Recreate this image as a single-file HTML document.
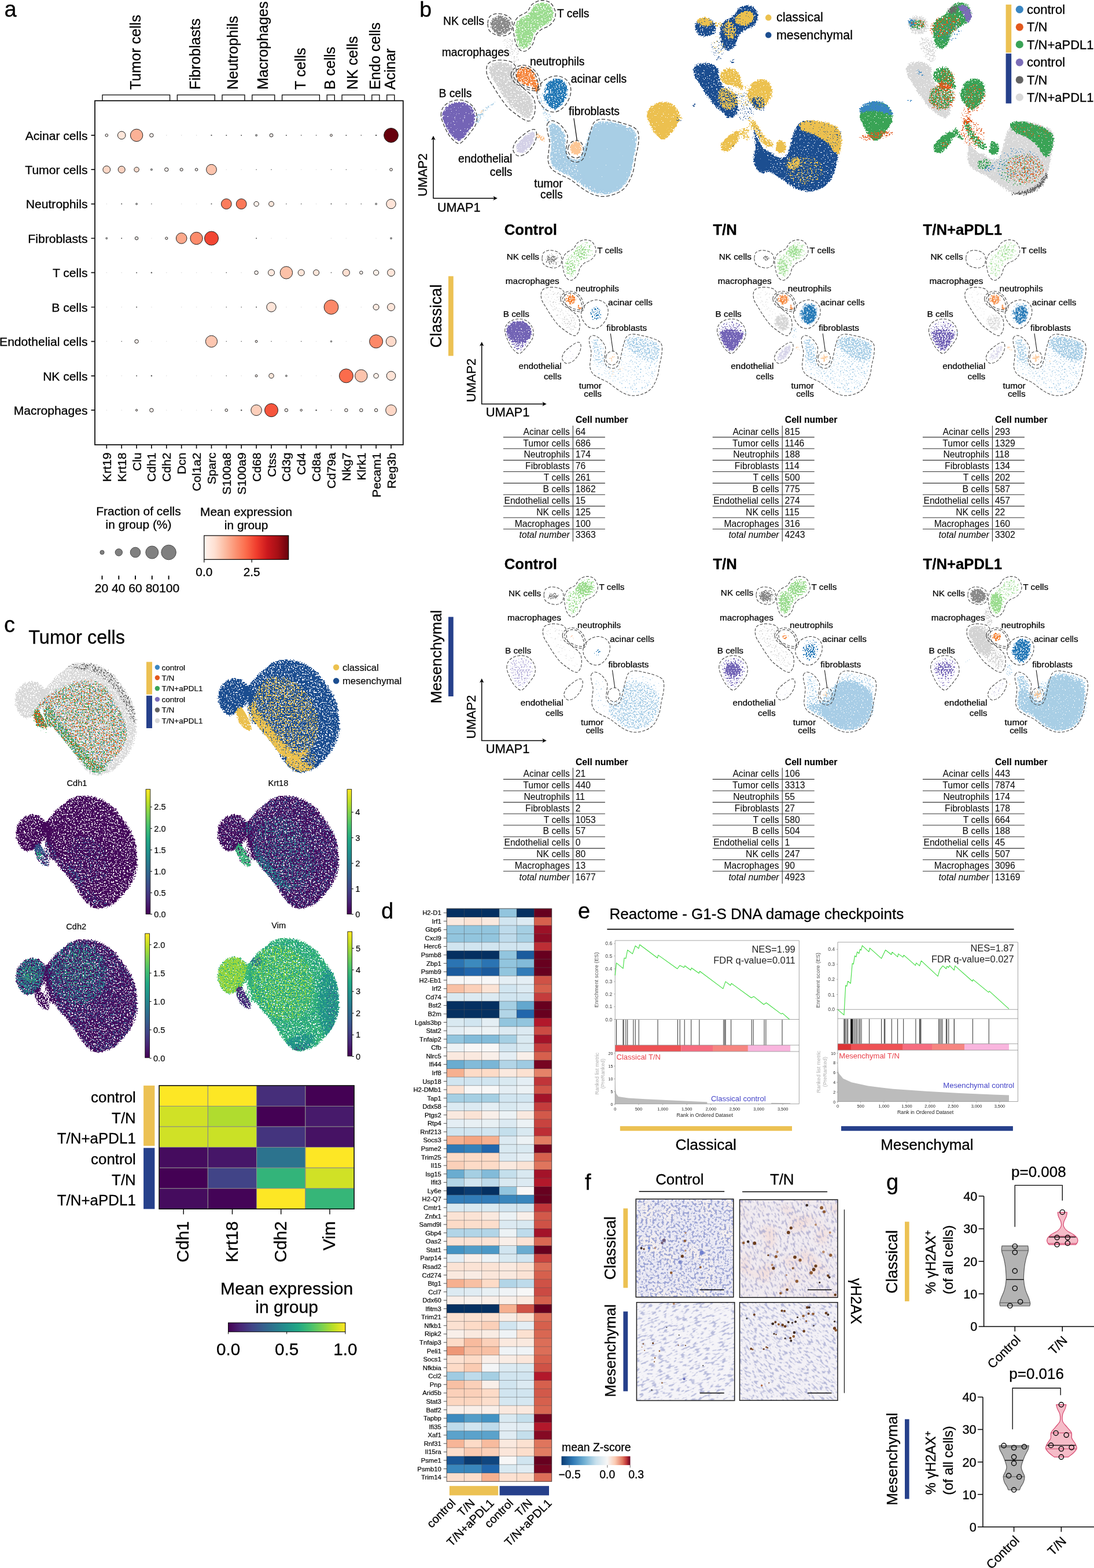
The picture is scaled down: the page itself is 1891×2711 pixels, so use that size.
<!DOCTYPE html>
<html lang="en"><head><meta charset="utf-8"><title>Figure</title>
<style>
html,body{margin:0;padding:0;background:#fff}
svg{display:block}
text{font-family:"Liberation Sans",sans-serif;stroke:#000;stroke-width:.3px}
text[fill],.ns text{stroke:none}
.n1{stroke-width:.15px}
.n2 text{stroke-width:.3px}
.n3 text{stroke-width:.2px}
</style></head><body>
<svg width="1891" height="2711" viewBox="0 0 1891 2711">
<rect width="1891" height="2711" fill="#fff"/>
<text x="7.5" y="28.8" font-size="38">a</text>
<text transform="translate(242.9 155) rotate(-90)" font-size="25.2">Tumor cells</text>
<text transform="translate(346.4 155) rotate(-90)" font-size="25.2">Fibroblasts</text>
<text transform="translate(411.1 155) rotate(-90)" font-size="25.2">Neutrophils</text>
<text transform="translate(462.9 155) rotate(-90)" font-size="25.2">Macrophages</text>
<text transform="translate(527.6 155) rotate(-90)" font-size="25.2">T cells</text>
<text transform="translate(579.4 155) rotate(-90)" font-size="25.2">B cells</text>
<text transform="translate(618.2 155) rotate(-90)" font-size="25.2">NK cells</text>
<text transform="translate(657 155) rotate(-90)" font-size="25.2">Endo cells</text>
<text transform="translate(682.9 155) rotate(-90)" font-size="25.2">Acinar</text>
<path d="M177 174.2V164.2H293.6V174.2M306.4 174.2V164.2H371.3V174.2M384 174.2V164.2H423V174.2M435.8 174.2V164.2H474.8V174.2M487.6 174.2V164.2H552.4V174.2M565.2 174.2V164.2H578.3V174.2M591.1 174.2V164.2H630.1V174.2M642.8 174.2V164.2H655.9V174.2M668.7 174.2V164.2H681.8V174.2" fill="none" stroke="#000" stroke-width="1.3"/>
<rect x="164" y="174.2" width="532.8" height="594.8" fill="none" stroke="#111" stroke-width="1.8"/>
<path d="M157.5 233.9H164M157.5 293.2H164M157.5 352.6H164M157.5 412H164M157.5 471.4H164M157.5 531H164M157.5 590.3H164M157.5 649.8H164M157.5 709.2H164M184.3 769V775.6M210.2 769V775.6M236.1 769V775.6M261.9 769V775.6M287.8 769V775.6M313.7 769V775.6M339.6 769V775.6M365.5 769V775.6M391.3 769V775.6M417.2 769V775.6M443.1 769V775.6M469 769V775.6M494.9 769V775.6M520.7 769V775.6M546.6 769V775.6M572.5 769V775.6M598.4 769V775.6M624.3 769V775.6M650.1 769V775.6M676 769V775.6" fill="none" stroke="#111" stroke-width="1.7"/>
<text x="151.5" y="241.7" font-size="21.1" text-anchor="end">Acinar cells</text>
<text x="151.5" y="301" font-size="21.1" text-anchor="end">Tumor cells</text>
<text x="151.5" y="360.4" font-size="21.1" text-anchor="end">Neutrophils</text>
<text x="151.5" y="419.8" font-size="21.1" text-anchor="end">Fibroblasts</text>
<text x="151.5" y="479.2" font-size="21.1" text-anchor="end">T cells</text>
<text x="151.5" y="538.8" font-size="21.1" text-anchor="end">B cells</text>
<text x="151.5" y="598.1" font-size="21.1" text-anchor="end">Endothelial cells</text>
<text x="151.5" y="657.6" font-size="21.1" text-anchor="end">NK cells</text>
<text x="151.5" y="717" font-size="21.1" text-anchor="end">Macrophages</text>
<text transform="translate(191.8 782.5) rotate(-90)" font-size="21.1" text-anchor="end">Krt19</text>
<text transform="translate(217.7 782.5) rotate(-90)" font-size="21.1" text-anchor="end">Krt18</text>
<text transform="translate(243.6 782.5) rotate(-90)" font-size="21.1" text-anchor="end">Clu</text>
<text transform="translate(269.4 782.5) rotate(-90)" font-size="21.1" text-anchor="end">Cdh1</text>
<text transform="translate(295.3 782.5) rotate(-90)" font-size="21.1" text-anchor="end">Cdh2</text>
<text transform="translate(321.2 782.5) rotate(-90)" font-size="21.1" text-anchor="end">Dcn</text>
<text transform="translate(347.1 782.5) rotate(-90)" font-size="21.1" text-anchor="end">Col1a2</text>
<text transform="translate(373 782.5) rotate(-90)" font-size="21.1" text-anchor="end">Sparc</text>
<text transform="translate(398.8 782.5) rotate(-90)" font-size="21.1" text-anchor="end">S100a8</text>
<text transform="translate(424.7 782.5) rotate(-90)" font-size="21.1" text-anchor="end">S100a9</text>
<text transform="translate(450.6 782.5) rotate(-90)" font-size="21.1" text-anchor="end">Cd68</text>
<text transform="translate(476.5 782.5) rotate(-90)" font-size="21.1" text-anchor="end">Ctss</text>
<text transform="translate(502.4 782.5) rotate(-90)" font-size="21.1" text-anchor="end">Cd3g</text>
<text transform="translate(528.2 782.5) rotate(-90)" font-size="21.1" text-anchor="end">Cd4</text>
<text transform="translate(554.1 782.5) rotate(-90)" font-size="21.1" text-anchor="end">Cd8a</text>
<text transform="translate(580 782.5) rotate(-90)" font-size="21.1" text-anchor="end">Cd79a</text>
<text transform="translate(605.9 782.5) rotate(-90)" font-size="21.1" text-anchor="end">Nkg7</text>
<text transform="translate(631.8 782.5) rotate(-90)" font-size="21.1" text-anchor="end">Klrk1</text>
<text transform="translate(657.6 782.5) rotate(-90)" font-size="21.1" text-anchor="end">Pecam1</text>
<text transform="translate(683.5 782.5) rotate(-90)" font-size="21.1" text-anchor="end">Reg3b</text>
<circle cx="184.3" cy="233.9" r="2.3" fill="#fff5f0" stroke="#222" stroke-width="1"/>
<circle cx="210.2" cy="233.9" r="6.8" fill="#fee6da" stroke="#222" stroke-width="1"/>
<circle cx="236.1" cy="233.9" r="10.7" fill="#fcb196" stroke="#222" stroke-width="1"/>
<circle cx="261.9" cy="233.9" r="3.2" fill="#fff5f0" stroke="#222" stroke-width="1"/>
<circle cx="287.8" cy="233.9" r="0.8" fill="#ddd"/>
<circle cx="313.7" cy="233.9" r="0.8" fill="#ddd"/>
<circle cx="339.6" cy="233.9" r="0.8" fill="#ddd"/>
<circle cx="365.5" cy="233.9" r="1.1" fill="#555"/>
<circle cx="391.3" cy="233.9" r="1" fill="#555"/>
<circle cx="417.2" cy="233.9" r="1" fill="#555"/>
<circle cx="443.1" cy="233.9" r="1.7" fill="#999" stroke="#444" stroke-width="0.6"/>
<circle cx="469" cy="233.9" r="2.9" fill="#fff5f0" stroke="#222" stroke-width="1"/>
<circle cx="494.9" cy="233.9" r="1" fill="#555"/>
<circle cx="520.7" cy="233.9" r="0.8" fill="#555"/>
<circle cx="546.6" cy="233.9" r="0.8" fill="#555"/>
<circle cx="572.5" cy="233.9" r="1.9" fill="#fff5f0" stroke="#222" stroke-width="1"/>
<circle cx="598.4" cy="233.9" r="1" fill="#555"/>
<circle cx="624.3" cy="233.9" r="0.8" fill="#555"/>
<circle cx="650.1" cy="233.9" r="1.2" fill="#555"/>
<circle cx="676" cy="233.9" r="12.4" fill="#67000d" stroke="#222" stroke-width="1"/>
<circle cx="184.3" cy="293.2" r="6.4" fill="#fed7c6" stroke="#222" stroke-width="1"/>
<circle cx="210.2" cy="293.2" r="6" fill="#fdd1bf" stroke="#222" stroke-width="1"/>
<circle cx="236.1" cy="293.2" r="4.2" fill="#fedccd" stroke="#222" stroke-width="1"/>
<circle cx="261.9" cy="293.2" r="1.7" fill="#999" stroke="#444" stroke-width="0.6"/>
<circle cx="287.8" cy="293.2" r="3.2" fill="#fff5f0" stroke="#222" stroke-width="1"/>
<circle cx="313.7" cy="293.2" r="2.5" fill="#fff5f0" stroke="#222" stroke-width="1"/>
<circle cx="339.6" cy="293.2" r="2.3" fill="#fff5f0" stroke="#222" stroke-width="1"/>
<circle cx="365.5" cy="293.2" r="8.9" fill="#fcc3ac" stroke="#222" stroke-width="1"/>
<circle cx="391.3" cy="293.2" r="0.8" fill="#ddd"/>
<circle cx="417.2" cy="293.2" r="0.8" fill="#ddd"/>
<circle cx="443.1" cy="293.2" r="0.8" fill="#555"/>
<circle cx="469" cy="293.2" r="0.8" fill="#555"/>
<circle cx="494.9" cy="293.2" r="0.8" fill="#ddd"/>
<circle cx="520.7" cy="293.2" r="0.8" fill="#ddd"/>
<circle cx="546.6" cy="293.2" r="0.8" fill="#ddd"/>
<circle cx="572.5" cy="293.2" r="0.7" fill="#555"/>
<circle cx="598.4" cy="293.2" r="0.7" fill="#555"/>
<circle cx="624.3" cy="293.2" r="0.8" fill="#ddd"/>
<circle cx="650.1" cy="293.2" r="0.8" fill="#ddd"/>
<circle cx="676" cy="293.2" r="2.3" fill="#fff5f0" stroke="#222" stroke-width="1"/>
<circle cx="184.3" cy="352.6" r="0.8" fill="#ddd"/>
<circle cx="210.2" cy="352.6" r="1" fill="#555"/>
<circle cx="236.1" cy="352.6" r="1.6" fill="#999" stroke="#444" stroke-width="0.6"/>
<circle cx="261.9" cy="352.6" r="0.8" fill="#555"/>
<circle cx="313.7" cy="352.6" r="0.8" fill="#ddd"/>
<circle cx="339.6" cy="352.6" r="0.8" fill="#ddd"/>
<circle cx="365.5" cy="352.6" r="1" fill="#555"/>
<circle cx="391.3" cy="352.6" r="8.9" fill="#fb7c5c" stroke="#222" stroke-width="1"/>
<circle cx="417.2" cy="352.6" r="8.9" fill="#fb7858" stroke="#222" stroke-width="1"/>
<circle cx="443.1" cy="352.6" r="4.2" fill="#fff0e9" stroke="#222" stroke-width="1"/>
<circle cx="469" cy="352.6" r="4.4" fill="#fee6da" stroke="#222" stroke-width="1"/>
<circle cx="494.9" cy="352.6" r="0.8" fill="#555"/>
<circle cx="520.7" cy="352.6" r="0.8" fill="#555"/>
<circle cx="546.6" cy="352.6" r="0.8" fill="#ddd"/>
<circle cx="572.5" cy="352.6" r="1" fill="#555"/>
<circle cx="598.4" cy="352.6" r="0.8" fill="#555"/>
<circle cx="624.3" cy="352.6" r="0.8" fill="#555"/>
<circle cx="650.1" cy="352.6" r="1.6" fill="#999" stroke="#444" stroke-width="0.6"/>
<circle cx="676" cy="352.6" r="8.2" fill="#fee4d8" stroke="#222" stroke-width="1"/>
<circle cx="184.3" cy="412" r="1.6" fill="#999" stroke="#444" stroke-width="0.6"/>
<circle cx="210.2" cy="412" r="1" fill="#555"/>
<circle cx="236.1" cy="412" r="2.7" fill="#fff5f0" stroke="#222" stroke-width="1"/>
<circle cx="261.9" cy="412" r="0.8" fill="#ddd"/>
<circle cx="287.8" cy="412" r="2.1" fill="#fff5f0" stroke="#222" stroke-width="1"/>
<circle cx="313.7" cy="412" r="9.3" fill="#fca88b" stroke="#222" stroke-width="1"/>
<circle cx="339.6" cy="412" r="10.7" fill="#fc8b6b" stroke="#222" stroke-width="1"/>
<circle cx="365.5" cy="412" r="12" fill="#f24633" stroke="#222" stroke-width="1"/>
<circle cx="443.1" cy="412" r="1" fill="#555"/>
<circle cx="469" cy="412" r="0.8" fill="#ddd"/>
<circle cx="494.9" cy="412" r="0.8" fill="#ddd"/>
<circle cx="572.5" cy="412" r="0.8" fill="#ddd"/>
<circle cx="598.4" cy="412" r="0.8" fill="#ddd"/>
<circle cx="650.1" cy="412" r="0.8" fill="#ddd"/>
<circle cx="676" cy="412" r="1.5" fill="#999" stroke="#444" stroke-width="0.6"/>
<circle cx="184.3" cy="471.4" r="0.8" fill="#ddd"/>
<circle cx="210.2" cy="471.4" r="0.8" fill="#ddd"/>
<circle cx="236.1" cy="471.4" r="1" fill="#555"/>
<circle cx="261.9" cy="471.4" r="1.2" fill="#555"/>
<circle cx="287.8" cy="471.4" r="0.8" fill="#ddd"/>
<circle cx="313.7" cy="471.4" r="0.8" fill="#ddd"/>
<circle cx="339.6" cy="471.4" r="0.8" fill="#ddd"/>
<circle cx="365.5" cy="471.4" r="0.8" fill="#ddd"/>
<circle cx="391.3" cy="471.4" r="0.8" fill="#555"/>
<circle cx="417.2" cy="471.4" r="0.8" fill="#ddd"/>
<circle cx="443.1" cy="471.4" r="3.2" fill="#fff5f0" stroke="#222" stroke-width="1"/>
<circle cx="469" cy="471.4" r="5.5" fill="#fee9df" stroke="#222" stroke-width="1"/>
<circle cx="494.9" cy="471.4" r="10.7" fill="#fcc1a8" stroke="#222" stroke-width="1"/>
<circle cx="520.7" cy="471.4" r="5.5" fill="#fee6da" stroke="#222" stroke-width="1"/>
<circle cx="546.6" cy="471.4" r="5" fill="#fee6da" stroke="#222" stroke-width="1"/>
<circle cx="572.5" cy="471.4" r="0.8" fill="#555"/>
<circle cx="598.4" cy="471.4" r="6" fill="#fedfd1" stroke="#222" stroke-width="1"/>
<circle cx="624.3" cy="471.4" r="2.7" fill="#fff5f0" stroke="#222" stroke-width="1"/>
<circle cx="650.1" cy="471.4" r="4.6" fill="#fff0e9" stroke="#222" stroke-width="1"/>
<circle cx="676" cy="471.4" r="6.4" fill="#fee6da" stroke="#222" stroke-width="1"/>
<circle cx="184.3" cy="531" r="0.8" fill="#ddd"/>
<circle cx="210.2" cy="531" r="0.8" fill="#ddd"/>
<circle cx="236.1" cy="531" r="1" fill="#555"/>
<circle cx="261.9" cy="531" r="0.8" fill="#ddd"/>
<circle cx="313.7" cy="531" r="0.8" fill="#ddd"/>
<circle cx="339.6" cy="531" r="0.8" fill="#ddd"/>
<circle cx="365.5" cy="531" r="0.8" fill="#ddd"/>
<circle cx="391.3" cy="531" r="0.8" fill="#555"/>
<circle cx="417.2" cy="531" r="0.8" fill="#555"/>
<circle cx="443.1" cy="531" r="1" fill="#555"/>
<circle cx="469" cy="531" r="8.2" fill="#fee4d8" stroke="#222" stroke-width="1"/>
<circle cx="494.9" cy="531" r="0.8" fill="#ddd"/>
<circle cx="520.7" cy="531" r="0.8" fill="#ddd"/>
<circle cx="546.6" cy="531" r="0.8" fill="#ddd"/>
<circle cx="572.5" cy="531" r="12.4" fill="#fc8868" stroke="#222" stroke-width="1"/>
<circle cx="598.4" cy="531" r="0.8" fill="#ddd"/>
<circle cx="624.3" cy="531" r="0.8" fill="#ddd"/>
<circle cx="650.1" cy="531" r="5" fill="#feeae1" stroke="#222" stroke-width="1"/>
<circle cx="676" cy="531" r="6.4" fill="#fee6da" stroke="#222" stroke-width="1"/>
<circle cx="184.3" cy="590.3" r="0.8" fill="#ddd"/>
<circle cx="210.2" cy="590.3" r="0.8" fill="#555"/>
<circle cx="236.1" cy="590.3" r="3.2" fill="#fff5f0" stroke="#222" stroke-width="1"/>
<circle cx="261.9" cy="590.3" r="0.8" fill="#ddd"/>
<circle cx="287.8" cy="590.3" r="0.8" fill="#ddd"/>
<circle cx="339.6" cy="590.3" r="0.8" fill="#ddd"/>
<circle cx="365.5" cy="590.3" r="10.1" fill="#fdc6b0" stroke="#222" stroke-width="1"/>
<circle cx="391.3" cy="590.3" r="0.8" fill="#555"/>
<circle cx="417.2" cy="590.3" r="0.8" fill="#555"/>
<circle cx="443.1" cy="590.3" r="1.9" fill="#fff5f0" stroke="#222" stroke-width="1"/>
<circle cx="469" cy="590.3" r="0.8" fill="#555"/>
<circle cx="494.9" cy="590.3" r="0.8" fill="#ddd"/>
<circle cx="520.7" cy="590.3" r="0.8" fill="#555"/>
<circle cx="546.6" cy="590.3" r="0.8" fill="#ddd"/>
<circle cx="572.5" cy="590.3" r="1.4" fill="#999" stroke="#444" stroke-width="0.6"/>
<circle cx="598.4" cy="590.3" r="0.8" fill="#ddd"/>
<circle cx="624.3" cy="590.3" r="0.8" fill="#ddd"/>
<circle cx="650.1" cy="590.3" r="11.5" fill="#fc8868" stroke="#222" stroke-width="1"/>
<circle cx="676" cy="590.3" r="8.7" fill="#fedaca" stroke="#222" stroke-width="1"/>
<circle cx="184.3" cy="649.8" r="0.8" fill="#ddd"/>
<circle cx="210.2" cy="649.8" r="0.8" fill="#ddd"/>
<circle cx="236.1" cy="649.8" r="1" fill="#555"/>
<circle cx="261.9" cy="649.8" r="1.2" fill="#555"/>
<circle cx="287.8" cy="649.8" r="0.8" fill="#ddd"/>
<circle cx="339.6" cy="649.8" r="0.8" fill="#ddd"/>
<circle cx="365.5" cy="649.8" r="0.8" fill="#ddd"/>
<circle cx="391.3" cy="649.8" r="0.8" fill="#555"/>
<circle cx="417.2" cy="649.8" r="0.8" fill="#ddd"/>
<circle cx="443.1" cy="649.8" r="1.9" fill="#fff5f0" stroke="#222" stroke-width="1"/>
<circle cx="469" cy="649.8" r="4.2" fill="#fee6da" stroke="#222" stroke-width="1"/>
<circle cx="494.9" cy="649.8" r="1.6" fill="#999" stroke="#444" stroke-width="0.6"/>
<circle cx="520.7" cy="649.8" r="0.8" fill="#ddd"/>
<circle cx="546.6" cy="649.8" r="0.8" fill="#ddd"/>
<circle cx="572.5" cy="649.8" r="0.8" fill="#ddd"/>
<circle cx="598.4" cy="649.8" r="12" fill="#fb6c4c" stroke="#222" stroke-width="1"/>
<circle cx="624.3" cy="649.8" r="10.7" fill="#fcc3ac" stroke="#222" stroke-width="1"/>
<circle cx="650.1" cy="649.8" r="4.2" fill="#fff0e9" stroke="#222" stroke-width="1"/>
<circle cx="676" cy="649.8" r="7.8" fill="#fee3d6" stroke="#222" stroke-width="1"/>
<circle cx="184.3" cy="709.2" r="0.8" fill="#ddd"/>
<circle cx="210.2" cy="709.2" r="0.8" fill="#ddd"/>
<circle cx="236.1" cy="709.2" r="1.6" fill="#fff5f0" stroke="#222" stroke-width="1"/>
<circle cx="261.9" cy="709.2" r="3.2" fill="#fff5f0" stroke="#222" stroke-width="1"/>
<circle cx="287.8" cy="709.2" r="0.8" fill="#ddd"/>
<circle cx="313.7" cy="709.2" r="0.8" fill="#ddd"/>
<circle cx="339.6" cy="709.2" r="0.8" fill="#ddd"/>
<circle cx="365.5" cy="709.2" r="0.8" fill="#555"/>
<circle cx="391.3" cy="709.2" r="2.3" fill="#fff5f0" stroke="#222" stroke-width="1"/>
<circle cx="417.2" cy="709.2" r="1.2" fill="#555"/>
<circle cx="443.1" cy="709.2" r="9.3" fill="#fdcfbb" stroke="#222" stroke-width="1"/>
<circle cx="469" cy="709.2" r="11.5" fill="#f6553d" stroke="#222" stroke-width="1"/>
<circle cx="494.9" cy="709.2" r="2.7" fill="#fff5f0" stroke="#222" stroke-width="1"/>
<circle cx="520.7" cy="709.2" r="1.7" fill="#fff5f0" stroke="#222" stroke-width="1"/>
<circle cx="546.6" cy="709.2" r="1.2" fill="#555"/>
<circle cx="572.5" cy="709.2" r="0.8" fill="#555"/>
<circle cx="598.4" cy="709.2" r="2.7" fill="#fff5f0" stroke="#222" stroke-width="1"/>
<circle cx="624.3" cy="709.2" r="2.7" fill="#fff5f0" stroke="#222" stroke-width="1"/>
<circle cx="650.1" cy="709.2" r="2.7" fill="#fff5f0" stroke="#222" stroke-width="1"/>
<circle cx="676" cy="709.2" r="9.3" fill="#fed7c6" stroke="#222" stroke-width="1"/>
<text x="239.5" y="890.7" font-size="20.9" text-anchor="middle">Fraction of cells</text>
<text x="239.5" y="913.8" font-size="20.9" text-anchor="middle">in group (%)</text>
<circle cx="176.5" cy="955" r="3.6" fill="#808080" stroke="#333" stroke-width="0.8"/>
<path d="M176.5 995.3L176.5 1001.8" stroke="#000" stroke-width="1.9"/>
<circle cx="205.3" cy="955" r="6.2" fill="#808080" stroke="#333" stroke-width="0.8"/>
<path d="M205.3 995.3L205.3 1001.8" stroke="#000" stroke-width="1.9"/>
<circle cx="234" cy="955" r="8.8" fill="#808080" stroke="#333" stroke-width="0.8"/>
<path d="M234 995.3L234 1001.8" stroke="#000" stroke-width="1.9"/>
<circle cx="262.8" cy="955" r="11" fill="#808080" stroke="#333" stroke-width="0.8"/>
<path d="M262.8 995.3L262.8 1001.8" stroke="#000" stroke-width="1.9"/>
<circle cx="291.6" cy="955" r="12.8" fill="#808080" stroke="#333" stroke-width="0.8"/>
<path d="M291.6 995.3L291.6 1001.8" stroke="#000" stroke-width="1.9"/>
<text x="237" y="1023.8" font-size="21.1" text-anchor="middle">20 40 60 80100</text>
<text x="425.6" y="891.5" font-size="20.9" text-anchor="middle">Mean expression</text>
<text x="425.6" y="914.5" font-size="20.9" text-anchor="middle">in group</text>
<defs><linearGradient id="gR" x1="0" y1="0" x2="1" y2="0"><stop offset="0%" stop-color="#fff5f0"/><stop offset="12.5%" stop-color="#fee0d2"/><stop offset="25%" stop-color="#fcbba1"/><stop offset="37.5%" stop-color="#fc9272"/><stop offset="50%" stop-color="#fb6a4a"/><stop offset="62.5%" stop-color="#ef3b2c"/><stop offset="75%" stop-color="#cb181d"/><stop offset="87.5%" stop-color="#a50f15"/><stop offset="100%" stop-color="#67000d"/></linearGradient></defs>
<rect x="352.8" y="926" width="145.9" height="41.3" fill="url(#gR)" stroke="#000" stroke-width="1.2"/>
<path d="M352.8 967.3L352.8 972.5" stroke="#000" stroke-width="1.2"/>
<path d="M435.2 967.3L435.2 972.5" stroke="#000" stroke-width="1.2"/>
<text x="352.8" y="995.5" font-size="20.9" text-anchor="middle">0.0</text>
<text x="435.2" y="995.5" font-size="20.9" text-anchor="middle">2.5</text>
<defs><path id="f_nk" d="M847.9 42.7C847.5 38.7 849.1 34.6 851.5 32C853.9 29.5 858.4 27.7 862.2 27.3C865.9 26.9 870.7 27.9 874 29.6C877.3 31.4 880.3 34.8 881.8 38C883.3 41.1 883.9 45.5 883 48.6C882.1 51.8 879.5 55.1 876.4 56.9C873.3 58.7 868.3 59.5 864.5 59.3C860.8 59.1 856.6 58.5 853.9 55.7C851.1 53 848.3 46.6 847.9 42.7Z"/><path id="f_t" d="M891.8 42.7C893 38 895.4 35.6 898.9 32.5C902.5 29.4 909.2 27.8 913.1 24.2C917.1 20.6 918.9 14.4 922.6 11.1C926.4 7.9 931.3 5.3 935.7 4.7C940 4.2 945.3 5.2 948.7 7.6C952.2 10 955.3 14.9 956.3 19C957.3 23 956.3 28.3 954.7 32C953 35.8 949.9 38.9 946.4 41.5C942.8 44.2 937.3 44.9 933.3 47.9C929.4 50.9 925.2 55 922.6 59.3C920.1 63.6 920.1 69.6 917.9 73.5C915.7 77.5 912.2 81.2 909.6 83C907 84.8 904.8 85.4 902.5 84.2C900.1 83 897.1 79.9 895.4 75.9C893.6 71.9 892.4 66 891.8 60.5C891.2 54.9 890.6 47.4 891.8 42.7Z"/><path id="f_mac" d="M845.6 118.6C845.7 115.2 846.9 113.3 849.1 111.5C851.3 109.7 854.6 108.5 858.6 107.9C862.5 107.3 868.9 107.3 872.8 107.9C876.8 108.5 879.7 109.7 882.3 111.5C884.9 113.3 887.2 115.4 888.2 118.6C889.3 121.8 887.9 126.5 888.5 130.5C889.1 134.4 889.7 138.4 891.8 142.3C893.9 146.3 897.7 150.6 901.3 154.2C904.8 157.7 910 160.5 913.1 163.7C916.3 166.8 918.8 169.6 920.3 173.1C921.7 176.7 921.8 181.1 921.7 185C921.5 189 920.7 193.6 919.3 196.9C917.9 200.1 915.4 203.6 913.1 204.5C910.9 205.3 909.2 204.1 906 202.1C902.9 200.1 898.3 196 894.2 192.6C890 189.2 885.5 186.3 881.1 181.5C876.8 176.6 872.2 169.8 868.1 163.7C863.9 157.5 859.6 150 856.2 144.7C852.9 139.4 849.7 136 847.9 131.6C846.1 127.3 845.4 122 845.6 118.6Z"/><path id="f_neu" d="M891.8 129.3C892 126.3 893.4 123.1 895.4 121C897.3 118.8 900.5 116.8 903.7 116.2C906.8 115.6 911.2 116 914.3 117.4C917.5 118.8 920.7 121.8 922.6 124.5C924.6 127.3 925.1 130.7 926.2 134C927.3 137.4 928.4 141.6 929.3 144.7C930.1 147.8 931.5 150.9 931.2 152.5C930.9 154.2 929.2 155.2 927.4 154.6C925.6 154.1 923 150.7 920.3 149.4C917.5 148.2 913.9 147.8 910.8 147.1C907.6 146.3 904.1 146.1 901.3 144.7C898.5 143.3 895.8 141.3 894.2 138.8C892.6 136.2 891.6 132.2 891.8 129.3Z"/><path id="f_aci" d="M941.6 154.2C942.9 151.3 943.9 146.9 945.9 144.2C947.9 141.6 950.6 139.7 953.5 138.3C956.3 136.9 959.6 135.4 963 135.7C966.3 136 970.9 137.7 973.6 139.9C976.4 142.2 978.5 145.5 979.6 149.4C980.6 153.4 980.8 159.3 980 163.7C979.2 168 977.1 172 974.8 175.5C972.6 179.1 969.1 182.6 966.5 185C963.9 187.4 962 189.7 959.4 189.8C956.8 189.8 953.6 187.5 951.1 185.5C948.6 183.5 946.4 180.7 944.5 177.9C942.6 175.1 940.8 171.6 939.7 168.9C938.6 166.1 937.7 163.7 938.1 161.3C938.4 158.8 940.3 157 941.6 154.2Z"/><path id="f_b" d="M764.9 199.2C764.9 194.7 767.1 190.7 769.6 187.4C772.2 184 776.2 180.9 780.3 179.1C784.5 177.3 790 176.5 794.6 176.7C799.1 176.9 803.8 178.1 807.6 180.3C811.4 182.4 814.9 186.2 817.1 189.8C819.3 193.3 820.4 197.5 820.6 201.6C820.8 205.8 820.1 210.5 818.3 214.7C816.5 218.8 812.7 222.8 810 226.5C807.2 230.3 804.4 234.4 801.7 237.2C798.9 240 795.9 242.7 793.4 243.1C790.8 243.5 789 241.9 786.3 239.6C783.5 237.2 779.5 233 776.8 228.9C774 224.7 771.6 219.6 769.6 214.7C767.7 209.7 764.9 203.8 764.9 199.2Z"/><path id="f_endo" d="M893 255C893.5 252.6 894.4 249.6 896.5 246.7C898.7 243.7 902.7 240.2 906 237.2C909.4 234.2 913.9 230.4 916.7 228.9C919.5 227.4 921.4 227.2 922.6 228.2C923.9 229.2 924.2 232.1 924.1 234.8C923.9 237.5 923.1 241.1 921.7 244.3C920.3 247.5 918.1 250.8 915.5 253.8C912.9 256.8 909 260.3 906 262.1C903.1 263.9 899.8 264.9 897.7 264.7C895.7 264.5 894.5 262.5 893.7 260.9C892.9 259.3 892.5 257.4 893 255Z"/><path id="f_fib" d="M985.7 255.7C985.7 253.1 986.9 250.4 988.6 248.6C990.2 246.8 993.4 244.9 995.7 244.8C998 244.7 1000.8 246.2 1002.3 248.1C1003.9 250 1005.1 253.5 1005.2 256.2C1005.3 258.9 1004.3 262.3 1002.8 264.2C1001.3 266.1 998.5 267.6 996.2 267.6C993.9 267.6 990.8 266.2 989.1 264.2C987.3 262.3 985.8 258.3 985.7 255.7Z"/><path id="f_tum" d="M949.9 217C950.9 214.5 953.5 212.7 955.8 212.8C958.2 212.8 961.4 215.2 964.1 217.5C966.9 219.8 970.3 223.2 972.4 226.5C974.6 229.8 976.4 233 977.2 237.2C978 241.3 976.7 246.6 977.2 251.4C977.7 256.2 978.7 262.5 980.3 266.1C981.9 269.8 984 271.4 986.7 273.2C989.3 275.1 993 277 996.2 277C999.3 277 1003.2 275.9 1005.7 273.2C1008.1 270.6 1009.2 265.3 1010.6 260.9C1012.1 256.5 1012.6 252.2 1014.2 246.7C1015.8 241.1 1017.9 233 1020.1 227.7C1022.3 222.4 1024.1 217.8 1027.2 214.9C1030.4 212 1033.8 210.7 1038.9 210.2C1044 209.6 1051.5 210.5 1057.8 211.6C1064.2 212.6 1070.9 214.3 1076.8 216.3C1082.7 218.3 1089.7 220.7 1093.4 223.4C1097.2 226.2 1098.4 228.7 1099.3 232.9C1100.3 237.2 1100.1 242.4 1099.3 249.1C1098.6 255.7 1096.2 264.9 1094.6 272.8C1093 280.7 1092.4 288.8 1089.9 296.5C1087.3 304.2 1083.5 313.3 1079.2 319C1074.8 324.8 1069.7 328.1 1063.8 330.9C1057.8 333.6 1049.9 335.4 1043.6 335.6C1037.3 335.8 1031.7 334.4 1025.8 332.1C1019.9 329.7 1014.2 325.5 1008 321.4C1001.9 317.2 995.4 311.1 989.1 307.2C982.7 303.2 975.4 300.6 970.1 297.7C964.7 294.7 960.2 292.9 957 289.4C953.9 285.8 952 281.1 951.1 276.3C950.2 271.6 951.5 266.2 951.8 260.9C952.1 255.6 953.1 249.8 952.8 244.3C952.4 238.9 950.4 232.7 949.9 228.2C949.4 223.6 948.9 219.6 949.9 217Z"/><g id="ol" fill="none" stroke="#3c3c3c" stroke-width="1.3" stroke-dasharray="6.3 3.2"><path d="M843.2 40.3C843.3 36.3 844.2 31.2 846.7 28.5C849.3 25.7 854.2 24.2 858.6 23.7C862.9 23.2 868.8 24.1 872.8 25.6C876.9 27.1 880.9 29.5 883 32.7C885.2 36 885.8 41.1 885.6 45.1C885.5 49 884.8 53.6 882.3 56.5C879.9 59.3 875.3 61.4 870.9 61.9C866.6 62.5 860.4 61.3 856.2 59.8C852 58.2 848 55.9 845.8 52.7C843.6 49.4 843 44.4 843.2 40.3Z"/><path d="M887.8 43.9C888.9 38.5 891.4 33.6 895.4 29.6C899.3 25.7 907.2 23.8 911.3 20.2C915.3 16.5 915.9 10.8 919.8 7.6C923.7 4.4 929.4 1.5 934.5 0.9C939.6 0.4 946.4 1.3 950.6 4.3C954.8 7.3 958.3 14.2 959.6 19C960.9 23.8 960.2 29 958.5 33.2C956.7 37.4 953.1 41.3 949.2 44.4C945.3 47.4 938.9 48.5 935 51.5C931 54.4 927.9 58 925.5 62.1C923.1 66.3 923.1 72.3 920.7 76.4C918.4 80.5 914.4 84.8 911.3 86.8C908.1 88.8 904.8 89.6 901.8 88.2C898.8 86.9 895.4 83.1 893.2 78.7C891.1 74.4 889.6 68 888.7 62.1C887.8 56.3 886.7 49.3 887.8 43.9Z"/><path d="M840.8 119.8C841 115.8 841.8 112.2 844.4 109.6C846.9 107 851.5 105.2 856.2 104.4C861 103.5 868 103.8 872.8 104.4C877.7 105 882 105.9 885.2 107.9C888.3 110 890.7 113.3 891.8 116.7C892.9 120.1 891.6 124.6 892 128.6C892.5 132.5 892.6 136.5 894.6 140.4C896.7 144.4 900.6 148.7 904.1 152.3C907.7 155.8 912.9 158.6 916 161.8C919.1 164.9 921.3 167.3 922.9 171.3C924.4 175.2 925.2 180.7 925.2 185.5C925.2 190.2 924.5 195.8 922.9 199.7C921.3 203.6 918.6 207.8 915.8 209C913 210.2 910 208.8 906 206.8C902 204.9 896.5 200.9 891.8 197.3C887.1 193.8 882.3 190.6 877.6 185.5C872.8 180.3 867.7 172.8 863.3 166.5C859 160.2 854.8 153.1 851.5 147.5C848.1 142 845 137.9 843.2 133.3C841.4 128.7 840.6 123.7 840.8 119.8Z"/><path d="M883.3 129.3C883.1 125.3 885.2 121.8 888.2 119.1C891.2 116.3 896.7 113.5 901.3 112.9C905.8 112.3 911.2 113.1 915.5 115.3C919.9 117.4 924.6 122 927.4 125.7C930.2 129.4 931.1 133.5 932.4 137.6C933.6 141.6 935.5 146.7 934.7 149.9C934 153.1 931.1 155.8 927.9 156.8C924.7 157.7 919.9 156.7 915.5 155.6C911.1 154.5 905.6 152 901.3 149.9C896.9 147.8 892.4 146.2 889.4 142.8C886.4 139.4 883.5 133.2 883.3 129.3Z"/><path d="M887.5 130C887.4 126.9 889.4 124.1 891.8 121.9C894.3 119.7 898.5 117.3 902.2 116.7C906 116.1 910.5 116.8 914.1 118.6C917.7 120.4 921.6 124.2 924.1 127.6C926.5 131 927.7 135.5 928.8 139C929.9 142.5 930.9 146.1 930.5 148.5C930.1 150.8 928.8 152.4 926.4 153C924 153.5 919.9 152.9 916 151.8C912.1 150.7 907.1 148.5 903.2 146.6C899.3 144.7 895.4 143.2 892.8 140.4C890.1 137.7 887.7 133.1 887.5 130Z"/><path d="M929.3 154.6C930.7 150.6 933.6 145.7 936.9 142.3C940.1 138.9 944.4 136.1 948.7 134.3C953.1 132.4 958.2 131 963 131.4C967.7 131.8 973.4 133.6 977.2 136.4C981 139.2 984.3 143.7 985.7 148.2C987.2 152.8 987 158.7 986 163.7C985 168.6 982.4 173.7 979.8 177.9C977.2 182.1 973.7 186.2 970.1 188.8C966.5 191.5 962.6 193.5 958.2 193.8C953.9 194 948.1 192.8 944 190.2C939.8 187.7 935.9 182.3 933.3 178.4C930.7 174.4 929.2 170.5 928.6 166.5C927.9 162.6 927.9 158.7 929.3 154.6Z"/><path d="M762.3 199.7C762.1 194.6 763.5 189.4 766.1 185.5C768.7 181.5 773.2 178.1 778 176C782.7 173.9 789.4 172.8 794.6 172.9C799.7 173 804.6 174.3 808.8 176.7C813 179.1 817.1 183.2 819.7 187.4C822.3 191.5 824 196.9 824.4 201.6C824.8 206.4 823.8 211.4 822.1 215.8C820.3 220.3 816.8 224.1 813.8 228.2C810.8 232.2 807.2 236.7 804 240C800.8 243.4 797.5 247.3 794.6 248.1C791.6 248.9 789.4 247.3 786.3 244.8C783.1 242.3 778.7 237.7 775.6 232.9C772.4 228.2 769.5 221.9 767.3 216.3C765.1 210.8 762.5 204.9 762.3 199.7Z"/><path d="M886.8 256.6C887.2 253.3 889 248.6 891.8 244.8C894.6 241 899.7 237.1 903.7 233.9C907.6 230.7 912.1 227.2 915.5 225.6C918.9 223.9 922 223 924.1 223.9C926.1 224.9 927.4 227.9 927.6 231.3C927.8 234.7 926.8 240.1 925.2 244.3C923.7 248.5 920.9 253 918.1 256.6C915.4 260.2 912.2 263.7 908.6 265.9C905 268.1 899.7 269.8 896.5 269.7C893.3 269.5 891.1 267.1 889.4 264.9C887.8 262.8 886.4 260 886.8 256.6Z"/><path d="M981.9 255.7C982.6 252.8 984.3 248.8 986.7 246.7C989.1 244.5 993.2 242.9 996.2 242.9C999.2 242.9 1002.7 244.4 1004.7 246.7C1006.7 249 1008.1 253.2 1008.3 256.6C1008.5 260 1007.7 264.4 1005.9 267.1C1004.1 269.8 1000.6 272.4 997.6 273C994.6 273.6 990.6 272.2 988.1 270.6C985.6 269.1 983.7 266.2 982.6 263.8C981.6 261.3 981.3 258.5 981.9 255.7Z"/><path d="M945.9 214.7C947.1 211.5 950.2 209 953.5 208.7C956.7 208.5 961.8 210.6 965.3 213C968.9 215.4 972.2 219.3 974.8 223C977.4 226.6 980.2 230.5 981 234.8C981.8 239.2 980.2 244.2 979.8 249.1C979.4 253.9 977.9 259.3 978.6 263.8C979.4 268.2 981.4 272.8 984.3 275.6C987.2 278.4 992.4 280.4 996.2 280.4C1000 280.4 1004.3 278.9 1007.1 275.6C1009.9 272.4 1011.4 266.1 1013 260.9C1014.6 255.7 1015.2 250.2 1016.6 244.3C1017.9 238.4 1019.5 230.9 1021.3 225.3C1023.1 219.8 1024.3 214.3 1027.2 211.1C1030.2 207.9 1033.8 206.6 1038.9 206.1C1044 205.7 1051.5 207.3 1057.8 208.5C1064.2 209.7 1070.5 211.3 1076.8 213.2C1083.1 215.2 1091.4 217.5 1095.8 220.4C1100.2 223.2 1102.1 225.3 1103.4 230.1C1104.6 234.9 1104.2 241.9 1103.4 249.1C1102.6 256.2 1100.3 264.5 1098.6 272.8C1097 281.1 1096.5 290.5 1093.7 298.9C1090.8 307.2 1086.6 316.8 1081.8 322.8C1077 328.8 1071.3 331.9 1065 334.7C1058.6 337.5 1050.3 339.4 1043.6 339.7C1036.9 339.9 1031 338.5 1024.6 336.1C1018.3 333.7 1012 329.4 1005.7 325.2C999.3 321 993 314.9 986.7 311C980.4 307 973.2 304.6 967.7 301.5C962.2 298.3 956.9 296 953.5 292C950.1 288 948.1 282.7 947.3 277.5C946.5 272.3 948.1 266.4 948.5 260.9C948.9 255.4 950.3 249.8 949.9 244.3C949.6 238.8 947 232.6 946.4 227.7C945.7 222.8 944.7 217.8 945.9 214.7Z"/><path d="M991.9 204.5L997.4 243.1" stroke-dasharray="none" stroke="#111"/><g class="n2" font-size="19.3" stroke-dasharray="none" fill="#000"><text x="766.1" y="43.4">NK cells</text><text x="963" y="29.8">T cells</text><text x="763.7" y="97.4">macrophages</text><text x="916" y="112.9">neutrophils</text><text x="986.7" y="143">acinar cells</text><text x="758.5" y="168">B cells</text><text x="983.1" y="199">fibroblasts</text><text x="885.4" y="281.3" text-anchor="end">endothelial</text><text x="885.4" y="303.8" text-anchor="end">cells</text><text x="972.6" y="324" text-anchor="end">tumor</text><text x="972.6" y="342.5" text-anchor="end">cells</text></g></g><filter id="t1" x="-15%" y="-15%" width="130%" height="130%" color-interpolation-filters="sRGB"><feTurbulence type="fractalNoise" baseFrequency="0.33" numOctaves="2" seed="5" result="n"/><feGaussianBlur in="SourceAlpha" stdDeviation="2.4" result="a"/><feComposite in="a" in2="n" operator="arithmetic" k1="0" k2="1" k3="1" k4="-1.0" result="m0"/><feColorMatrix in="m0" type="matrix" values="0 0 0 0 0 0 0 0 0 0 0 0 0 0 0 0 0 0 30 0" result="m"/><feComponentTransfer in="SourceGraphic" result="c"><feFuncA type="linear" slope="1000"/></feComponentTransfer><feComposite in="c" in2="m" operator="in"/></filter><filter id="t2" x="-15%" y="-15%" width="130%" height="130%" color-interpolation-filters="sRGB"><feTurbulence type="fractalNoise" baseFrequency="0.33" numOctaves="2" seed="13" result="n"/><feGaussianBlur in="SourceAlpha" stdDeviation="2.4" result="a"/><feComposite in="a" in2="n" operator="arithmetic" k1="0" k2="1" k3="1" k4="-1.0" result="m0"/><feColorMatrix in="m0" type="matrix" values="0 0 0 0 0 0 0 0 0 0 0 0 0 0 0 0 0 0 30 0" result="m"/><feComponentTransfer in="SourceGraphic" result="c"><feFuncA type="linear" slope="1000"/></feComponentTransfer><feComposite in="c" in2="m" operator="in"/></filter><filter id="t3" x="-15%" y="-15%" width="130%" height="130%" color-interpolation-filters="sRGB"><feTurbulence type="fractalNoise" baseFrequency="0.33" numOctaves="2" seed="29" result="n"/><feGaussianBlur in="SourceAlpha" stdDeviation="2.4" result="a"/><feComposite in="a" in2="n" operator="arithmetic" k1="0" k2="1" k3="1" k4="-1.0" result="m0"/><feColorMatrix in="m0" type="matrix" values="0 0 0 0 0 0 0 0 0 0 0 0 0 0 0 0 0 0 30 0" result="m"/><feComponentTransfer in="SourceGraphic" result="c"><feFuncA type="linear" slope="1000"/></feComponentTransfer><feComposite in="c" in2="m" operator="in"/></filter><filter id="t4" x="-15%" y="-15%" width="130%" height="130%" color-interpolation-filters="sRGB"><feTurbulence type="fractalNoise" baseFrequency="0.33" numOctaves="2" seed="41" result="n"/><feGaussianBlur in="SourceAlpha" stdDeviation="2.4" result="a"/><feComposite in="a" in2="n" operator="arithmetic" k1="0" k2="1" k3="1" k4="-1.0" result="m0"/><feColorMatrix in="m0" type="matrix" values="0 0 0 0 0 0 0 0 0 0 0 0 0 0 0 0 0 0 30 0" result="m"/><feComponentTransfer in="SourceGraphic" result="c"><feFuncA type="linear" slope="1000"/></feComponentTransfer><feComposite in="c" in2="m" operator="in"/></filter><filter id="s1" x="-15%" y="-15%" width="130%" height="130%" color-interpolation-filters="sRGB"><feTurbulence type="fractalNoise" baseFrequency="0.41" numOctaves="2" seed="3" result="n"/><feGaussianBlur in="SourceAlpha" stdDeviation="2.2" result="a"/><feComposite in="a" in2="n" operator="arithmetic" k1="0" k2="1" k3="1" k4="-1.0" result="m0"/><feColorMatrix in="m0" type="matrix" values="0 0 0 0 0 0 0 0 0 0 0 0 0 0 0 0 0 0 30 0" result="m"/><feComponentTransfer in="SourceGraphic" result="c"><feFuncA type="linear" slope="1000"/></feComponentTransfer><feComposite in="c" in2="m" operator="in"/></filter><filter id="s2" x="-15%" y="-15%" width="130%" height="130%" color-interpolation-filters="sRGB"><feTurbulence type="fractalNoise" baseFrequency="0.41" numOctaves="2" seed="11" result="n"/><feGaussianBlur in="SourceAlpha" stdDeviation="2.2" result="a"/><feComposite in="a" in2="n" operator="arithmetic" k1="0" k2="1" k3="1" k4="-1.0" result="m0"/><feColorMatrix in="m0" type="matrix" values="0 0 0 0 0 0 0 0 0 0 0 0 0 0 0 0 0 0 30 0" result="m"/><feComponentTransfer in="SourceGraphic" result="c"><feFuncA type="linear" slope="1000"/></feComponentTransfer><feComposite in="c" in2="m" operator="in"/></filter><filter id="s3" x="-15%" y="-15%" width="130%" height="130%" color-interpolation-filters="sRGB"><feTurbulence type="fractalNoise" baseFrequency="0.41" numOctaves="2" seed="23" result="n"/><feGaussianBlur in="SourceAlpha" stdDeviation="2" result="a"/><feComposite in="a" in2="n" operator="arithmetic" k1="0" k2="1" k3="1" k4="-1.0" result="m0"/><feColorMatrix in="m0" type="matrix" values="0 0 0 0 0 0 0 0 0 0 0 0 0 0 0 0 0 0 30 0" result="m"/><feComponentTransfer in="SourceGraphic" result="c"><feFuncA type="linear" slope="1000"/></feComponentTransfer><feComposite in="c" in2="m" operator="in"/></filter><filter id="s4" x="-15%" y="-15%" width="130%" height="130%" color-interpolation-filters="sRGB"><feTurbulence type="fractalNoise" baseFrequency="0.41" numOctaves="2" seed="37" result="n"/><feGaussianBlur in="SourceAlpha" stdDeviation="2" result="a"/><feComposite in="a" in2="n" operator="arithmetic" k1="0" k2="1" k3="1" k4="-1.0" result="m0"/><feColorMatrix in="m0" type="matrix" values="0 0 0 0 0 0 0 0 0 0 0 0 0 0 0 0 0 0 30 0" result="m"/><feComponentTransfer in="SourceGraphic" result="c"><feFuncA type="linear" slope="1000"/></feComponentTransfer><feComposite in="c" in2="m" operator="in"/></filter></defs>
<text x="725.3" y="29" font-size="37.5">b</text>
<g fill="#a8cee6" stroke="#a8cee6" stroke-width="3" stroke-linejoin="round" filter="url(#s1)"><use href="#f_tum" opacity=".70"/><path d="M1019.9 237.2C1027.8 226.1 1037.7 219.8 1048.3 218.2C1059 216.6 1076 220.6 1083.9 227.7C1091.8 234.8 1095.8 247.5 1095.8 260.9C1095.8 274.4 1091.8 296.9 1083.9 308.3C1076 319.8 1060.2 329.7 1048.3 329.7C1036.5 329.7 1020.7 315.9 1012.8 308.3C1004.9 300.8 999.7 296.5 1000.9 284.6C1002.1 272.8 1012 248.3 1019.9 237.2Z" opacity=".50"/></g>
<g fill="#d4d4d4" stroke="#d4d4d4" stroke-width="3" stroke-linejoin="round" filter="url(#s2)"><use href="#f_mac" opacity=".66"/></g>
<g fill="#9cdc8f" stroke="#9cdc8f" stroke-width="3" stroke-linejoin="round" filter="url(#s1)"><use href="#f_t" opacity=".66"/></g>
<g fill="#8a8a8a" stroke="#8a8a8a" stroke-width="3" stroke-linejoin="round" filter="url(#s2)"><use href="#f_nk" opacity=".66"/></g>
<g fill="#f5853a" stroke="#f5853a" stroke-width="3" stroke-linejoin="round" filter="url(#s1)"><use href="#f_neu" opacity=".62"/></g>
<g fill="#2478b6" stroke="#2478b6" stroke-width="3" stroke-linejoin="round" filter="url(#s2)"><use href="#f_aci" opacity=".66"/></g>
<g fill="#fff" stroke="#fff" stroke-width="3" stroke-linejoin="round" filter="url(#s1)"><path d="M936.9 151.8C938.6 150.8 943.4 155 946.4 155.4C949.3 155.8 954.3 153.2 954.7 154.2C955.1 155.2 951.1 159.3 948.7 161.3C946.4 163.3 942.6 166 940.4 166C938.3 166 936.3 163.7 935.7 161.3C935.1 158.9 935.1 152.8 936.9 151.8Z" opacity=".55"/></g>
<g fill="#7465b6" stroke="#7465b6" stroke-width="3" stroke-linejoin="round" filter="url(#s1)"><use href="#f_b" opacity=".75"/></g>
<g fill="#d4d2e8" stroke="#d4d2e8" stroke-width="3" stroke-linejoin="round" filter="url(#s2)"><use href="#f_endo" opacity=".72"/></g>
<g fill="#fcc694" stroke="#fcc694" stroke-width="3" stroke-linejoin="round" filter="url(#s1)"><use href="#f_fib" opacity=".75"/></g>
<g fill="#a8cee6" stroke="#a8cee6" stroke-width="3" stroke-linejoin="round" filter="url(#s2)"><path d="M821.8 201.6C823 198.3 826.4 196.5 830.1 193.3C833.9 190.1 840 185.8 844.4 182.6C848.7 179.5 854.6 174.7 856.2 174.3C857.8 173.9 856.6 177.3 853.9 180.3C851.1 183.2 843.6 187.4 839.6 192.1C835.7 196.9 832.9 205.2 830.1 208.7C827.4 212.3 824.4 214.7 823 213.5C821.6 212.3 820.6 205 821.8 201.6Z" opacity=".50"/><path d="M929.8 166C930.5 160.9 938.5 160.1 941.6 163.7C944.8 167.2 946.8 179.9 948.7 187.4C950.7 194.9 954.3 204.4 953.5 208.7C952.7 213.1 946.8 215.8 944 213.5C941.2 211.1 939.2 202.4 936.9 194.5C934.5 186.6 929 171.2 929.8 166Z" opacity=".42"/></g>
<g fill="#d4d4d4" stroke="#d4d4d4" stroke-width="3" stroke-linejoin="round" filter="url(#s3)"><path d="M872.8 64C876 62.5 887.7 66 891.8 71.2C896 76.3 897.3 88.2 897.7 94.9C898.1 101.6 896.3 109.5 894.2 111.5C892 113.5 888.2 111.9 884.7 106.7C881.1 101.6 874.8 87.8 872.8 80.6C870.9 73.5 869.7 65.6 872.8 64Z" opacity=".42"/><path d="M891.8 166C891.8 157.7 901.3 157.3 906 163.7C910.8 170 920.3 195.7 920.3 204C920.3 212.3 910.8 219.8 906 213.5C901.3 207.1 891.8 174.3 891.8 166Z" opacity=".30"/></g>
<g fill="#fcc694" stroke="#fcc694" stroke-width="3" stroke-linejoin="round" filter="url(#s1)"><path d="M925 230.1C925.8 229.1 931.3 231.7 934.5 233.6C937.7 235.6 943.2 240.2 944 241.9C944.8 243.7 941.6 244.7 939.2 244.3C936.9 243.9 932.1 241.9 929.8 239.6C927.4 237.2 924.2 231.1 925 230.1Z" opacity=".60"/><path d="M828.9 194.5C829.7 193.2 834.7 190.1 836.1 189.8C837.4 189.4 838 191.3 837.2 192.6C836.5 193.9 832.7 197 831.3 197.3C829.9 197.7 828.2 195.8 828.9 194.5Z" opacity=".60"/></g>
<g fill="#f5853a" stroke="#f5853a" stroke-width="3" stroke-linejoin="round" filter="url(#s2)"><path d="M920.3 147.1C921.6 146.3 927.6 148 929.8 149.4C931.9 150.8 933.7 153.8 933.3 155.4C932.9 156.9 929.4 159.1 927.4 158.9C925.4 158.7 922.6 156.2 921.5 154.2C920.3 152.2 918.9 147.8 920.3 147.1Z" opacity=".60"/></g>
<use href="#ol"/>
<path d="M749 238.8V342.7H855.8" fill="none" stroke="#000" stroke-width="1.5"/>
<path d="M749 234.8l-3.7 7.4l3.7 -2l3.7 2zM859.8 342.7l-7.4 -3.7l2 3.7l-2 3.7z" fill="#000"/>
<text transform="translate(737.7 339.7) rotate(-90)" font-size="21.6">UMAP2</text>
<text x="756" y="366.2" font-size="21.6">UMAP1</text>
<g fill="#1c4e90" stroke="#1c4e90" stroke-width="3" stroke-linejoin="round" filter="url(#s1)" transform="translate(353.5 5.3) scale(1 0.97)"><use href="#f_tum" opacity=".72"/><use href="#f_t" opacity=".72"/><use href="#f_nk" opacity=".70"/><use href="#f_mac" opacity=".70"/></g>
<g fill="#ecc14f" stroke="#ecc14f" stroke-width="3" stroke-linejoin="round" filter="url(#s2)" transform="translate(353.5 5.3) scale(1 0.97)"><use href="#f_b" opacity=".75"/><use href="#f_endo" opacity=".72"/><use href="#f_fib" opacity=".75"/><use href="#f_neu" opacity=".70"/><use href="#f_aci" opacity=".72"/></g>
<g fill="#fff" stroke="#fff" stroke-width="1" stroke-linejoin="round" filter="url(#s3)"><path d="M1301.6 208.7C1302.4 203.6 1307.5 203.6 1313.5 206.4C1319.4 209.1 1332.4 217.8 1337.2 225.3C1341.9 232.8 1342.3 245.1 1341.9 251.4C1341.5 257.7 1338.4 262.5 1334.8 263.3C1331.3 264.1 1324.9 260.5 1320.6 256.2C1316.2 251.8 1311.9 245.1 1308.7 237.2C1305.6 229.3 1300.8 213.9 1301.6 208.7Z"/></g>
<g fill="#ecc14f" stroke="#ecc14f" stroke-width="2" stroke-linejoin="round" filter="url(#s3)"><path d="M1383.4 212.3C1387.4 209.5 1399.5 208.3 1408.3 208.7C1417.2 209.1 1429.5 211.5 1436.8 214.7C1444.1 217.8 1449.2 222 1452.2 227.7C1455.3 233.4 1455.6 242.3 1455.1 249.1C1454.6 255.8 1451.4 265.9 1449.1 268C1446.9 270.2 1444.8 265.7 1441.6 262.1C1438.3 258.5 1434.8 251.2 1429.7 246.7C1424.6 242.1 1416.7 237.9 1410.7 234.8C1404.8 231.7 1398.5 229.8 1394.1 228.2C1389.8 226.6 1386.4 228 1384.6 225.3C1382.9 222.7 1379.5 215.1 1383.4 212.3Z" opacity=".75"/><path d="M1423.8 294.1C1423.8 299 1421.3 304.8 1417.7 308.8C1414 312.7 1407.6 316.3 1401.6 317.8C1395.7 319.3 1387.8 319.3 1381.9 317.8C1375.9 316.3 1369.5 312.7 1365.8 308.8C1362.2 304.8 1359.7 299 1359.7 294.1C1359.7 289.2 1362.2 283.4 1365.8 279.5C1369.5 275.5 1375.9 271.9 1381.9 270.4C1387.8 268.9 1395.7 268.9 1401.6 270.4C1407.6 271.9 1414 275.5 1417.7 279.5C1421.3 283.4 1423.8 289.2 1423.8 294.1Z" opacity=".40"/><path d="M1382.3 279.9C1382.3 282.2 1381.2 285 1379.5 286.9C1377.9 288.7 1375.1 290.4 1372.4 291.2C1369.8 291.9 1366.3 291.9 1363.6 291.2C1361 290.4 1358.2 288.7 1356.5 286.9C1354.9 285 1353.8 282.2 1353.8 279.9C1353.8 277.6 1354.9 274.8 1356.5 272.9C1358.2 271 1361 269.3 1363.6 268.6C1366.3 267.9 1369.8 267.9 1372.4 268.6C1375.1 269.3 1377.9 271 1379.5 272.9C1381.2 274.8 1382.3 277.6 1382.3 279.9Z" opacity=".36"/><path d="M1300.4 209.9C1301.5 208.5 1306.4 209.7 1308.7 212.3C1311.1 214.9 1312.1 221.2 1314.7 225.3C1317.2 229.5 1320.8 234 1324.1 237.2C1327.5 240.4 1332.6 241.9 1334.8 244.3C1337 246.8 1338.4 250 1337.2 251.9C1336 253.8 1330.9 256.1 1327.7 255.7C1324.5 255.3 1321.4 253 1318.2 249.5C1315.1 246 1311.4 239.6 1308.7 234.8C1306 230 1303.5 224.7 1302.1 220.6C1300.7 216.4 1299.3 211.3 1300.4 209.9Z" opacity=".62"/><path d="M1355.7 252.6C1355.7 254 1355.2 255.7 1354.4 256.8C1353.7 257.9 1352.3 258.9 1351.1 259.4C1349.9 259.8 1348.2 259.8 1347 259.4C1345.8 258.9 1344.4 257.9 1343.7 256.8C1342.9 255.7 1342.4 254 1342.4 252.6C1342.4 251.2 1342.9 249.6 1343.7 248.4C1344.4 247.3 1345.8 246.3 1347 245.8C1348.2 245.4 1349.9 245.4 1351.1 245.8C1352.3 246.3 1353.7 247.3 1354.4 248.4C1355.2 249.6 1355.7 251.2 1355.7 252.6Z" opacity=".70"/><path d="M1303 26.3C1303.8 28.6 1303.6 31.7 1302.5 34.2C1301.4 36.7 1298.9 39.5 1296.2 41.3C1293.6 43 1289.7 44.4 1286.6 44.8C1283.4 45.2 1279.7 44.6 1277.2 43.4C1274.8 42.2 1272.6 40 1271.8 37.7C1271 35.4 1271.2 32.3 1272.3 29.8C1273.4 27.3 1275.9 24.5 1278.5 22.8C1281.2 21 1285 19.6 1288.2 19.2C1291.4 18.9 1295.1 19.4 1297.5 20.6C1300 21.8 1302.2 24.1 1303 26.3Z" opacity=".74"/><path d="M1271.8 50.3C1272.4 53.5 1272.2 57.5 1271.5 60.3C1270.7 63.1 1269.1 65.8 1267.3 67.2C1265.5 68.5 1262.9 69 1260.8 68.3C1258.7 67.7 1256.1 65.7 1254.5 63.3C1252.8 60.9 1251.3 57.2 1250.8 54C1250.2 50.8 1250.3 46.9 1251.1 44.1C1251.8 41.3 1253.5 38.5 1255.3 37.2C1257.1 35.9 1259.7 35.4 1261.8 36.1C1263.9 36.7 1266.4 38.7 1268.1 41.1C1269.8 43.5 1271.2 47.1 1271.8 50.3Z" opacity=".58"/><path d="M1230.7 40.2C1230.5 41.8 1229.2 43.5 1227.5 44.5C1225.8 45.4 1223 46.1 1220.5 46.2C1218 46.3 1214.9 45.7 1212.6 44.8C1210.3 43.9 1207.9 42.3 1206.7 40.8C1205.4 39.3 1204.8 37.2 1205 35.7C1205.3 34.1 1206.6 32.4 1208.3 31.4C1210 30.5 1212.8 29.8 1215.2 29.7C1217.7 29.6 1220.9 30.2 1223.2 31.1C1225.5 32 1227.8 33.6 1229.1 35.1C1230.4 36.6 1231 38.7 1230.7 40.2Z" opacity=".68"/><path d="M1249.4 42.7C1249.4 43.6 1248.7 44.7 1247.6 45.5C1246.5 46.2 1244.6 46.9 1242.9 47.2C1241.1 47.5 1238.8 47.5 1237 47.2C1235.2 46.9 1233.4 46.2 1232.3 45.5C1231.2 44.7 1230.5 43.6 1230.5 42.7C1230.5 41.8 1231.2 40.7 1232.3 39.9C1233.4 39.2 1235.2 38.5 1237 38.2C1238.8 37.9 1241.1 37.9 1242.9 38.2C1244.6 38.5 1246.5 39.2 1247.6 39.9C1248.7 40.7 1249.4 41.8 1249.4 42.7Z" opacity=".50"/><path d="M1253.8 75.2C1254.6 78.3 1254.7 82.3 1254.1 85.2C1253.5 88.1 1251.8 91 1249.9 92.6C1248.1 94.1 1245.3 94.9 1242.9 94.5C1240.5 94.1 1237.6 92.4 1235.6 90.2C1233.6 88 1231.7 84.5 1230.9 81.3C1230 78.2 1229.9 74.2 1230.5 71.3C1231.2 68.4 1232.8 65.5 1234.7 64C1236.6 62.4 1239.4 61.7 1241.8 62.1C1244.2 62.5 1247.1 64.2 1249.1 66.4C1251.1 68.6 1252.9 72.1 1253.8 75.2Z" opacity=".36"/><path d="M1242.3 154.2C1244.3 150.2 1250.2 151.4 1254.2 151.8C1258.1 152.2 1262.9 153.4 1266 156.5C1269.2 159.7 1272.4 166 1273.1 170.8C1273.9 175.5 1272.8 181.8 1270.8 185C1268.8 188.2 1264.8 189.4 1261.3 189.8C1257.7 190.1 1252.6 189.8 1249.4 187.4C1246.3 185 1243.5 181.1 1242.3 175.5C1241.1 170 1240.3 158.1 1242.3 154.2Z" opacity=".60"/><path d="M1304 166C1304 170.2 1302.7 175.2 1300.8 178.6C1298.9 182 1295.6 185 1292.5 186.3C1289.4 187.6 1285.3 187.6 1282.3 186.3C1279.2 185 1275.9 182 1273.9 178.6C1272 175.2 1270.8 170.2 1270.8 166C1270.8 161.9 1272 156.9 1273.9 153.5C1275.9 150.1 1279.2 147 1282.3 145.7C1285.3 144.4 1289.4 144.4 1292.5 145.7C1295.6 147 1298.9 150.1 1300.8 153.5C1302.7 156.9 1304 161.9 1304 166Z" opacity=".36"/><path d="M1304 213.5C1304 216.3 1303.4 219.6 1302.6 221.8C1301.8 224.1 1300.4 226.1 1299.1 227C1297.7 227.9 1296 227.9 1294.7 227C1293.3 226.1 1291.9 224.1 1291.1 221.8C1290.3 219.6 1289.8 216.3 1289.8 213.5C1289.8 210.7 1290.3 207.4 1291.1 205.1C1291.9 202.9 1293.3 200.8 1294.7 199.9C1296 199.1 1297.7 199.1 1299.1 199.9C1300.4 200.8 1301.8 202.9 1302.6 205.1C1303.4 207.4 1304 210.7 1304 213.5Z" opacity=".40"/><path d="M1180.6 204C1180.6 205.1 1180.1 206.5 1179.3 207.5C1178.5 208.4 1177.1 209.3 1175.7 209.6C1174.4 210 1172.7 210 1171.3 209.6C1170 209.3 1168.6 208.4 1167.8 207.5C1167 206.5 1166.4 205.1 1166.4 204C1166.4 202.8 1167 201.4 1167.8 200.5C1168.6 199.6 1170 198.7 1171.3 198.3C1172.7 198 1174.4 198 1175.7 198.3C1177.1 198.7 1178.5 199.6 1179.3 200.5C1180.1 201.4 1180.6 202.8 1180.6 204Z" opacity=".50"/><path d="M1275.5 227.7C1276.7 225.3 1283.8 218.6 1287.4 220.6C1290.9 222.6 1296.5 236 1296.9 239.6C1297.3 243.1 1292.5 242.7 1289.8 241.9C1287 241.1 1282.6 237.2 1280.3 234.8C1277.9 232.4 1274.3 230.1 1275.5 227.7Z" opacity=".55"/></g>
<g fill="#1c4e90" stroke="#1c4e90" stroke-width="2" stroke-linejoin="round" filter="url(#s4)"><path d="M1301.6 170.8C1303.2 168 1309.9 165.2 1313.5 166C1317 166.8 1321.8 171.6 1323 175.5C1324.1 179.5 1322.6 187.3 1320.6 189.8C1318.6 192.2 1313.9 191.4 1311.1 190.2C1308.3 189 1305.6 185.9 1304 182.6C1302.4 179.4 1300 173.5 1301.6 170.8Z" opacity=".50"/><path d="M1273.1 166C1273.1 169.3 1271.9 173.2 1270 175.8C1268.1 178.4 1264.8 180.8 1261.7 181.8C1258.6 182.8 1254.5 182.8 1251.4 181.8C1248.3 180.8 1245 178.4 1243.1 175.8C1241.2 173.2 1239.9 169.3 1239.9 166C1239.9 162.8 1241.2 158.9 1243.1 156.3C1245 153.6 1248.3 151.2 1251.4 150.2C1254.5 149.2 1258.6 149.2 1261.7 150.2C1264.8 151.2 1268.1 153.6 1270 156.3C1271.9 158.9 1273.1 162.8 1273.1 166Z" opacity=".42"/><path d="M1268.8 103.5C1269.1 103.8 1269.4 104.4 1269.3 105C1269.3 105.6 1269 106.5 1268.6 107.2C1268.2 107.9 1267.5 108.7 1266.9 109.2C1266.3 109.7 1265.5 110.1 1264.9 110.3C1264.3 110.4 1263.6 110.3 1263.3 110C1262.9 109.7 1262.7 109.1 1262.7 108.5C1262.8 107.9 1263.1 107 1263.5 106.3C1263.9 105.6 1264.5 104.8 1265.2 104.3C1265.8 103.8 1266.6 103.3 1267.2 103.2C1267.8 103.1 1268.4 103.2 1268.8 103.5Z" opacity=".70"/><path d="M1266.7 202.1C1266.4 203 1265.4 203.8 1264.3 204.2C1263.1 204.5 1261.3 204.6 1259.8 204.4C1258.2 204.1 1256.3 203.4 1255 202.6C1253.6 201.8 1252.3 200.6 1251.7 199.6C1251 198.5 1250.8 197.3 1251.1 196.4C1251.4 195.5 1252.4 194.7 1253.6 194.3C1254.7 193.9 1256.5 193.9 1258.1 194.1C1259.6 194.4 1261.5 195.1 1262.9 195.9C1264.2 196.7 1265.5 197.9 1266.2 198.9C1266.8 200 1267 201.2 1266.7 202.1Z" opacity=".60"/><path d="M1251.4 84.7C1252.4 88.3 1252.6 92.8 1252.1 96.1C1251.6 99.3 1250 102.6 1248.2 104.2C1246.3 105.9 1243.5 106.7 1241.1 106.1C1238.6 105.6 1235.7 103.6 1233.6 101C1231.5 98.5 1229.4 94.4 1228.5 90.8C1227.5 87.2 1227.2 82.7 1227.8 79.5C1228.3 76.2 1229.9 73 1231.7 71.3C1233.6 69.6 1236.4 68.8 1238.8 69.4C1241.2 69.9 1244.2 72 1246.3 74.5C1248.4 77.1 1250.4 81.1 1251.4 84.7Z" opacity=".37"/><path d="M1306.4 185C1306.4 190.1 1304.9 196.2 1302.7 200.3C1300.5 204.5 1296.8 208.2 1293.2 209.8C1289.7 211.4 1285.1 211.4 1281.5 209.8C1278 208.2 1274.2 204.5 1272 200.3C1269.8 196.2 1268.4 190.1 1268.4 185C1268.4 179.9 1269.8 173.8 1272 169.7C1274.2 165.5 1278 161.8 1281.5 160.2C1285.1 158.6 1289.7 158.6 1293.2 160.2C1296.8 161.8 1300.5 165.5 1302.7 169.7C1304.9 173.8 1306.4 179.9 1306.4 185Z" opacity=".36"/><path d="M1205.1 178.1C1205.4 178.5 1205.4 179.3 1205.1 180.2C1204.8 181.1 1203.9 182.3 1203 183.3C1202.1 184.3 1200.8 185.4 1199.7 186.1C1198.5 186.8 1197.2 187.4 1196.3 187.6C1195.4 187.8 1194.5 187.6 1194.2 187.2C1193.8 186.8 1193.8 185.9 1194.1 185.1C1194.5 184.2 1195.3 183 1196.2 182C1197.1 181 1198.4 179.9 1199.6 179.2C1200.7 178.4 1202 177.8 1203 177.7C1203.9 177.5 1204.7 177.6 1205.1 178.1Z" opacity=".50"/><path d="M1178.7 206.4C1178.7 207.2 1178.4 208.2 1177.8 208.9C1177.2 209.5 1176.1 210.2 1175.1 210.4C1174.2 210.7 1172.9 210.7 1171.9 210.4C1170.9 210.2 1169.9 209.5 1169.3 208.9C1168.7 208.2 1168.3 207.2 1168.3 206.4C1168.3 205.5 1168.7 204.5 1169.3 203.8C1169.9 203.2 1170.9 202.6 1171.9 202.3C1172.9 202 1174.2 202 1175.1 202.3C1176.1 202.6 1177.2 203.2 1177.8 203.8C1178.4 204.5 1178.7 205.5 1178.7 206.4Z" opacity=".45"/><path d="M1273.1 253.8C1273.1 254.7 1272.6 255.8 1271.8 256.6C1271 257.3 1269.6 258 1268.2 258.3C1266.9 258.6 1265.2 258.6 1263.8 258.3C1262.5 258 1261.1 257.3 1260.3 256.6C1259.5 255.8 1258.9 254.7 1258.9 253.8C1258.9 252.9 1259.5 251.8 1260.3 251C1261.1 250.3 1262.5 249.6 1263.8 249.3C1265.2 249 1266.9 249 1268.2 249.3C1269.6 249.6 1271 250.3 1271.8 251C1272.6 251.8 1273.1 252.9 1273.1 253.8Z" opacity=".40"/><path d="M1318.2 237.2C1318.2 240.4 1317.5 244.3 1316.4 247C1315.3 249.6 1313.4 252 1311.7 253C1309.9 254 1307.6 254 1305.8 253C1304 252 1302.1 249.6 1301.1 247C1300 244.3 1299.2 240.4 1299.2 237.2C1299.2 233.9 1300 230.1 1301.1 227.4C1302.1 224.8 1304 222.4 1305.8 221.4C1307.6 220.4 1309.9 220.4 1311.7 221.4C1313.4 222.4 1315.3 224.8 1316.4 227.4C1317.5 230.1 1318.2 233.9 1318.2 237.2Z" opacity=".36"/><path d="M1328.4 276.5C1329.5 280.3 1329.7 285.1 1329.1 288.6C1328.5 292.1 1326.7 295.6 1324.7 297.4C1322.7 299.2 1319.6 300 1316.9 299.5C1314.2 298.9 1311 296.8 1308.7 294.1C1306.4 291.4 1304.3 287.1 1303.2 283.3C1302.2 279.4 1302 274.6 1302.6 271.2C1303.2 267.7 1305 264.2 1307 262.4C1309 260.6 1312.1 259.8 1314.8 260.3C1317.4 260.9 1320.7 263 1323 265.7C1325.3 268.4 1327.4 272.7 1328.4 276.5Z" opacity=".72"/><path d="M1453.4 237.2C1453.4 240.9 1452.2 245.3 1450.2 248.3C1448.3 251.4 1445 254.1 1441.9 255.2C1438.8 256.4 1434.8 256.4 1431.7 255.2C1428.6 254.1 1425.3 251.4 1423.4 248.3C1421.5 245.3 1420.2 240.9 1420.2 237.2C1420.2 233.5 1421.5 229 1423.4 226C1425.3 223 1428.6 220.3 1431.7 219.1C1434.8 218 1438.8 218 1441.9 219.1C1445 220.3 1448.3 223 1450.2 226C1452.2 229 1453.4 233.5 1453.4 237.2Z" opacity=".33"/></g>
<circle cx="1328.2" cy="30.4" r="5.3" fill="#ecc14f"/>
<text x="1342" y="37.4" font-size="21.4">classical</text>
<circle cx="1328.2" cy="60.5" r="5.3" fill="#1c4e90"/>
<text x="1342" y="67.5" font-size="21.4">mesenchymal</text>
<g fill="#d9d9d9" stroke="#d9d9d9" stroke-width="3" stroke-linejoin="round" filter="url(#s1)" transform="translate(721.5 0)"><use href="#f_tum" opacity=".72"/><use href="#f_mac" opacity=".72"/><use href="#f_nk" opacity=".60"/><path d="M872.8 64C876.8 62.9 887.8 66 891.8 71.2C895.8 76.3 896.5 88.9 896.5 94.9C896.5 100.8 894.2 105.2 891.8 106.7C889.4 108.3 886.3 109.1 882.3 104.4C878.4 99.6 869.7 85 868.1 78.3C866.5 71.6 868.9 65.2 872.8 64Z" opacity=".50"/></g>
<g fill="#3aa356" stroke="#3aa356" stroke-width="3" stroke-linejoin="round" filter="url(#s2)" transform="translate(721.5 0)"><use href="#f_b" opacity=".75"/><use href="#f_endo" opacity=".74"/><use href="#f_aci" opacity=".72"/><use href="#f_neu" opacity=".66"/><use href="#f_t" opacity=".70"/><use href="#f_fib" opacity=".72"/></g>
<g fill="#fff" stroke="#fff" stroke-width="1" stroke-linejoin="round" filter="url(#s3)"><path d="M1664.5 207.6C1665.8 202.4 1673.2 201.1 1680.2 205C1687.3 208.9 1701.3 223.4 1706.5 231.3C1711.8 239.2 1712.2 246.6 1711.8 252.3C1711.3 258 1708.3 264.1 1703.9 265.4C1699.5 266.8 1690.8 265 1685.5 260.2C1680.2 255.4 1675.9 245.3 1672.4 236.5C1668.9 227.8 1663.2 212.9 1664.5 207.6Z"/></g>
<g fill="#3aa356" stroke="#3aa356" stroke-width="2" stroke-linejoin="round" filter="url(#s3)"><path d="M1746 215.5C1746 212.4 1748.1 210.7 1753.8 210.2C1759.5 209.8 1770.9 210.7 1780.1 212.9C1789.3 215.1 1802.2 219.4 1809 223.4C1815.8 227.3 1819.1 231.7 1820.9 236.5C1822.6 241.3 1821.1 246.6 1819.5 252.3C1818 258 1814.3 268.1 1811.7 270.7C1809 273.3 1807.3 271.6 1803.8 268.1C1800.3 264.6 1795.9 254.9 1790.6 249.7C1785.4 244.4 1778.4 240 1772.2 236.5C1766.1 233 1758.2 232.2 1753.8 228.6C1749.5 225.1 1746 218.6 1746 215.5Z" opacity=".75"/><path d="M1650 168.2C1650 172.3 1648.3 177.2 1645.8 180.6C1643.2 183.9 1638.8 186.9 1634.6 188.2C1630.4 189.5 1624.9 189.5 1620.8 188.2C1616.6 186.9 1612.2 183.9 1609.6 180.6C1607 177.2 1605.3 172.3 1605.3 168.2C1605.3 164.1 1607 159.2 1609.6 155.8C1612.2 152.5 1616.6 149.5 1620.8 148.2C1624.9 146.9 1630.4 146.9 1634.6 148.2C1638.8 149.5 1643.2 152.5 1645.8 155.8C1648.3 159.2 1650 164.1 1650 168.2Z" opacity=".56"/><path d="M1600.1 42C1600.1 43.9 1599 46 1597.3 47.5C1595.7 48.9 1592.8 50.2 1590.1 50.8C1587.4 51.4 1583.9 51.4 1581.2 50.8C1578.5 50.2 1575.6 48.9 1573.9 47.5C1572.3 46 1571.2 43.9 1571.2 42C1571.2 40.2 1572.3 38.1 1573.9 36.6C1575.6 35.2 1578.5 33.9 1581.2 33.3C1583.9 32.7 1587.4 32.7 1590.1 33.3C1592.8 33.9 1595.7 35.2 1597.3 36.6C1599 38.1 1600.1 40.2 1600.1 42Z" opacity=".55"/><path d="M1665.8 210.2C1665.8 206.3 1671.7 209.4 1675 212.9C1678.3 216.4 1681.6 226 1685.5 231.3C1689.4 236.5 1695.1 240.9 1698.6 244.4C1702.2 247.9 1706.1 249.7 1706.5 252.3C1707 254.9 1704.3 260.2 1701.3 260.2C1698.2 260.2 1692.5 256.2 1688.1 252.3C1683.8 248.4 1678.7 243.5 1675 236.5C1671.3 229.5 1665.8 214.2 1665.8 210.2Z" opacity=".60"/><path d="M1638.2 236.5C1638.6 233.7 1646.1 226 1648.7 223.4C1651.3 220.8 1652.2 219.4 1654 220.8C1655.7 222.1 1657.3 228 1659.2 231.3C1661.2 234.6 1665.6 238.5 1665.8 240.5C1666 242.4 1662.5 244.2 1660.5 243.1C1658.6 242 1656.4 234.3 1654 233.9C1651.6 233.5 1648.7 240 1646.1 240.5C1643.5 240.9 1637.8 239.4 1638.2 236.5Z" opacity=".66"/><path d="M1803.8 294.3C1803.8 300 1800.8 306.8 1796.2 311.3C1791.7 315.9 1783.9 320.1 1776.5 321.8C1769.2 323.6 1759.5 323.6 1752.2 321.8C1744.8 320.1 1737 315.9 1732.5 311.3C1727.9 306.8 1724.9 300 1724.9 294.3C1724.9 288.7 1727.9 281.9 1732.5 277.4C1737 272.8 1744.8 268.6 1752.2 266.9C1759.5 265.1 1769.2 265.1 1776.5 266.9C1783.9 268.6 1791.7 272.8 1796.2 277.4C1800.8 281.9 1803.8 288.7 1803.8 294.3Z" opacity=".36"/><path d="M1714.4 283.8C1714.4 285.9 1713.4 288.3 1711.9 290C1710.4 291.7 1707.8 293.2 1705.3 293.8C1702.9 294.5 1699.7 294.5 1697.2 293.8C1694.8 293.2 1692.2 291.7 1690.6 290C1689.1 288.3 1688.1 285.9 1688.1 283.8C1688.1 281.8 1689.1 279.3 1690.6 277.7C1692.2 276 1694.8 274.5 1697.2 273.8C1699.7 273.2 1702.9 273.2 1705.3 273.8C1707.8 274.5 1710.4 276 1711.9 277.7C1713.4 279.3 1714.4 281.8 1714.4 283.8Z" opacity=".50"/></g>
<g fill="#3a86c2" stroke="#3a86c2" stroke-width="2" stroke-linejoin="round" filter="url(#s4)"><path d="M1485.8 187.9C1487.1 185.1 1491.5 180.9 1496.3 178.7C1501.1 176.5 1509 174.6 1514.7 174.8C1520.4 175 1526.3 177.4 1530.4 180C1534.6 182.7 1537.5 187.3 1539.6 190.5C1541.8 193.8 1546.4 199.3 1543.6 199.7C1540.7 200.2 1529.6 194.5 1522.6 193.2C1515.6 191.9 1507.2 191.4 1501.5 191.9C1495.8 192.3 1491 196.5 1488.4 195.8C1485.8 195.1 1484.5 190.8 1485.8 187.9Z" opacity=".72"/><path d="M1581.7 39.4C1581.7 41 1581.2 42.8 1580.4 44.1C1579.7 45.3 1578.4 46.4 1577.2 46.9C1575.9 47.4 1574.3 47.4 1573.1 46.9C1571.9 46.4 1570.6 45.3 1569.8 44.1C1569.1 42.8 1568.6 41 1568.6 39.4C1568.6 37.9 1569.1 36 1569.8 34.8C1570.6 33.5 1571.9 32.4 1573.1 31.9C1574.3 31.4 1575.9 31.4 1577.2 31.9C1578.4 32.4 1579.7 33.5 1580.4 34.8C1581.2 36 1581.7 37.9 1581.7 39.4Z" opacity=".60"/><path d="M1803.8 283.8C1803.8 289.5 1800.4 296.2 1795.2 300.8C1790.1 305.4 1781.2 309.6 1772.9 311.3C1764.6 313.1 1753.6 313.1 1745.3 311.3C1737 309.6 1728.1 305.4 1722.9 300.8C1717.8 296.2 1714.4 289.5 1714.4 283.8C1714.4 278.2 1717.8 271.4 1722.9 266.8C1728.1 262.3 1737 258.1 1745.3 256.3C1753.6 254.6 1764.6 254.6 1772.9 256.3C1781.2 258.1 1790.1 262.3 1795.2 266.8C1800.4 271.4 1803.8 278.2 1803.8 283.8Z" opacity=".34"/><path d="M1600 131.4C1599.5 132.3 1598.2 133 1596.7 133.1C1595.2 133.2 1593.1 132.8 1591.2 132.1C1589.4 131.4 1587.1 130.1 1585.6 128.9C1584 127.6 1582.6 125.9 1582 124.6C1581.4 123.2 1581.3 121.8 1581.8 120.9C1582.3 120 1583.6 119.3 1585.1 119.2C1586.5 119.1 1588.7 119.5 1590.6 120.2C1592.4 120.9 1594.7 122.2 1596.2 123.4C1597.7 124.7 1599.2 126.4 1599.8 127.7C1600.4 129.1 1600.5 130.5 1600 131.4Z" opacity=".42"/><path d="M1661.9 52.6C1661.9 56.7 1660.1 61.6 1657.3 64.9C1654.6 68.3 1649.9 71.3 1645.5 72.6C1641.1 73.8 1635.3 73.8 1630.9 72.6C1626.5 71.3 1621.8 68.3 1619.1 64.9C1616.3 61.6 1614.5 56.7 1614.5 52.6C1614.5 48.4 1616.3 43.5 1619.1 40.2C1621.8 36.9 1626.5 33.8 1630.9 32.6C1635.3 31.3 1641.1 31.3 1645.5 32.6C1649.9 33.8 1654.6 36.9 1657.3 40.2C1660.1 43.5 1661.9 48.4 1661.9 52.6Z" opacity=".36"/><path d="M1717 291.7C1717 293.3 1716.2 295.1 1715 296.4C1713.8 297.6 1711.7 298.7 1709.8 299.2C1707.8 299.7 1705.2 299.7 1703.3 299.2C1701.3 298.7 1699.2 297.6 1698 296.4C1696.8 295.1 1696 293.3 1696 291.7C1696 290.2 1696.8 288.3 1698 287.1C1699.2 285.8 1701.3 284.7 1703.3 284.2C1705.2 283.7 1707.8 283.7 1709.8 284.2C1711.7 284.7 1713.8 285.8 1715 287.1C1716.2 288.3 1717 290.2 1717 291.7Z" opacity=".40"/><path d="M1578.5 168.4C1579 169 1579.2 170.1 1578.9 171.1C1578.6 172.2 1577.7 173.6 1576.8 174.8C1575.8 175.9 1574.3 177.1 1573 177.9C1571.8 178.7 1570.2 179.2 1569.1 179.3C1568 179.4 1567 179.1 1566.5 178.5C1566 177.9 1565.8 176.8 1566.1 175.8C1566.4 174.7 1567.2 173.3 1568.2 172.1C1569.2 171 1570.7 169.8 1572 169C1573.2 168.3 1574.8 167.7 1575.9 167.6C1577 167.5 1578 167.8 1578.5 168.4Z" opacity=".40"/></g>
<g fill="#e2581d" stroke="#e2581d" stroke-width="2" stroke-linejoin="round" filter="url(#s1)"><path d="M1543.1 228.9C1543.4 230.4 1541.6 232.6 1538.5 234.4C1535.5 236.2 1530 238.3 1524.8 239.7C1519.6 241.1 1512.6 242.4 1507.2 242.8C1501.8 243.3 1495.9 243.2 1492.4 242.5C1489 241.9 1486.5 240.4 1486.2 238.9C1485.9 237.4 1487.8 235.2 1490.8 233.4C1493.9 231.6 1499.4 229.5 1504.6 228.1C1509.8 226.7 1516.8 225.4 1522.2 225C1527.6 224.5 1533.4 224.6 1536.9 225.3C1540.4 225.9 1542.9 227.4 1543.1 228.9Z" opacity=".50"/><path d="M1652.7 168.2C1652.7 172.8 1650.8 178.4 1647.9 182.1C1645 185.9 1640.1 189.3 1635.4 190.7C1630.8 192.1 1624.6 192.1 1620 190.7C1615.3 189.3 1610.4 185.9 1607.5 182.1C1604.6 178.4 1602.7 172.8 1602.7 168.2C1602.7 163.6 1604.6 158 1607.5 154.3C1610.4 150.5 1615.3 147.1 1620 145.7C1624.6 144.3 1630.8 144.3 1635.4 145.7C1640.1 147.1 1645 150.5 1647.9 154.3C1650.8 158 1652.7 163.6 1652.7 168.2Z" opacity=".42"/><path d="M1705.2 168.2C1705.2 173.1 1703.7 178.9 1701.5 182.9C1699.2 186.8 1695.3 190.4 1691.6 191.9C1687.9 193.5 1683.1 193.5 1679.4 191.9C1675.7 190.4 1671.8 186.8 1669.6 182.9C1667.3 178.9 1665.8 173.1 1665.8 168.2C1665.8 163.3 1667.3 157.5 1669.6 153.5C1671.8 149.6 1675.7 146 1679.4 144.5C1683.1 142.9 1687.9 142.9 1691.6 144.5C1695.3 146 1699.2 149.6 1701.5 153.5C1703.7 157.5 1705.2 163.3 1705.2 168.2Z" opacity=".38"/><path d="M1660.1 34.8C1661.3 38.2 1660.8 43 1658.6 46.8C1656.5 50.7 1652 55.2 1647.3 58.1C1642.6 61 1636 63.4 1630.5 64.2C1625.1 65 1618.8 64.4 1614.7 62.8C1610.5 61.2 1607 58 1605.8 54.6C1604.5 51.2 1605.1 46.4 1607.3 42.5C1609.4 38.6 1613.9 34.2 1618.6 31.3C1623.2 28.4 1629.9 26 1635.4 25.2C1640.8 24.4 1647.1 24.9 1651.2 26.5C1655.3 28.1 1658.9 31.4 1660.1 34.8Z" opacity=".42"/><path d="M1602.7 42C1602.7 43.9 1601.6 46 1600 47.5C1598.3 48.9 1595.4 50.2 1592.7 50.8C1590 51.4 1586.5 51.4 1583.8 50.8C1581.1 50.2 1578.2 48.9 1576.6 47.5C1574.9 46 1573.8 43.9 1573.8 42C1573.8 40.2 1574.9 38.1 1576.6 36.6C1578.2 35.2 1581.1 33.9 1583.8 33.3C1586.5 32.7 1590 32.7 1592.7 33.3C1595.4 33.9 1598.3 35.2 1600 36.6C1601.6 38.1 1602.7 40.2 1602.7 42Z" opacity=".42"/><path d="M1806.4 291.7C1806.4 296.9 1803.8 303 1799.9 307.2C1795.9 311.3 1789.2 315.1 1782.8 316.7C1776.4 318.3 1768 318.3 1761.7 316.7C1755.3 315.1 1748.5 311.3 1744.6 307.2C1740.7 303 1738.1 296.9 1738.1 291.7C1738.1 286.6 1740.7 280.4 1744.6 276.3C1748.5 272.1 1755.3 268.3 1761.7 266.7C1768 265.1 1776.4 265.1 1782.8 266.7C1789.2 268.3 1795.9 272.1 1799.9 276.3C1803.8 280.4 1806.4 286.6 1806.4 291.7Z" opacity=".40"/><path d="M1698.5 220.8C1701 225.2 1702.7 231.3 1702.7 236.1C1702.7 241 1701 246.3 1698.4 249.7C1695.8 253 1691.3 255.6 1687.1 256.2C1682.9 256.8 1677.4 255.6 1673.2 253.2C1669.1 250.8 1664.6 246.2 1662 241.8C1659.5 237.3 1657.8 231.2 1657.8 226.4C1657.8 221.6 1659.5 216.2 1662.1 212.9C1664.7 209.5 1669.2 207 1673.4 206.4C1677.6 205.8 1683.1 207 1687.3 209.4C1691.4 211.8 1695.9 216.3 1698.5 220.8Z" opacity=".40"/><path d="M1639.8 245.7C1640.3 246.6 1640.4 248 1640 249.2C1639.6 250.3 1638.7 251.8 1637.6 252.8C1636.4 253.8 1634.8 254.8 1633.3 255.2C1631.9 255.7 1630.2 255.8 1629 255.5C1627.8 255.3 1626.6 254.5 1626.1 253.6C1625.6 252.7 1625.5 251.4 1625.9 250.2C1626.2 249 1627.2 247.6 1628.3 246.6C1629.4 245.6 1631.1 244.6 1632.6 244.1C1634 243.7 1635.7 243.5 1636.9 243.8C1638.1 244.1 1639.3 244.8 1639.8 245.7Z" opacity=".45"/><path d="M1821.6 232.4C1821.2 234.9 1817.9 237.5 1813.3 238.8C1808.8 240.1 1801.3 240.7 1794.4 240.3C1787.5 239.9 1778.6 238.3 1772 236.4C1765.4 234.4 1758.5 231.2 1754.7 228.5C1750.9 225.7 1748.7 222.2 1749.1 219.6C1749.6 217.1 1752.9 214.6 1757.4 213.2C1761.9 211.9 1769.5 211.3 1776.3 211.7C1783.2 212.1 1792.1 213.7 1798.7 215.7C1805.4 217.7 1812.2 220.8 1816 223.6C1819.8 226.4 1822.1 229.9 1821.6 232.4Z" opacity=".33"/><path d="M1680.2 199.7C1680.2 202.3 1679.5 205.4 1678.2 207.5C1677 209.5 1674.9 211.4 1673 212.2C1671 213 1668.4 213 1666.5 212.2C1664.5 211.4 1662.4 209.5 1661.2 207.5C1660 205.4 1659.2 202.3 1659.2 199.7C1659.2 197.2 1660 194.1 1661.2 192C1662.4 189.9 1664.5 188 1666.5 187.2C1668.4 186.4 1671 186.4 1673 187.2C1674.9 188 1677 189.9 1678.2 192C1679.5 194.1 1680.2 197.2 1680.2 199.7Z" opacity=".40"/><path d="M1651.3 136.7C1651.3 140.3 1650.1 144.6 1648.3 147.5C1646.5 150.4 1643.4 153 1640.4 154.2C1637.5 155.3 1633.6 155.3 1630.7 154.2C1627.8 153 1624.6 150.4 1622.8 147.5C1621 144.6 1619.8 140.3 1619.8 136.7C1619.8 133.1 1621 128.8 1622.8 125.8C1624.6 122.9 1627.8 120.3 1630.7 119.2C1633.6 118.1 1637.5 118.1 1640.4 119.2C1643.4 120.3 1646.5 122.9 1648.3 125.8C1650.1 128.8 1651.3 133.1 1651.3 136.7Z" opacity=".42"/></g>
<g fill="#7b6db8" stroke="#7b6db8" stroke-width="2" stroke-linejoin="round" filter="url(#s2)"><path d="M1655.3 10.5C1655.9 7.8 1665.8 8.2 1669.7 10C1673.7 11.7 1677.6 17 1678.9 21C1680.2 25.1 1678.9 31.1 1677.6 34.2C1676.3 37.2 1673 40.7 1671.1 39.4C1669.1 38.1 1668.4 31.1 1665.8 26.3C1663.2 21.5 1654.6 13.2 1655.3 10.5Z" opacity=".75"/></g>
<g fill="#6a6a6a" stroke="#6a6a6a" stroke-width="2" stroke-linejoin="round" filter="url(#s4)"><path d="M1746 333.2C1749 331.8 1764.3 331.8 1772.2 329C1780.1 326.3 1787.1 321.8 1793.3 316.7C1799.4 311.6 1806 300 1809 298.3C1812.1 296.5 1813.4 301.8 1811.7 306.2C1809.9 310.6 1804.2 319.6 1798.5 324.6C1792.8 329.5 1784.9 333.7 1777.5 335.9C1770 338 1759.1 337.9 1753.8 337.5C1748.6 337 1742.9 334.6 1746 333.2Z" opacity=".60"/><path d="M1638.2 16.3C1639.4 13.8 1645.9 10.3 1648.7 9.5C1651.5 8.6 1654.4 9 1655 11C1655.6 13.1 1654.7 19.4 1652.4 21.6C1650.1 23.7 1643.7 25.1 1641.4 24.2C1639 23.3 1637 18.7 1638.2 16.3Z" opacity=".66"/></g>
<rect x="1738.6" y="7.9" width="9.6" height="83" fill="#ecc153"/>
<rect x="1738.6" y="92.6" width="9.6" height="86.2" fill="#26408b"/>
<circle cx="1762.3" cy="16.3" r="6.6" fill="#3a86c2"/>
<text x="1775" y="23.9" font-size="22">control</text>
<circle cx="1762.3" cy="46.8" r="6.6" fill="#e2581d"/>
<text x="1775" y="54.4" font-size="22">T/N</text>
<circle cx="1762.3" cy="76.9" r="6.6" fill="#3aa356"/>
<text x="1775" y="84.5" font-size="22">T/N+aPDL1</text>
<circle cx="1762.3" cy="107.8" r="6.6" fill="#7b6db8"/>
<text x="1775" y="115.4" font-size="22">control</text>
<circle cx="1762.3" cy="138" r="6.6" fill="#636363"/>
<text x="1775" y="145.6" font-size="22">T/N</text>
<circle cx="1762.3" cy="168.2" r="6.6" fill="#d9d9d9"/>
<text x="1775" y="175.8" font-size="22">T/N+aPDL1</text>
<g transform="translate(266.7 414) scale(0.795)">
<g fill="#8a8a8a" stroke="#8a8a8a" stroke-width="2" stroke-linejoin="round" filter="url(#t1)"><use href="#f_nk" opacity=".36"/><path d="M874 42.7C874 44.2 873.2 46 872 47.2C870.7 48.4 868.6 49.5 866.6 49.9C864.6 50.4 862 50.4 860 49.9C858.1 49.5 855.9 48.4 854.7 47.2C853.5 46 852.7 44.2 852.7 42.7C852.7 41.2 853.5 39.4 854.7 38.2C855.9 37 858.1 35.9 860 35.5C862 35 864.6 35 866.6 35.5C868.6 35.9 870.7 37 872 38.2C873.2 39.4 874 41.2 874 42.7Z" opacity=".31"/></g>
<g fill="#9cdc8f" stroke="#9cdc8f" stroke-width="2" stroke-linejoin="round" filter="url(#t2)"><use href="#f_t" opacity=".40"/><path d="M940.4 28.5C940.4 30.8 939.4 33.6 937.9 35.4C936.4 37.3 933.8 39 931.4 39.7C929 40.5 925.8 40.5 923.4 39.7C920.9 39 918.3 37.3 916.8 35.4C915.3 33.6 914.3 30.8 914.3 28.5C914.3 26.1 915.3 23.4 916.8 21.5C918.3 19.6 920.9 17.9 923.4 17.2C925.8 16.5 929 16.5 931.4 17.2C933.8 17.9 936.4 19.6 937.9 21.5C939.4 23.4 940.4 26.1 940.4 28.5Z" opacity=".17"/><path d="M914.3 60.5C914.3 63.3 913.5 66.6 912.3 68.8C911.1 71.1 908.9 73.2 907 74C905 74.9 902.4 74.9 900.4 74C898.4 73.2 896.3 71.1 895 68.8C893.8 66.6 893 63.3 893 60.5C893 57.7 893.8 54.4 895 52.1C896.3 49.9 898.4 47.8 900.4 46.9C902.4 46.1 905 46.1 907 46.9C908.9 47.8 911.1 49.9 912.3 52.1C913.5 54.4 914.3 57.7 914.3 60.5Z" opacity=".17"/></g>
<g fill="#d4d4d4" stroke="#d4d4d4" stroke-width="2" stroke-linejoin="round" filter="url(#t3)"><use href="#f_mac" opacity=".36"/><path d="M917.9 182.6C917.9 185.9 916.8 189.8 915.2 192.4C913.5 195 910.7 197.4 908.1 198.4C905.4 199.4 901.9 199.4 899.3 198.4C896.6 197.4 893.8 195 892.1 192.4C890.5 189.8 889.4 185.9 889.4 182.6C889.4 179.4 890.5 175.5 892.1 172.9C893.8 170.2 896.6 167.9 899.3 166.8C901.9 165.8 905.4 165.8 908.1 166.8C910.7 167.9 913.5 170.2 915.2 172.9C916.8 175.5 917.9 179.4 917.9 182.6Z" opacity=".09"/></g>
<g fill="#f5853a" stroke="#f5853a" stroke-width="2" stroke-linejoin="round" filter="url(#t4)"><path d="M917.9 130.5C917.9 132.5 917 135 915.6 136.7C914.3 138.4 911.9 140 909.7 140.6C907.5 141.3 904.6 141.3 902.4 140.6C900.2 140 897.8 138.4 896.4 136.7C895.1 135 894.2 132.5 894.2 130.5C894.2 128.4 895.1 125.9 896.4 124.2C897.8 122.5 900.2 121 902.4 120.3C904.6 119.7 907.5 119.7 909.7 120.3C911.9 121 914.3 122.5 915.6 124.2C917 125.9 917.9 128.4 917.9 130.5Z" opacity=".60"/><path d="M929 154.4C928.4 154.9 927.4 155 926.3 154.7C925.3 154.4 923.8 153.5 922.7 152.5C921.5 151.5 920.2 150 919.5 148.7C918.7 147.4 918.1 145.8 917.9 144.7C917.8 143.6 918.1 142.5 918.6 142.1C919.2 141.6 920.3 141.5 921.3 141.8C922.4 142.1 923.8 143 925 144C926.1 145 927.4 146.5 928.2 147.8C929 149.1 929.6 150.7 929.7 151.8C929.9 152.9 929.6 153.9 929 154.4Z" opacity=".62"/></g>
<g fill="#2478b6" stroke="#2478b6" stroke-width="2" stroke-linejoin="round" filter="url(#t1)"><path d="M974.8 161.3C974.8 164.5 973.7 168.4 972.1 171C970.5 173.7 967.6 176.1 965 177.1C962.3 178.1 958.8 178.1 956.2 177.1C953.5 176.1 950.7 173.7 949.1 171C947.4 168.4 946.4 164.5 946.4 161.3C946.4 158 947.4 154.2 949.1 151.5C950.7 148.9 953.5 146.5 956.2 145.5C958.8 144.5 962.3 144.5 965 145.5C967.6 146.5 970.5 148.9 972.1 151.5C973.7 154.2 974.8 158 974.8 161.3Z" opacity=".45"/></g>
<g fill="#7465b6" stroke="#7465b6" stroke-width="2" stroke-linejoin="round" filter="url(#t2)"><use href="#f_b" opacity=".50"/><path d="M764.9 199.2C765.1 195.2 767.1 190.7 769.6 187.4C772.2 184 776.2 180.9 780.3 179.1C784.5 177.3 790 176.5 794.6 176.7C799.1 176.9 803.8 178.1 807.6 180.3C811.4 182.4 814.9 186.2 817.1 189.8C819.3 193.3 820.8 197.7 820.6 201.6C820.5 205.6 819.9 210.1 816.4 213.5C812.8 216.8 805.3 220.8 799.3 221.8C793.3 222.8 785.5 221.1 780.3 219.4C775.2 217.7 771 214.9 768.5 211.6C765.9 208.2 764.7 203.3 764.9 199.2Z" opacity=".48"/></g>
<g fill="#d4d2e8" stroke="#d4d2e8" stroke-width="2" stroke-linejoin="round" filter="url(#t3)"><use href="#f_endo" opacity=".30"/></g>
<g fill="#fcc694" stroke="#fcc694" stroke-width="2" stroke-linejoin="round" filter="url(#t4)"><path d="M1003.3 257.4C1003.3 259 1002.7 260.9 1001.7 262.2C1000.7 263.5 999.1 264.7 997.5 265.2C996 265.8 994 265.8 992.4 265.2C990.9 264.7 989.2 263.5 988.3 262.2C987.3 260.9 986.7 259 986.7 257.4C986.7 255.7 987.3 253.8 988.3 252.5C989.2 251.2 990.9 250 992.4 249.5C994 249 996 249 997.5 249.5C999.1 250 1000.7 251.2 1001.7 252.5C1002.7 253.8 1003.3 255.7 1003.3 257.4Z" opacity=".40"/><path d="M1022.3 284.6C1022.3 287.4 1020.6 290.7 1018.2 293C1015.7 295.3 1011.5 297.3 1007.5 298.2C1003.5 299 998.3 299 994.3 298.2C990.3 297.3 986.1 295.3 983.6 293C981.2 290.7 979.6 287.4 979.6 284.6C979.6 281.8 981.2 278.5 983.6 276.3C986.1 274 990.3 272 994.3 271.1C998.3 270.2 1003.5 270.2 1007.5 271.1C1011.5 272 1015.7 274 1018.2 276.3C1020.6 278.5 1022.3 281.8 1022.3 284.6Z" opacity=".30"/><path d="M827.5 189.4C827.7 189.7 827.7 190.2 827.6 190.8C827.4 191.3 826.9 192.1 826.4 192.7C825.8 193.3 825 193.9 824.4 194.4C823.7 194.8 822.8 195.1 822.3 195.2C821.7 195.3 821.2 195.2 820.9 194.9C820.7 194.6 820.7 194 820.8 193.5C821 192.9 821.5 192.2 822 191.6C822.6 191 823.4 190.3 824.1 189.9C824.7 189.5 825.6 189.1 826.1 189.1C826.7 189 827.2 189.1 827.5 189.4Z" opacity=".55"/></g>
<g fill="#a8cee6" stroke="#a8cee6" stroke-width="2" stroke-linejoin="round" filter="url(#t1)"><use href="#f_tum" opacity=".34"/><path d="M1028.2 214.7C1030.6 212.1 1033.9 210.7 1038.9 210.2C1043.8 209.6 1051.5 210.5 1057.8 211.6C1064.2 212.6 1070.9 214.3 1076.8 216.3C1082.7 218.3 1089.7 220.7 1093.4 223.4C1097.2 226.2 1098.5 228.3 1099.3 232.9C1100.2 237.6 1100 246.4 1098.6 251.4C1097.3 256.5 1095.5 261.7 1091 263.3C1086.6 264.9 1079.2 262.9 1072.1 260.9C1065 258.9 1055.1 255.4 1048.3 251.4C1041.6 247.5 1035.7 241.5 1031.7 237.2C1027.8 232.8 1025.2 229.1 1024.6 225.3C1024 221.6 1025.8 217.2 1028.2 214.7Z" opacity=".24"/><path d="M949.9 217C950.9 214.5 953.5 212.7 955.8 212.8C958.2 212.8 961.4 215.2 964.1 217.5C966.9 219.8 970.3 223.2 972.4 226.5C974.6 229.8 976.4 233 977.2 237.2C978 241.3 976.8 247.1 977.2 251.4C977.6 255.8 981.1 260.9 979.6 263.3C978 265.7 972.1 266.4 967.7 265.7C963.4 264.9 956.1 262.1 953.5 258.5C950.8 255 952.4 249.4 951.8 244.3C951.2 239.2 950.2 232.7 949.9 228.2C949.6 223.6 948.9 219.6 949.9 217Z" opacity=".17"/><path d="M821.6 201.6C821.6 202.2 821.3 202.8 821 203.3C820.6 203.7 819.9 204.1 819.3 204.3C818.7 204.5 817.9 204.5 817.2 204.3C816.6 204.1 816 203.7 815.6 203.3C815.2 202.8 815 202.2 815 201.6C815 201.1 815.2 200.4 815.6 199.9C816 199.5 816.6 199.1 817.2 198.9C817.9 198.7 818.7 198.7 819.3 198.9C819.9 199.1 820.6 199.5 821 199.9C821.3 200.4 821.6 201.1 821.6 201.6Z" opacity=".50"/></g>
<use href="#ol"/>
</g>
<text x="995" y="731.4" font-size="15.7" font-weight="bold" class="n1">Cell number</text>
<path d="M990.4 736V936.2M869.9 755.9H1045.9M869.9 775.7H1045.9M869.9 795.6H1045.9M869.9 815.5H1045.9M869.9 835.4H1045.9M869.9 855.2H1045.9M869.9 875.1H1045.9M869.9 895H1045.9M869.9 914.8H1045.9" fill="none" stroke="#333" stroke-width="1.1"/>
<g class="ns" font-size="15.7">
<text x="984.8" y="751.6" text-anchor="end">Acinar cells</text>
<text x="994.8" y="751.6">64</text>
<text x="984.8" y="771.5" text-anchor="end">Tumor cells</text>
<text x="994.8" y="771.5">686</text>
<text x="984.8" y="791.3" text-anchor="end">Neutrophils</text>
<text x="994.8" y="791.3">174</text>
<text x="984.8" y="811.2" text-anchor="end">Fibroblasts</text>
<text x="994.8" y="811.2">76</text>
<text x="984.8" y="831.1" text-anchor="end">T cells</text>
<text x="994.8" y="831.1">261</text>
<text x="984.8" y="851" text-anchor="end">B cells</text>
<text x="994.8" y="851">1862</text>
<text x="984.8" y="870.8" text-anchor="end">Endothelial cells</text>
<text x="994.8" y="870.8">15</text>
<text x="984.8" y="890.7" text-anchor="end">NK cells</text>
<text x="994.8" y="890.7">125</text>
<text x="984.8" y="910.6" text-anchor="end">Macrophages</text>
<text x="994.8" y="910.6">100</text>
<text x="984.8" y="930.4" text-anchor="end" font-style="italic">total number</text>
<text x="994.8" y="930.4">3363</text>
</g>
<g transform="translate(633.6 414) scale(0.795)">
<g fill="#8a8a8a" stroke="#8a8a8a" stroke-width="2" stroke-linejoin="round" filter="url(#t1)"><path d="M876.6 40.3C876.6 41.5 876 43 875 43.9C874 44.9 872.3 45.8 870.7 46.2C869.1 46.6 867 46.6 865.4 46.2C863.9 45.8 862.2 44.9 861.2 43.9C860.2 43 859.5 41.5 859.5 40.3C859.5 39.1 860.2 37.7 861.2 36.7C862.2 35.7 863.9 34.8 865.4 34.5C867 34.1 869.1 34.1 870.7 34.5C872.3 34.8 874 35.7 875 36.7C876 37.7 876.6 39.1 876.6 40.3Z" opacity=".58"/></g>
<g fill="#9cdc8f" stroke="#9cdc8f" stroke-width="2" stroke-linejoin="round" filter="url(#t2)"><use href="#f_t" opacity=".42"/><path d="M942.8 26.1C942.8 28.2 941.8 30.7 940.3 32.4C938.8 34.1 936.2 35.6 933.8 36.2C931.4 36.9 928.2 36.9 925.7 36.2C923.3 35.6 920.7 34.1 919.2 32.4C917.7 30.7 916.7 28.2 916.7 26.1C916.7 24 917.7 21.5 919.2 19.8C920.7 18.1 923.3 16.6 925.7 15.9C928.2 15.3 931.4 15.3 933.8 15.9C936.2 16.6 938.8 18.1 940.3 19.8C941.8 21.5 942.8 24 942.8 26.1Z" opacity=".28"/><path d="M914.3 58.1C914.3 61.1 913.5 64.7 912.3 67.2C911.1 69.6 908.9 71.8 907 72.8C905 73.7 902.4 73.7 900.4 72.8C898.4 71.8 896.3 69.6 895 67.2C893.8 64.7 893 61.1 893 58.1C893 55.1 893.8 51.5 895 49C896.3 46.6 898.4 44.4 900.4 43.4C902.4 42.5 905 42.5 907 43.4C908.9 44.4 911.1 46.6 912.3 49C913.5 51.5 914.3 55.1 914.3 58.1Z" opacity=".22"/></g>
<g fill="#d4d4d4" stroke="#d4d4d4" stroke-width="2" stroke-linejoin="round" filter="url(#t3)"><use href="#f_mac" opacity=".32"/><path d="M919.1 181.5C919.1 184.9 917.9 189.1 916.1 191.9C914.4 194.7 911.3 197.3 908.4 198.4C905.6 199.4 901.8 199.4 898.9 198.4C896 197.3 893 194.7 891.2 191.9C889.4 189.1 888.2 184.9 888.2 181.5C888.2 178 889.4 173.8 891.2 171C893 168.2 896 165.6 898.9 164.5C901.8 163.5 905.6 163.5 908.4 164.5C911.3 165.6 914.4 168.2 916.1 171C917.9 173.8 919.1 178 919.1 181.5Z" opacity=".44"/></g>
<g fill="#f5853a" stroke="#f5853a" stroke-width="2" stroke-linejoin="round" filter="url(#t4)"><path d="M919.1 130.5C919.1 132.7 918.1 135.3 916.6 137.1C915.1 139 912.5 140.6 910.1 141.3C907.6 142 904.4 142 902 141.3C899.6 140.6 897 139 895.5 137.1C894 135.3 893 132.7 893 130.5C893 128.2 894 125.6 895.5 123.8C897 122 899.6 120.3 902 119.6C904.4 118.9 907.6 118.9 910.1 119.6C912.5 120.3 915.1 122 916.6 123.8C918.1 125.6 919.1 128.2 919.1 130.5Z" opacity=".58"/><path d="M929 154.4C928.4 154.9 927.4 155 926.3 154.7C925.3 154.4 923.8 153.5 922.7 152.5C921.5 151.5 920.2 150 919.5 148.7C918.7 147.4 918.1 145.8 917.9 144.7C917.8 143.6 918.1 142.5 918.6 142.1C919.2 141.6 920.3 141.5 921.3 141.8C922.4 142.1 923.8 143 925 144C926.1 145 927.4 146.5 928.2 147.8C929 149.1 929.6 150.7 929.7 151.8C929.9 152.9 929.6 153.9 929 154.4Z" opacity=".62"/></g>
<g fill="#2478b6" stroke="#2478b6" stroke-width="2" stroke-linejoin="round" filter="url(#t1)"><use href="#f_aci" opacity=".40"/><path d="M979.1 162.5C979.1 166.4 977.9 171.1 976 174.3C974.2 177.5 970.9 180.4 967.9 181.7C964.9 182.9 961 182.9 958 181.7C955 180.4 951.8 177.5 949.9 174.3C948.1 171.1 946.8 166.4 946.8 162.5C946.8 158.5 948.1 153.8 949.9 150.6C951.8 147.4 955 144.5 958 143.3C961 142.1 964.9 142.1 967.9 143.3C970.9 144.5 974.2 147.4 976 150.6C977.9 153.8 979.1 158.5 979.1 162.5Z" opacity=".43"/></g>
<g fill="#7465b6" stroke="#7465b6" stroke-width="2" stroke-linejoin="round" filter="url(#t2)"><use href="#f_b" opacity=".42"/><path d="M769.6 202.8C772.4 199.8 780.5 197.1 787.4 196.9C794.4 196.7 805.8 199.8 811.2 201.6C816.5 203.4 819.5 203.8 819.5 207.5C819.5 211.3 814.1 219.2 811.2 224.1C808.2 229.1 804.6 234 801.7 237.2C798.7 240.4 795.9 242.7 793.4 243.1C790.8 243.5 789 241.9 786.3 239.6C783.5 237.2 779.3 233 776.8 228.9C774.2 224.7 772 219 770.8 214.7C769.6 210.3 766.9 205.8 769.6 202.8Z" opacity=".52"/></g>
<g fill="#d4d2e8" stroke="#d4d2e8" stroke-width="2" stroke-linejoin="round" filter="url(#t3)"><use href="#f_endo" opacity=".60"/></g>
<g fill="#fcc694" stroke="#fcc694" stroke-width="2" stroke-linejoin="round" filter="url(#t4)"><path d="M1003.3 257.4C1003.3 259.1 1002.7 261.2 1001.7 262.7C1000.7 264.1 999.1 265.4 997.5 265.9C996 266.5 994 266.5 992.4 265.9C990.9 265.4 989.2 264.1 988.3 262.7C987.3 261.2 986.7 259.1 986.7 257.4C986.7 255.6 987.3 253.5 988.3 252.1C989.2 250.6 990.9 249.3 992.4 248.8C994 248.2 996 248.2 997.5 248.8C999.1 249.3 1000.7 250.6 1001.7 252.1C1002.7 253.5 1003.3 255.6 1003.3 257.4Z" opacity=".55"/><path d="M944.1 241.3C943.7 241.9 942.8 242.3 941.7 242.2C940.6 242.2 939 241.8 937.5 241.2C936.1 240.6 934.3 239.6 933.1 238.6C931.8 237.7 930.6 236.5 930.1 235.5C929.5 234.6 929.4 233.6 929.7 233C930 232.5 930.9 232.1 932 232.1C933.1 232.2 934.8 232.6 936.2 233.2C937.7 233.8 939.4 234.8 940.7 235.7C941.9 236.7 943.1 237.9 943.7 238.9C944.2 239.8 944.4 240.8 944.1 241.3Z" opacity=".50"/></g>
<g fill="#a8cee6" stroke="#a8cee6" stroke-width="2" stroke-linejoin="round" filter="url(#t1)"><use href="#f_tum" opacity=".37"/><path d="M1028.2 214.7C1030.6 212.1 1033.9 210.7 1038.9 210.2C1043.8 209.6 1051.5 210.5 1057.8 211.6C1064.2 212.6 1070.9 214.3 1076.8 216.3C1082.7 218.3 1089.7 220.7 1093.4 223.4C1097.2 226.2 1098.5 228.3 1099.3 232.9C1100.2 237.6 1100 246.4 1098.6 251.4C1097.3 256.5 1095.5 261.7 1091 263.3C1086.6 264.9 1079.2 262.9 1072.1 260.9C1065 258.9 1055.1 255.4 1048.3 251.4C1041.6 247.5 1035.7 241.5 1031.7 237.2C1027.8 232.8 1025.2 229.1 1024.6 225.3C1024 221.6 1025.8 217.2 1028.2 214.7Z" opacity=".29"/><path d="M949.9 217C950.9 214.5 953.5 212.7 955.8 212.8C958.2 212.8 961.4 215.2 964.1 217.5C966.9 219.8 970.3 223.2 972.4 226.5C974.6 229.8 976.4 233 977.2 237.2C978 241.3 976.8 247.1 977.2 251.4C977.6 255.8 981.1 260.9 979.6 263.3C978 265.7 972.1 266.4 967.7 265.7C963.4 264.9 956.1 262.1 953.5 258.5C950.8 255 952.4 249.4 951.8 244.3C951.2 239.2 950.2 232.7 949.9 228.2C949.6 223.6 948.9 219.6 949.9 217Z" opacity=".21"/><path d="M828.9 201.6C828.9 202.4 828.5 203.4 827.8 204.1C827.1 204.8 826 205.4 824.8 205.7C823.7 205.9 822.3 205.9 821.2 205.7C820.1 205.4 818.9 204.8 818.2 204.1C817.5 203.4 817.1 202.4 817.1 201.6C817.1 200.8 817.5 199.8 818.2 199.1C818.9 198.4 820.1 197.8 821.2 197.6C822.3 197.3 823.7 197.3 824.8 197.6C826 197.8 827.1 198.4 827.8 199.1C828.5 199.8 828.9 200.8 828.9 201.6Z" opacity=".45"/><path d="M939.2 201.6C939.2 204.4 938.5 207.7 937.4 210C936.3 212.2 934.5 214.3 932.7 215.1C930.9 216 928.6 216 926.8 215.1C925.1 214.3 923.2 212.2 922.1 210C921 207.7 920.3 204.4 920.3 201.6C920.3 198.8 921 195.5 922.1 193.2C923.2 191 925.1 188.9 926.8 188.1C928.6 187.2 930.9 187.2 932.7 188.1C934.5 188.9 936.3 191 937.4 193.2C938.5 195.5 939.2 198.8 939.2 201.6Z" opacity=".36"/></g>
<use href="#ol"/>
</g>
<text x="1356.8" y="731.4" font-size="15.7" font-weight="bold" class="n1">Cell number</text>
<path d="M1352.2 736V936.2M1231.7 755.9H1407.7M1231.7 775.7H1407.7M1231.7 795.6H1407.7M1231.7 815.5H1407.7M1231.7 835.4H1407.7M1231.7 855.2H1407.7M1231.7 875.1H1407.7M1231.7 895H1407.7M1231.7 914.8H1407.7" fill="none" stroke="#333" stroke-width="1.1"/>
<g class="ns" font-size="15.7">
<text x="1346.6" y="751.6" text-anchor="end">Acinar cells</text>
<text x="1356.6" y="751.6">815</text>
<text x="1346.6" y="771.5" text-anchor="end">Tumor cells</text>
<text x="1356.6" y="771.5">1146</text>
<text x="1346.6" y="791.3" text-anchor="end">Neutrophils</text>
<text x="1356.6" y="791.3">188</text>
<text x="1346.6" y="811.2" text-anchor="end">Fibroblasts</text>
<text x="1356.6" y="811.2">114</text>
<text x="1346.6" y="831.1" text-anchor="end">T cells</text>
<text x="1356.6" y="831.1">500</text>
<text x="1346.6" y="851" text-anchor="end">B cells</text>
<text x="1356.6" y="851">775</text>
<text x="1346.6" y="870.8" text-anchor="end">Endothelial cells</text>
<text x="1356.6" y="870.8">274</text>
<text x="1346.6" y="890.7" text-anchor="end">NK cells</text>
<text x="1356.6" y="890.7">115</text>
<text x="1346.6" y="910.6" text-anchor="end">Macrophages</text>
<text x="1356.6" y="910.6">316</text>
<text x="1346.6" y="930.4" text-anchor="end" font-style="italic">total number</text>
<text x="1356.6" y="930.4">4243</text>
</g>
<g transform="translate(999.4 414) scale(0.795)">
<g fill="#8a8a8a" stroke="#8a8a8a" stroke-width="2" stroke-linejoin="round" filter="url(#t1)"><path d="M877.8 41.5C877.8 42.5 877.3 43.7 876.6 44.6C875.9 45.4 874.7 46.2 873.5 46.5C872.4 46.8 870.9 46.8 869.7 46.5C868.6 46.2 867.4 45.4 866.7 44.6C865.9 43.7 865.5 42.5 865.5 41.5C865.5 40.5 865.9 39.3 866.7 38.4C867.4 37.6 868.6 36.9 869.7 36.5C870.9 36.2 872.4 36.2 873.5 36.5C874.7 36.9 875.9 37.6 876.6 38.4C877.3 39.3 877.8 40.5 877.8 41.5Z" opacity=".40"/></g>
<g fill="#9cdc8f" stroke="#9cdc8f" stroke-width="2" stroke-linejoin="round" filter="url(#t2)"><use href="#f_t" opacity=".40"/><path d="M941.6 26.1C941.6 27.9 940.7 30.2 939.3 31.7C938 33.2 935.6 34.5 933.4 35.1C931.2 35.7 928.3 35.7 926.1 35.1C923.9 34.5 921.5 33.2 920.2 31.7C918.8 30.2 917.9 27.9 917.9 26.1C917.9 24.2 918.8 22 920.2 20.5C921.5 19 923.9 17.6 926.1 17.1C928.3 16.5 931.2 16.5 933.4 17.1C935.6 17.6 938 19 939.3 20.5C940.7 22 941.6 24.2 941.6 26.1Z" opacity=".10"/></g>
<g fill="#d4d4d4" stroke="#d4d4d4" stroke-width="2" stroke-linejoin="round" filter="url(#t3)"><use href="#f_mac" opacity=".30"/><path d="M918.4 181.5C918.4 184.8 917.3 188.8 915.6 191.5C913.9 194.2 910.9 196.7 908.2 197.7C905.5 198.7 901.9 198.7 899.1 197.7C896.4 196.7 893.5 194.2 891.8 191.5C890.1 188.8 889 184.8 889 181.5C889 178.1 890.1 174.1 891.8 171.4C893.5 168.7 896.4 166.2 899.1 165.2C901.9 164.2 905.5 164.2 908.2 165.2C910.9 166.2 913.9 168.7 915.6 171.4C917.3 174.1 918.4 178.1 918.4 181.5Z" opacity=".29"/></g>
<g fill="#f5853a" stroke="#f5853a" stroke-width="2" stroke-linejoin="round" filter="url(#t4)"><path d="M919.1 130.5C919.1 132.7 918.1 135.3 916.6 137.1C915.1 139 912.5 140.6 910.1 141.3C907.6 142 904.4 142 902 141.3C899.6 140.6 897 139 895.5 137.1C894 135.3 893 132.7 893 130.5C893 128.2 894 125.6 895.5 123.8C897 122 899.6 120.3 902 119.6C904.4 118.9 907.6 118.9 910.1 119.6C912.5 120.3 915.1 122 916.6 123.8C918.1 125.6 919.1 128.2 919.1 130.5Z" opacity=".56"/><path d="M929.3 154.8C928.7 155.3 927.6 155.3 926.6 155C925.5 154.6 924 153.7 922.8 152.6C921.6 151.5 920.2 149.9 919.4 148.5C918.5 147.2 917.8 145.5 917.7 144.4C917.5 143.2 917.8 142.2 918.3 141.7C918.9 141.2 920 141.2 921.1 141.5C922.2 141.9 923.7 142.8 924.9 143.9C926.1 145 927.4 146.6 928.3 147.9C929.1 149.3 929.8 151 930 152.1C930.1 153.2 929.9 154.3 929.3 154.8Z" opacity=".62"/></g>
<g fill="#2478b6" stroke="#2478b6" stroke-width="2" stroke-linejoin="round" filter="url(#t1)"><use href="#f_aci" opacity=".38"/><path d="M977.7 163.7C977.7 167.4 976.6 171.8 974.9 174.8C973.2 177.8 970.2 180.6 967.5 181.7C964.8 182.9 961.2 182.9 958.4 181.7C955.7 180.6 952.8 177.8 951.1 174.8C949.4 171.8 948.3 167.4 948.3 163.7C948.3 159.9 949.4 155.5 951.1 152.5C952.8 149.5 955.7 146.8 958.4 145.6C961.2 144.5 964.8 144.5 967.5 145.6C970.2 146.8 973.2 149.5 974.9 152.5C976.6 155.5 977.7 159.9 977.7 163.7Z" opacity=".35"/></g>
<g fill="#7465b6" stroke="#7465b6" stroke-width="2" stroke-linejoin="round" filter="url(#t2)"><use href="#f_b" opacity=".42"/><path d="M769.6 202.8C772.4 199.8 780.5 197.1 787.4 196.9C794.4 196.7 805.8 199.8 811.2 201.6C816.5 203.4 819.5 203.8 819.5 207.5C819.5 211.3 814.1 219.2 811.2 224.1C808.2 229.1 804.6 234 801.7 237.2C798.7 240.4 795.9 242.7 793.4 243.1C790.8 243.5 789 241.9 786.3 239.6C783.5 237.2 779.3 233 776.8 228.9C774.2 224.7 772 219 770.8 214.7C769.6 210.3 766.9 205.8 769.6 202.8Z" opacity=".31"/></g>
<g fill="#d4d2e8" stroke="#d4d2e8" stroke-width="2" stroke-linejoin="round" filter="url(#t3)"><use href="#f_endo" opacity=".50"/></g>
<g fill="#fcc694" stroke="#fcc694" stroke-width="2" stroke-linejoin="round" filter="url(#t4)"><path d="M1003.3 257.4C1003.3 259.1 1002.7 261.2 1001.7 262.7C1000.7 264.1 999.1 265.4 997.5 265.9C996 266.5 994 266.5 992.4 265.9C990.9 265.4 989.2 264.1 988.3 262.7C987.3 261.2 986.7 259.1 986.7 257.4C986.7 255.6 987.3 253.5 988.3 252.1C989.2 250.6 990.9 249.3 992.4 248.8C994 248.2 996 248.2 997.5 248.8C999.1 249.3 1000.7 250.6 1001.7 252.1C1002.7 253.5 1003.3 255.6 1003.3 257.4Z" opacity=".56"/><path d="M944.7 241.7C944.3 242.3 943.4 242.6 942.2 242.5C941 242.5 939.3 242 937.7 241.3C936.1 240.7 934.2 239.5 932.9 238.5C931.5 237.5 930.2 236.2 929.6 235.2C928.9 234.3 928.7 233.2 929.1 232.7C929.4 232.1 930.4 231.8 931.5 231.9C932.7 231.9 934.5 232.4 936 233.1C937.6 233.7 939.5 234.8 940.9 235.8C942.2 236.9 943.5 238.2 944.2 239.1C944.8 240.1 945 241.1 944.7 241.7Z" opacity=".55"/><path d="M1029.4 265.7C1029.4 266.6 1028.7 267.7 1027.6 268.4C1026.5 269.2 1024.6 269.9 1022.8 270.2C1021.1 270.5 1018.7 270.5 1017 270.2C1015.2 269.9 1013.3 269.2 1012.2 268.4C1011.1 267.7 1010.4 266.6 1010.4 265.7C1010.4 264.7 1011.1 263.6 1012.2 262.9C1013.3 262.1 1015.2 261.4 1017 261.1C1018.7 260.9 1021.1 260.9 1022.8 261.1C1024.6 261.4 1026.5 262.1 1027.6 262.9C1028.7 263.6 1029.4 264.7 1029.4 265.7Z" opacity=".36"/></g>
<g fill="#a8cee6" stroke="#a8cee6" stroke-width="2" stroke-linejoin="round" filter="url(#t1)"><use href="#f_tum" opacity=".36"/><path d="M1028.2 214.7C1030.6 212.1 1033.9 210.7 1038.9 210.2C1043.8 209.6 1051.5 210.5 1057.8 211.6C1064.2 212.6 1070.9 214.3 1076.8 216.3C1082.7 218.3 1089.7 220.7 1093.4 223.4C1097.2 226.2 1098.5 228.3 1099.3 232.9C1100.2 237.6 1100 246.4 1098.6 251.4C1097.3 256.5 1095.5 261.7 1091 263.3C1086.6 264.9 1079.2 262.9 1072.1 260.9C1065 258.9 1055.1 255.4 1048.3 251.4C1041.6 247.5 1035.7 241.5 1031.7 237.2C1027.8 232.8 1025.2 229.1 1024.6 225.3C1024 221.6 1025.8 217.2 1028.2 214.7Z" opacity=".34"/><path d="M949.9 217C950.9 214.5 953.5 212.7 955.8 212.8C958.2 212.8 961.4 215.2 964.1 217.5C966.9 219.8 970.3 223.2 972.4 226.5C974.6 229.8 976.4 233 977.2 237.2C978 241.3 976.8 247.1 977.2 251.4C977.6 255.8 981.1 260.9 979.6 263.3C978 265.7 972.1 266.4 967.7 265.7C963.4 264.9 956.1 262.1 953.5 258.5C950.8 255 952.4 249.4 951.8 244.3C951.2 239.2 950.2 232.7 949.9 228.2C949.6 223.6 948.9 219.6 949.9 217Z" opacity=".22"/><path d="M828.9 201.6C828.9 202.4 828.5 203.4 827.8 204.1C827.1 204.8 826 205.4 824.8 205.7C823.7 205.9 822.3 205.9 821.2 205.7C820.1 205.4 818.9 204.8 818.2 204.1C817.5 203.4 817.1 202.4 817.1 201.6C817.1 200.8 817.5 199.8 818.2 199.1C818.9 198.4 820.1 197.8 821.2 197.6C822.3 197.3 823.7 197.3 824.8 197.6C826 197.8 827.1 198.4 827.8 199.1C828.5 199.8 828.9 200.8 828.9 201.6Z" opacity=".42"/></g>
<use href="#ol"/>
</g>
<text x="1720" y="731.4" font-size="15.7" font-weight="bold" class="n1">Cell number</text>
<path d="M1715.4 736V936.2M1594.9 755.9H1770.9M1594.9 775.7H1770.9M1594.9 795.6H1770.9M1594.9 815.5H1770.9M1594.9 835.4H1770.9M1594.9 855.2H1770.9M1594.9 875.1H1770.9M1594.9 895H1770.9M1594.9 914.8H1770.9" fill="none" stroke="#333" stroke-width="1.1"/>
<g class="ns" font-size="15.7">
<text x="1709.8" y="751.6" text-anchor="end">Acinar cells</text>
<text x="1719.8" y="751.6">293</text>
<text x="1709.8" y="771.5" text-anchor="end">Tumor cells</text>
<text x="1719.8" y="771.5">1329</text>
<text x="1709.8" y="791.3" text-anchor="end">Neutrophils</text>
<text x="1719.8" y="791.3">118</text>
<text x="1709.8" y="811.2" text-anchor="end">Fibroblasts</text>
<text x="1719.8" y="811.2">134</text>
<text x="1709.8" y="831.1" text-anchor="end">T cells</text>
<text x="1719.8" y="831.1">202</text>
<text x="1709.8" y="851" text-anchor="end">B cells</text>
<text x="1719.8" y="851">587</text>
<text x="1709.8" y="870.8" text-anchor="end">Endothelial cells</text>
<text x="1719.8" y="870.8">457</text>
<text x="1709.8" y="890.7" text-anchor="end">NK cells</text>
<text x="1719.8" y="890.7">22</text>
<text x="1709.8" y="910.6" text-anchor="end">Macrophages</text>
<text x="1719.8" y="910.6">160</text>
<text x="1709.8" y="930.4" text-anchor="end" font-style="italic">total number</text>
<text x="1719.8" y="930.4">3302</text>
</g>
<text x="871.7" y="406.3" font-size="25.7" font-weight="bold">Control</text>
<text x="1232.4" y="406.3" font-size="25.7" font-weight="bold">T/N</text>
<text x="1595.6" y="406.3" font-size="25.7" font-weight="bold">T/N+aPDL1</text>
<path d="M832.7 595V698.5H940.7" fill="none" stroke="#000" stroke-width="1.5"/>
<path d="M832.7 591l-3.7 7.4l3.7 -2l3.7 2zM944.7 698.5l-7.4 -3.7l2 3.7l-2 3.7z" fill="#000"/>
<text transform="translate(821.7 695.5) rotate(-90)" font-size="22">UMAP2</text>
<text x="839.7" y="720" font-size="22">UMAP1</text>
<g transform="translate(269.9 996) scale(0.795)">
<g fill="#8a8a8a" stroke="#8a8a8a" stroke-width="2" stroke-linejoin="round" filter="url(#t1)"><path d="M876.4 43.9C876.4 45.5 875.4 47.3 873.9 48.6C872.4 49.9 869.8 51.1 867.4 51.6C864.9 52 861.7 52 859.3 51.6C856.9 51.1 854.3 49.9 852.8 48.6C851.3 47.3 850.3 45.5 850.3 43.9C850.3 42.3 851.3 40.4 852.8 39.1C854.3 37.9 856.9 36.7 859.3 36.2C861.7 35.7 864.9 35.7 867.4 36.2C869.8 36.7 872.4 37.9 873.9 39.1C875.4 40.4 876.4 42.3 876.4 43.9Z" opacity=".55"/></g>
<g fill="#9cdc8f" stroke="#9cdc8f" stroke-width="2" stroke-linejoin="round" filter="url(#t2)"><use href="#f_t" opacity=".45"/><path d="M946.4 27.3C946.4 29.8 945.1 32.9 943.2 34.9C941.3 37 938 38.9 934.9 39.7C931.8 40.5 927.7 40.5 924.6 39.7C921.5 38.9 918.2 37 916.3 34.9C914.4 32.9 913.1 29.8 913.1 27.3C913.1 24.7 914.4 21.7 916.3 19.6C918.2 17.5 921.5 15.7 924.6 14.9C927.7 14.1 931.8 14.1 934.9 14.9C938 15.7 941.3 17.5 943.2 19.6C945.1 21.7 946.4 24.7 946.4 27.3Z" opacity=".35"/></g>
<g fill="#d4d4d4" stroke="#d4d4d4" stroke-width="2" stroke-linejoin="round" filter="url(#t3)"><use href="#f_mac" opacity=".30"/></g>
<g fill="#f5853a" stroke="#f5853a" stroke-width="2" stroke-linejoin="round" filter="url(#t4)"><path d="M913.6 131.6C913.6 133.1 913 134.9 912.2 136.1C911.3 137.3 909.8 138.4 908.4 138.9C907 139.3 905.1 139.3 903.7 138.9C902.3 138.4 900.8 137.3 899.9 136.1C899 134.9 898.4 133.1 898.4 131.6C898.4 130.2 899 128.4 899.9 127.2C900.8 126 902.3 124.9 903.7 124.4C905.1 124 907 124 908.4 124.4C909.8 124.9 911.3 126 912.2 127.2C913 128.4 913.6 130.2 913.6 131.6Z" opacity=".42"/></g>
<g fill="#2478b6" stroke="#2478b6" stroke-width="2" stroke-linejoin="round" filter="url(#t1)"><path d="M968.2 163.7C968.2 165.8 967.6 168.2 966.7 169.9C965.9 171.6 964.3 173.2 962.9 173.8C961.5 174.5 959.7 174.5 958.2 173.8C956.8 173.2 955.3 171.6 954.4 169.9C953.6 168.2 953 165.8 953 163.7C953 161.6 953.6 159.1 954.4 157.4C955.3 155.7 956.8 154.2 958.2 153.5C959.7 152.9 961.5 152.9 962.9 153.5C964.3 154.2 965.9 155.7 966.7 157.4C967.6 159.1 968.2 161.6 968.2 163.7Z" opacity=".42"/></g>
<g fill="#b9b3dc" stroke="#b9b3dc" stroke-width="2" stroke-linejoin="round" filter="url(#t2)"><use href="#f_b" opacity=".43"/></g>
<g fill="#a8cee6" stroke="#a8cee6" stroke-width="2" stroke-linejoin="round" filter="url(#t3)"><use href="#f_tum" opacity=".30"/><path d="M1098.2 282.3C1098.2 292.5 1093.8 304.7 1087.3 312.9C1080.7 321.2 1069.4 328.7 1058.8 331.9C1048.2 335 1034.2 335 1023.6 331.9C1013 328.7 1001.7 321.2 995.2 312.9C988.6 304.7 984.3 292.5 984.3 282.3C984.3 272 988.6 259.9 995.2 251.6C1001.7 243.3 1013 235.8 1023.6 232.6C1034.2 229.5 1048.2 229.5 1058.8 232.6C1069.4 235.8 1080.7 243.3 1087.3 251.6C1093.8 259.9 1098.2 272 1098.2 282.3Z" opacity=".26"/></g>
<use href="#ol"/>
</g>
<text x="995" y="1322.9" font-size="15.7" font-weight="bold" class="n1">Cell number</text>
<path d="M990.4 1327.5V1527.7M869.9 1347.4H1045.9M869.9 1367.2H1045.9M869.9 1387.1H1045.9M869.9 1407H1045.9M869.9 1426.8H1045.9M869.9 1446.7H1045.9M869.9 1466.6H1045.9M869.9 1486.5H1045.9M869.9 1506.3H1045.9" fill="none" stroke="#333" stroke-width="1.1"/>
<g class="ns" font-size="15.7">
<text x="984.8" y="1343.1" text-anchor="end">Acinar cells</text>
<text x="994.8" y="1343.1">21</text>
<text x="984.8" y="1363" text-anchor="end">Tumor cells</text>
<text x="994.8" y="1363">440</text>
<text x="984.8" y="1382.8" text-anchor="end">Neutrophils</text>
<text x="994.8" y="1382.8">11</text>
<text x="984.8" y="1402.7" text-anchor="end">Fibroblasts</text>
<text x="994.8" y="1402.7">2</text>
<text x="984.8" y="1422.6" text-anchor="end">T cells</text>
<text x="994.8" y="1422.6">1053</text>
<text x="984.8" y="1442.4" text-anchor="end">B cells</text>
<text x="994.8" y="1442.4">57</text>
<text x="984.8" y="1462.3" text-anchor="end">Endothelial cells</text>
<text x="994.8" y="1462.3">0</text>
<text x="984.8" y="1482.2" text-anchor="end">NK cells</text>
<text x="994.8" y="1482.2">80</text>
<text x="984.8" y="1502.1" text-anchor="end">Macrophages</text>
<text x="994.8" y="1502.1">13</text>
<text x="984.8" y="1521.9" text-anchor="end" font-style="italic">total number</text>
<text x="994.8" y="1521.9">1677</text>
</g>
<g transform="translate(636.8 996) scale(0.795)">
<g fill="#8a8a8a" stroke="#8a8a8a" stroke-width="2" stroke-linejoin="round" filter="url(#t1)"><use href="#f_nk" opacity=".45"/><path d="M876.4 43.9C876.4 45.6 875.4 47.7 873.9 49.2C872.4 50.6 869.8 51.9 867.4 52.5C864.9 53 861.7 53 859.3 52.5C856.9 51.9 854.3 50.6 852.8 49.2C851.3 47.7 850.3 45.6 850.3 43.9C850.3 42.1 851.3 40 852.8 38.6C854.3 37.2 856.9 35.9 859.3 35.3C861.7 34.8 864.9 34.8 867.4 35.3C869.8 35.9 872.4 37.2 873.9 38.6C875.4 40 876.4 42.1 876.4 43.9Z" opacity=".35"/></g>
<g fill="#9cdc8f" stroke="#9cdc8f" stroke-width="2" stroke-linejoin="round" filter="url(#t2)"><use href="#f_t" opacity=".50"/><path d="M944.5 26.1C944.5 28.4 943.3 31.2 941.7 33.1C940 34.9 937 36.7 934.3 37.4C931.6 38.1 927.9 38.1 925.2 37.4C922.5 36.7 919.5 34.9 917.9 33.1C916.2 31.2 915 28.4 915 26.1C915 23.8 916.2 21 917.9 19.1C919.5 17.2 922.5 15.5 925.2 14.8C927.9 14.1 931.6 14.1 934.3 14.8C937 15.5 940 17.2 941.7 19.1C943.3 21 944.5 23.8 944.5 26.1Z" opacity=".24"/><path d="M916 58.1C916 61.6 915.1 65.7 913.6 68.6C912.2 71.4 909.8 74 907.5 75C905.2 76.1 902.1 76.1 899.9 75C897.6 74 895.1 71.4 893.7 68.6C892.3 65.7 891.3 61.6 891.3 58.1C891.3 54.6 892.3 50.5 893.7 47.7C895.1 44.8 897.6 42.3 899.9 41.2C902.1 40.1 905.2 40.1 907.5 41.2C909.8 42.3 912.2 44.8 913.6 47.7C915.1 50.5 916 54.6 916 58.1Z" opacity=".24"/></g>
<g fill="#d4d4d4" stroke="#d4d4d4" stroke-width="2" stroke-linejoin="round" filter="url(#t3)"><use href="#f_mac" opacity=".38"/></g>
<g fill="#f5853a" stroke="#f5853a" stroke-width="2" stroke-linejoin="round" filter="url(#t4)"><path d="M913.1 131.6C913.1 133 912.6 134.7 911.8 135.8C911 137 909.6 138 908.2 138.4C906.9 138.8 905.2 138.8 903.8 138.4C902.5 138 901.1 137 900.3 135.8C899.5 134.7 898.9 133 898.9 131.6C898.9 130.2 899.5 128.6 900.3 127.5C901.1 126.3 902.5 125.3 903.8 124.9C905.2 124.4 906.9 124.4 908.2 124.9C909.6 125.3 911 126.3 911.8 127.5C912.6 128.6 913.1 130.2 913.1 131.6Z" opacity=".54"/></g>
<g fill="#2478b6" stroke="#2478b6" stroke-width="2" stroke-linejoin="round" filter="url(#t1)"><use href="#f_aci" opacity=".36"/><path d="M973.6 163.7C973.6 166.5 972.6 169.8 971.1 172C969.6 174.3 967.1 176.3 964.6 177.2C962.2 178.1 959 178.1 956.6 177.2C954.1 176.3 951.5 174.3 950 172C948.5 169.8 947.5 166.5 947.5 163.7C947.5 160.9 948.5 157.6 950 155.3C951.5 153 954.1 151 956.6 150.1C959 149.3 962.2 149.3 964.6 150.1C967.1 151 969.6 153 971.1 155.3C972.6 157.6 973.6 160.9 973.6 163.7Z" opacity=".25"/></g>
<g fill="#7465b6" stroke="#7465b6" stroke-width="2" stroke-linejoin="round" filter="url(#t2)"><use href="#f_b" opacity=".42"/><path d="M807.8 204C807.8 206.7 806.6 209.9 804.8 212.1C803 214.3 799.9 216.2 797 217.1C794.1 217.9 790.3 217.9 787.3 217.1C784.4 216.2 781.3 214.3 779.5 212.1C777.7 209.9 776.5 206.7 776.5 204C776.5 201.3 777.7 198.1 779.5 195.9C781.3 193.7 784.4 191.7 787.3 190.9C790.3 190.1 794.1 190.1 797 190.9C799.9 191.7 803 193.7 804.8 195.9C806.6 198.1 807.8 201.3 807.8 204Z" opacity=".45"/></g>
<g fill="#d4d2e8" stroke="#d4d2e8" stroke-width="2" stroke-linejoin="round" filter="url(#t3)"><use href="#f_endo" opacity=".28"/></g>
<g fill="#fcc694" stroke="#fcc694" stroke-width="2" stroke-linejoin="round" filter="url(#t4)"><path d="M1002.1 257.4C1002.1 258.8 1001.6 260.6 1000.7 261.8C999.9 263 998.5 264.1 997.2 264.6C995.9 265 994.1 265 992.8 264.6C991.5 264.1 990 263 989.2 261.8C988.4 260.6 987.9 258.8 987.9 257.4C987.9 255.9 988.4 254.1 989.2 252.9C990 251.7 991.5 250.6 992.8 250.1C994.1 249.7 995.9 249.7 997.2 250.1C998.5 250.6 999.9 251.7 1000.7 252.9C1001.6 254.1 1002.1 255.9 1002.1 257.4Z" opacity=".50"/></g>
<g fill="#a8cee6" stroke="#a8cee6" stroke-width="2" stroke-linejoin="round" filter="url(#t1)"><use href="#f_tum" opacity=".42"/><path d="M1100.5 282.3C1100.5 292.6 1096.1 304.9 1089.4 313.2C1082.7 321.6 1071.2 329.1 1060.4 332.3C1049.5 335.5 1035.3 335.5 1024.5 332.3C1013.6 329.1 1002.1 321.6 995.4 313.2C988.7 304.9 984.3 292.6 984.3 282.3C984.3 271.9 988.7 259.7 995.4 251.3C1002.1 243 1013.6 235.4 1024.5 232.2C1035.3 229 1049.5 229 1060.4 232.2C1071.2 235.4 1082.7 243 1089.4 251.3C1096.1 259.7 1100.5 271.9 1100.5 282.3Z" opacity=".52"/><path d="M1000.8 302.8C999.9 304.9 996.9 306.6 993.4 307C989.9 307.4 984.4 306.8 979.7 305.4C975 304 969.2 301.3 965.1 298.6C961 295.9 957 292.1 955.1 289.1C953.2 286.2 952.6 282.8 953.5 280.7C954.5 278.6 957.5 276.9 961 276.5C964.5 276.1 969.9 276.7 974.7 278.1C979.4 279.5 985.2 282.2 989.3 284.9C993.4 287.6 997.3 291.4 999.3 294.3C1001.2 297.3 1001.8 300.7 1000.8 302.8Z" opacity=".31"/><path d="M842.1 183.7C842.4 184 842.2 184.9 841.7 185.9C841.1 186.9 839.8 188.4 838.6 189.6C837.3 190.8 835.5 192.3 834.1 193.4C832.6 194.4 831 195.3 829.9 195.8C828.8 196.2 827.9 196.2 827.6 195.9C827.3 195.5 827.5 194.6 828.1 193.6C828.7 192.6 829.9 191.2 831.2 189.9C832.4 188.7 834.2 187.2 835.7 186.1C837.1 185.1 838.8 184.2 839.9 183.8C840.9 183.3 841.8 183.3 842.1 183.7Z" opacity=".40"/></g>
<use href="#ol"/>
</g>
<text x="1356.8" y="1322.9" font-size="15.7" font-weight="bold" class="n1">Cell number</text>
<path d="M1352.2 1327.5V1527.7M1231.7 1347.4H1407.7M1231.7 1367.2H1407.7M1231.7 1387.1H1407.7M1231.7 1407H1407.7M1231.7 1426.8H1407.7M1231.7 1446.7H1407.7M1231.7 1466.6H1407.7M1231.7 1486.5H1407.7M1231.7 1506.3H1407.7" fill="none" stroke="#333" stroke-width="1.1"/>
<g class="ns" font-size="15.7">
<text x="1346.6" y="1343.1" text-anchor="end">Acinar cells</text>
<text x="1356.6" y="1343.1">106</text>
<text x="1346.6" y="1363" text-anchor="end">Tumor cells</text>
<text x="1356.6" y="1363">3313</text>
<text x="1346.6" y="1382.8" text-anchor="end">Neutrophils</text>
<text x="1356.6" y="1382.8">55</text>
<text x="1346.6" y="1402.7" text-anchor="end">Fibroblasts</text>
<text x="1356.6" y="1402.7">27</text>
<text x="1346.6" y="1422.6" text-anchor="end">T cells</text>
<text x="1356.6" y="1422.6">580</text>
<text x="1346.6" y="1442.4" text-anchor="end">B cells</text>
<text x="1356.6" y="1442.4">504</text>
<text x="1346.6" y="1462.3" text-anchor="end">Endothelial cells</text>
<text x="1356.6" y="1462.3">1</text>
<text x="1346.6" y="1482.2" text-anchor="end">NK cells</text>
<text x="1356.6" y="1482.2">247</text>
<text x="1346.6" y="1502.1" text-anchor="end">Macrophages</text>
<text x="1356.6" y="1502.1">90</text>
<text x="1346.6" y="1521.9" text-anchor="end" font-style="italic">total number</text>
<text x="1356.6" y="1521.9">4923</text>
</g>
<g transform="translate(1002.6 996) scale(0.795)">
<g fill="#d4d4d4" stroke="#d4d4d4" stroke-width="2" stroke-linejoin="round" filter="url(#t1)"><use href="#f_mac" opacity=".50"/><path d="M887.7 127C891.5 132.3 894.5 139.7 895.4 145.5C896.3 151.3 895.4 157.8 893.1 161.8C890.8 165.9 886.3 169 881.7 169.8C877.1 170.6 870.7 169.2 865.5 166.4C860.4 163.6 854.5 158.2 850.8 152.9C847.1 147.5 844 140.2 843.1 134.4C842.2 128.6 843.2 122.1 845.5 118.1C847.7 114 852.3 110.8 856.9 110.1C861.5 109.3 867.9 110.7 873 113.5C878.2 116.3 884 121.7 887.7 127Z" opacity=".44"/><path d="M896.4 88.5C897.1 92.6 897.3 97.6 896.8 101.2C896.3 104.7 895 108 893.5 109.6C892 111.2 889.7 111.6 887.7 110.6C885.7 109.7 883.3 107 881.7 103.8C880 100.7 878.4 95.9 877.7 91.8C877 87.7 876.8 82.6 877.3 79.1C877.8 75.6 879.1 72.2 880.6 70.6C882.2 69.1 884.5 68.7 886.4 69.6C888.4 70.6 890.8 73.3 892.4 76.4C894.1 79.6 895.7 84.4 896.4 88.5Z" opacity=".50"/></g>
<g fill="#8a8a8a" stroke="#8a8a8a" stroke-width="2" stroke-linejoin="round" filter="url(#t2)"><use href="#f_nk" opacity=".70"/></g>
<g fill="#9cdc8f" stroke="#9cdc8f" stroke-width="2" stroke-linejoin="round" filter="url(#t3)"><use href="#f_t" opacity=".42"/><path d="M917.4 58.1C917.4 62.2 916.4 67.1 914.8 70.4C913.2 73.7 910.5 76.7 907.9 78C905.3 79.2 902 79.2 899.4 78C896.8 76.7 894.1 73.7 892.5 70.4C890.9 67.1 889.9 62.2 889.9 58.1C889.9 54 890.9 49.2 892.5 45.8C894.1 42.5 896.8 39.5 899.4 38.3C902 37 905.3 37 907.9 38.3C910.5 39.5 913.2 42.5 914.8 45.8C916.4 49.2 917.4 54 917.4 58.1Z" opacity=".41"/></g>
<g fill="#f5853a" stroke="#f5853a" stroke-width="2" stroke-linejoin="round" filter="url(#t4)"><path d="M916.7 131.6C916.7 133.6 915.9 135.9 914.7 137.5C913.4 139.1 911.3 140.5 909.3 141.1C907.3 141.7 904.7 141.7 902.7 141.1C900.7 140.5 898.6 139.1 897.4 137.5C896.2 135.9 895.4 133.6 895.4 131.6C895.4 129.7 896.2 127.4 897.4 125.8C898.6 124.2 900.7 122.8 902.7 122.2C904.7 121.6 907.3 121.6 909.3 122.2C911.3 122.8 913.4 124.2 914.7 125.8C915.9 127.4 916.7 129.7 916.7 131.6Z" opacity=".60"/></g>
<g fill="#2478b6" stroke="#2478b6" stroke-width="2" stroke-linejoin="round" filter="url(#t1)"><use href="#f_aci" opacity=".62"/></g>
<g fill="#7465b6" stroke="#7465b6" stroke-width="2" stroke-linejoin="round" filter="url(#t2)"><use href="#f_b" opacity=".36"/><path d="M811.2 201.6C811.2 204.4 809.7 207.7 807.5 210C805.3 212.2 801.6 214.3 798 215.1C794.5 216 789.9 216 786.3 215.1C782.8 214.3 779 212.2 776.8 210C774.6 207.7 773.2 204.4 773.2 201.6C773.2 198.8 774.6 195.5 776.8 193.2C779 191 782.8 188.9 786.3 188.1C789.9 187.2 794.5 187.2 798 188.1C801.6 188.9 805.3 191 807.5 193.2C809.7 195.5 811.2 198.8 811.2 201.6Z" opacity=".25"/></g>
<g fill="#d4d2e8" stroke="#d4d2e8" stroke-width="2" stroke-linejoin="round" filter="url(#t3)"><use href="#f_endo" opacity=".40"/></g>
<g fill="#fcc694" stroke="#fcc694" stroke-width="2" stroke-linejoin="round" filter="url(#t4)"><path d="M1003.5 257.4C1003.5 259.1 1002.9 261.2 1001.9 262.7C1000.9 264.1 999.2 265.4 997.6 265.9C996 266.5 993.9 266.5 992.3 265.9C990.8 265.4 989.1 264.1 988.1 262.7C987.1 261.2 986.4 259.1 986.4 257.4C986.4 255.6 987.1 253.5 988.1 252.1C989.1 250.6 990.8 249.3 992.3 248.8C993.9 248.2 996 248.2 997.6 248.8C999.2 249.3 1000.9 250.6 1001.9 252.1C1002.9 253.5 1003.5 255.6 1003.5 257.4Z" opacity=".60"/><path d="M940.7 240.7C940.4 241.2 939.6 241.5 938.6 241.5C937.7 241.5 936.3 241.1 935 240.6C933.8 240.1 932.3 239.2 931.2 238.4C930.2 237.6 929.2 236.6 928.7 235.8C928.2 235 928.1 234.1 928.3 233.6C928.6 233.2 929.4 232.8 930.3 232.9C931.3 232.9 932.7 233.2 933.9 233.7C935.2 234.3 936.7 235.1 937.8 235.9C938.8 236.8 939.8 237.8 940.3 238.6C940.8 239.4 940.9 240.3 940.7 240.7Z" opacity=".45"/></g>
<g fill="#a8cee6" stroke="#a8cee6" stroke-width="2" stroke-linejoin="round" filter="url(#t1)"><use href="#f_tum" opacity=".55"/><path d="M1104.1 277.5C1104.1 289.1 1099.3 303 1092.1 312.4C1084.8 321.8 1072.4 330.3 1060.7 333.9C1048.9 337.5 1033.5 337.5 1021.8 333.9C1010.1 330.3 997.6 321.8 990.4 312.4C983.1 303 978.4 289.1 978.4 277.5C978.4 265.9 983.1 252.1 990.4 242.7C997.6 233.3 1010.1 224.7 1021.8 221.1C1033.5 217.5 1048.9 217.5 1060.7 221.1C1072.4 224.7 1084.8 233.3 1092.1 242.7C1099.3 252.1 1104.1 265.9 1104.1 277.5Z" opacity=".42"/><path d="M986.7 275.1C986.7 280.3 985.2 286.3 983.1 290.5C980.9 294.6 977.1 298.4 973.6 300C970 301.5 965.4 301.5 961.8 300C958.3 298.4 954.5 294.6 952.4 290.5C950.2 286.3 948.7 280.3 948.7 275.1C948.7 270 950.2 263.9 952.4 259.8C954.5 255.7 958.3 251.9 961.8 250.3C965.4 248.7 970 248.7 973.6 250.3C977.1 251.9 980.9 255.7 983.1 259.8C985.2 263.9 986.7 270 986.7 275.1Z" opacity=".29"/><path d="M850.8 178.6C851.1 179 850.6 180.1 849.6 181.4C848.5 182.7 846.5 184.7 844.5 186.5C842.5 188.2 839.7 190.3 837.5 191.9C835.4 193.4 832.9 194.9 831.4 195.6C829.9 196.3 828.7 196.5 828.4 196.1C828.1 195.8 828.6 194.7 829.7 193.4C830.7 192.1 832.8 190.1 834.8 188.3C836.8 186.6 839.5 184.4 841.7 182.9C843.9 181.4 846.3 179.9 847.8 179.2C849.4 178.5 850.5 178.3 850.8 178.6Z" opacity=".45"/><path d="M941.6 204C941.6 207.2 940.9 211.1 939.8 213.7C938.7 216.4 936.8 218.8 935.1 219.8C933.3 220.8 931 220.8 929.2 219.8C927.4 218.8 925.5 216.4 924.4 213.7C923.4 211.1 922.6 207.2 922.6 204C922.6 200.7 923.4 196.9 924.4 194.2C925.5 191.6 927.4 189.2 929.2 188.2C931 187.2 933.3 187.2 935.1 188.2C936.8 189.2 938.7 191.6 939.8 194.2C940.9 196.9 941.6 200.7 941.6 204Z" opacity=".42"/></g>
<use href="#ol"/>
</g>
<text x="1720" y="1322.9" font-size="15.7" font-weight="bold" class="n1">Cell number</text>
<path d="M1715.4 1327.5V1527.7M1594.9 1347.4H1770.9M1594.9 1367.2H1770.9M1594.9 1387.1H1770.9M1594.9 1407H1770.9M1594.9 1426.8H1770.9M1594.9 1446.7H1770.9M1594.9 1466.6H1770.9M1594.9 1486.5H1770.9M1594.9 1506.3H1770.9" fill="none" stroke="#333" stroke-width="1.1"/>
<g class="ns" font-size="15.7">
<text x="1709.8" y="1343.1" text-anchor="end">Acinar cells</text>
<text x="1719.8" y="1343.1">443</text>
<text x="1709.8" y="1363" text-anchor="end">Tumor cells</text>
<text x="1719.8" y="1363">7874</text>
<text x="1709.8" y="1382.8" text-anchor="end">Neutrophils</text>
<text x="1719.8" y="1382.8">174</text>
<text x="1709.8" y="1402.7" text-anchor="end">Fibroblasts</text>
<text x="1719.8" y="1402.7">178</text>
<text x="1709.8" y="1422.6" text-anchor="end">T cells</text>
<text x="1719.8" y="1422.6">664</text>
<text x="1709.8" y="1442.4" text-anchor="end">B cells</text>
<text x="1719.8" y="1442.4">188</text>
<text x="1709.8" y="1462.3" text-anchor="end">Endothelial cells</text>
<text x="1719.8" y="1462.3">45</text>
<text x="1709.8" y="1482.2" text-anchor="end">NK cells</text>
<text x="1719.8" y="1482.2">507</text>
<text x="1709.8" y="1502.1" text-anchor="end">Macrophages</text>
<text x="1719.8" y="1502.1">3096</text>
<text x="1709.8" y="1521.9" text-anchor="end" font-style="italic">total number</text>
<text x="1719.8" y="1521.9">13169</text>
</g>
<text x="871.7" y="983.8" font-size="25.7" font-weight="bold">Control</text>
<text x="1232.4" y="983.8" font-size="25.7" font-weight="bold">T/N</text>
<text x="1595.6" y="983.8" font-size="25.7" font-weight="bold">T/N+aPDL1</text>
<path d="M832.7 1177V1280.5H940.7" fill="none" stroke="#000" stroke-width="1.5"/>
<path d="M832.7 1173l-3.7 7.4l3.7 -2l3.7 2zM944.7 1280.5l-7.4 -3.7l2 3.7l-2 3.7z" fill="#000"/>
<text transform="translate(821.7 1277.5) rotate(-90)" font-size="22">UMAP2</text>
<text x="839.7" y="1302" font-size="22">UMAP1</text>
<text transform="translate(763 546.4) rotate(-90)" font-size="27.4" text-anchor="middle">Classical</text>
<rect x="775" y="477.5" width="8.7" height="137.8" fill="#ecc153"/>
<text transform="translate(762.5 1135.5) rotate(-90)" font-size="26.2" text-anchor="middle">Mesenchymal</text>
<rect x="775" y="1066.6" width="8.7" height="137.4" fill="#26408b"/>
<defs><clipPath id="ctm"><path d="M134.8 1376C141.2 1375.1 149.8 1375.1 157.3 1376.4C164.8 1377.7 173 1380.5 179.8 1383.8C186.5 1387.1 192.1 1390.7 197.8 1396.2C203.4 1401.6 208.6 1409.7 213.5 1416.4C218.4 1423.1 223.4 1429.5 227 1436.6C230.5 1443.7 233 1450.9 234.8 1459.1C236.6 1467.3 237.6 1478.2 237.8 1486.1C237.9 1493.9 237.8 1499.2 236 1506.3C234.2 1513.4 230.7 1522 227 1528.8C223.2 1535.5 218.4 1541.1 213.5 1546.7C208.6 1552.4 203.4 1558.5 197.8 1562.5C192.1 1566.4 185 1568.8 179.8 1570.3C174.5 1571.8 170.8 1572.4 166.3 1571.5C161.8 1570.5 157.3 1568.5 152.8 1564.7C148.3 1561 143.4 1554.6 139.3 1549C135.2 1543.4 132.6 1537.4 128.1 1531C123.6 1524.6 117.2 1516.8 112.4 1510.8C107.5 1504.8 102.6 1500.3 98.9 1495.1C95.1 1489.8 92.4 1484.9 89.9 1479.3C87.3 1473.7 85.2 1467.7 83.6 1461.3C82 1455 80.8 1447.5 80.4 1441.1C80.1 1434.8 79.8 1428.8 81.3 1423.1C82.9 1417.5 85.8 1412.5 89.9 1407.4C93.9 1402.4 100.7 1397.1 105.6 1392.8C110.5 1388.5 114.2 1384.4 119.1 1381.6C124 1378.8 128.5 1376.8 134.8 1376Z"/><path d="M27 1438.9C27.3 1434 28.8 1427.6 31.5 1423.1C34.1 1418.7 38.6 1414.5 42.7 1411.9C46.8 1409.3 51.7 1407.4 56.2 1407.4C60.7 1407.4 66.1 1409.3 69.7 1411.9C73.3 1414.5 76.6 1418.3 77.8 1423.1C78.9 1428 77.5 1435.5 76.4 1441.1C75.3 1446.7 73.6 1452.4 71 1456.9C68.4 1461.3 64.6 1465.5 60.7 1468.1C56.7 1470.7 51.3 1473 47.2 1472.6C43.1 1472.2 39 1469.2 36 1465.8C33 1462.5 30.7 1456.9 29.2 1452.4C27.7 1447.9 26.6 1443.7 27 1438.9Z"/><path d="M58.9 1462.5C60.1 1459.2 64.5 1456.5 67.4 1458C70.3 1459.5 73.7 1466.8 76.4 1471.5C79.1 1476.1 82.1 1481.8 83.6 1486.1C85.1 1490.4 86.4 1495.2 85.4 1497.3C84.4 1499.4 80.5 1499.6 77.5 1498.4C74.5 1497.2 70.3 1493.6 67.4 1490.1C64.5 1486.6 61.6 1482.1 60.2 1477.5C58.8 1472.9 57.7 1465.7 58.9 1462.5Z"/><path d="M74.2 1425.4C75.7 1421.3 81.3 1418.3 83.1 1420.9C85 1423.5 84.8 1434.4 85.4 1441.1C86 1447.9 85.4 1454.2 86.5 1461.3C87.6 1468.5 92.3 1479.7 92.1 1483.8C91.9 1487.9 87.8 1489.1 85.4 1486.1C83 1483.1 79.4 1472.6 77.5 1465.8C75.7 1459.1 74.7 1452.4 74.2 1445.6C73.6 1438.9 72.7 1429.5 74.2 1425.4Z"/></clipPath><path id="tmain" d="M134.8 1376C141.2 1375.1 149.8 1375.1 157.3 1376.4C164.8 1377.7 173 1380.5 179.8 1383.8C186.5 1387.1 192.1 1390.7 197.8 1396.2C203.4 1401.6 208.6 1409.7 213.5 1416.4C218.4 1423.1 223.4 1429.5 227 1436.6C230.5 1443.7 233 1450.9 234.8 1459.1C236.6 1467.3 237.6 1478.2 237.8 1486.1C237.9 1493.9 237.8 1499.2 236 1506.3C234.2 1513.4 230.7 1522 227 1528.8C223.2 1535.5 218.4 1541.1 213.5 1546.7C208.6 1552.4 203.4 1558.5 197.8 1562.5C192.1 1566.4 185 1568.8 179.8 1570.3C174.5 1571.8 170.8 1572.4 166.3 1571.5C161.8 1570.5 157.3 1568.5 152.8 1564.7C148.3 1561 143.4 1554.6 139.3 1549C135.2 1543.4 132.6 1537.4 128.1 1531C123.6 1524.6 117.2 1516.8 112.4 1510.8C107.5 1504.8 102.6 1500.3 98.9 1495.1C95.1 1489.8 92.4 1484.9 89.9 1479.3C87.3 1473.7 85.2 1467.7 83.6 1461.3C82 1455 80.8 1447.5 80.4 1441.1C80.1 1434.8 79.8 1428.8 81.3 1423.1C82.9 1417.5 85.8 1412.5 89.9 1407.4C93.9 1402.4 100.7 1397.1 105.6 1392.8C110.5 1388.5 114.2 1384.4 119.1 1381.6C124 1378.8 128.5 1376.8 134.8 1376Z"/><path id="tlobe" d="M27 1438.9C27.3 1434 28.8 1427.6 31.5 1423.1C34.1 1418.7 38.6 1414.5 42.7 1411.9C46.8 1409.3 51.7 1407.4 56.2 1407.4C60.7 1407.4 66.1 1409.3 69.7 1411.9C73.3 1414.5 76.6 1418.3 77.8 1423.1C78.9 1428 77.5 1435.5 76.4 1441.1C75.3 1446.7 73.6 1452.4 71 1456.9C68.4 1461.3 64.6 1465.5 60.7 1468.1C56.7 1470.7 51.3 1473 47.2 1472.6C43.1 1472.2 39 1469.2 36 1465.8C33 1462.5 30.7 1456.9 29.2 1452.4C27.7 1447.9 26.6 1443.7 27 1438.9Z"/><path id="tstrip" d="M58.9 1462.5C60.1 1459.2 64.5 1456.5 67.4 1458C70.3 1459.5 73.7 1466.8 76.4 1471.5C79.1 1476.1 82.1 1481.8 83.6 1486.1C85.1 1490.4 86.4 1495.2 85.4 1497.3C84.4 1499.4 80.5 1499.6 77.5 1498.4C74.5 1497.2 70.3 1493.6 67.4 1490.1C64.5 1486.6 61.6 1482.1 60.2 1477.5C58.8 1472.9 57.7 1465.7 58.9 1462.5Z"/><path id="tband" d="M58.9 1464.7C58.9 1462.7 64.8 1458.5 67.4 1460.2C70 1461.9 70.9 1470.9 74.6 1474.8C78.4 1478.8 84.7 1479.3 89.9 1483.8C95.1 1488.3 100.4 1495.4 105.6 1501.8C110.9 1508.2 116.5 1515.7 121.3 1522C126.2 1528.4 130.3 1534.4 134.8 1540C139.3 1545.6 143.1 1551.2 148.3 1555.7C153.6 1560.2 161 1564.7 166.3 1567C171.5 1569.2 175.3 1570 179.8 1569.2C184.3 1568.5 193.3 1564.7 193.3 1562.5C193.3 1560.2 185 1559.1 179.8 1555.7C174.5 1552.4 167.8 1547.5 161.8 1542.2C155.8 1537 149.8 1530.6 143.8 1524.3C137.8 1517.9 131.8 1510.8 125.8 1504C119.9 1497.3 113.1 1490.2 107.9 1483.8C102.6 1477.5 98.1 1471.8 94.4 1465.8C90.6 1459.9 88.4 1449.4 85.4 1447.9C82.4 1446.4 79.4 1452.7 76.4 1456.9C73.4 1461 70.3 1471.3 67.4 1472.6C64.5 1473.9 58.9 1466.8 58.9 1464.7Z"/><path id="trim" d="M116.9 1382.7C116.5 1380.6 128.1 1377 134.8 1376C141.6 1374.9 149.8 1375.1 157.3 1376.4C164.8 1377.7 173 1380.5 179.8 1383.8C186.5 1387.1 192.1 1390.7 197.8 1396.2C203.4 1401.6 208.6 1409.7 213.5 1416.4C218.4 1423.1 223.4 1429.5 227 1436.6C230.5 1443.7 233.1 1451.2 234.8 1459.1C236.6 1467 238.6 1481.2 237.3 1483.8C236 1486.4 230.6 1480.8 227 1474.8C223.4 1468.8 220.2 1456.5 215.7 1447.9C211.2 1439.3 205.6 1430.3 200 1423.1C194.4 1416 188.8 1410.2 182 1405.2C175.3 1400.1 167 1395.6 159.6 1392.8C152.1 1390 144.2 1390 137.1 1388.3C130 1386.6 117.2 1384.8 116.9 1382.7Z"/><path id="tgap" d="M74.2 1425.4C75.7 1421.3 81.3 1418.3 83.1 1420.9C85 1423.5 84.8 1434.4 85.4 1441.1C86 1447.9 85.4 1454.2 86.5 1461.3C87.6 1468.5 92.3 1479.7 92.1 1483.8C91.9 1487.9 87.8 1489.1 85.4 1486.1C83 1483.1 79.4 1472.6 77.5 1465.8C75.7 1459.1 74.7 1452.4 74.2 1445.6C73.6 1438.9 72.7 1429.5 74.2 1425.4Z"/><linearGradient id="gV" x1="0" y1="1" x2="0" y2="0"><stop offset="0%" stop-color="#440154"/><stop offset="10%" stop-color="#482475"/><stop offset="20%" stop-color="#414487"/><stop offset="30%" stop-color="#355f8d"/><stop offset="40%" stop-color="#2a788e"/><stop offset="50%" stop-color="#21918c"/><stop offset="60%" stop-color="#22a884"/><stop offset="70%" stop-color="#44bf70"/><stop offset="80%" stop-color="#7ad151"/><stop offset="90%" stop-color="#bddf26"/><stop offset="100%" stop-color="#fde725"/></linearGradient></defs>
<text x="7" y="1093" font-size="38">c</text>
<text x="49.2" y="1113.4" font-size="32.5">Tumor cells</text>
<g transform="translate(-1.5 -230)">
<g fill="#d9d9d9" stroke="#d9d9d9" stroke-width="2" stroke-linejoin="round" filter="url(#s1)"><use href="#tmain" opacity=".60"/><use href="#tlobe" opacity=".62"/><use href="#tgap" opacity=".45"/></g>
<g fill="#6a6a6a" stroke="#6a6a6a" stroke-width="2" stroke-linejoin="round" filter="url(#s2)"><use href="#trim" opacity=".45"/></g>
<g fill="#31a354" stroke="#31a354" stroke-width="2" stroke-linejoin="round" filter="url(#s3)" clip-path="url(#ctm)"><path d="M58.9 1464.7C60 1456.9 67.1 1446.2 74.2 1438.9C81.2 1431.6 91 1426.1 101.1 1420.9C111.2 1415.7 124 1409.7 134.8 1407.4C145.7 1405.2 157.3 1404.8 166.3 1407.4C175.3 1410 181.6 1414.9 188.8 1423.1C195.9 1431.4 203.4 1445.2 209 1456.9C214.6 1468.5 221.7 1481.6 222.5 1492.8C223.2 1504 218.7 1514.5 213.5 1524.3C208.2 1534 197.4 1544.1 191 1551.2C184.6 1558.4 180.9 1565.1 175.3 1567C169.7 1568.8 164 1567 157.3 1562.5C150.6 1558 142.3 1548.2 134.8 1540C127.3 1531.8 119.9 1521.3 112.4 1513C104.9 1504.8 97.4 1495.1 89.9 1490.6C82.4 1486.1 72.6 1490.4 67.4 1486.1C62.2 1481.8 57.8 1472.6 58.9 1464.7Z" opacity=".40"/><use href="#tband" opacity=".20"/><use href="#tstrip" opacity=".30"/></g>
<g fill="#e6550d" stroke="#e6550d" stroke-width="2" stroke-linejoin="round" filter="url(#s4)" clip-path="url(#ctm)"><path d="M58.9 1464.7C60 1456.9 67.1 1446.2 74.2 1438.9C81.2 1431.6 91 1426.1 101.1 1420.9C111.2 1415.7 124 1409.7 134.8 1407.4C145.7 1405.2 157.3 1404.8 166.3 1407.4C175.3 1410 181.6 1414.9 188.8 1423.1C195.9 1431.4 203.4 1445.2 209 1456.9C214.6 1468.5 221.7 1481.6 222.5 1492.8C223.2 1504 218.7 1514.5 213.5 1524.3C208.2 1534 197.4 1544.1 191 1551.2C184.6 1558.4 180.9 1565.1 175.3 1567C169.7 1568.8 164 1567 157.3 1562.5C150.6 1558 142.3 1548.2 134.8 1540C127.3 1531.8 119.9 1521.3 112.4 1513C104.9 1504.8 97.4 1495.1 89.9 1490.6C82.4 1486.1 72.6 1490.4 67.4 1486.1C62.2 1481.8 57.8 1472.6 58.9 1464.7Z" opacity=".39"/><use href="#tstrip" opacity=".20"/></g>
<g fill="#3a86c2" stroke="#3a86c2" stroke-width="2" stroke-linejoin="round" filter="url(#s2)" clip-path="url(#ctm)"><path d="M58.9 1464.7C60 1456.9 67.1 1446.2 74.2 1438.9C81.2 1431.6 91 1426.1 101.1 1420.9C111.2 1415.7 124 1409.7 134.8 1407.4C145.7 1405.2 157.3 1404.8 166.3 1407.4C175.3 1410 181.6 1414.9 188.8 1423.1C195.9 1431.4 203.4 1445.2 209 1456.9C214.6 1468.5 221.7 1481.6 222.5 1492.8C223.2 1504 218.7 1514.5 213.5 1524.3C208.2 1534 197.4 1544.1 191 1551.2C184.6 1558.4 180.9 1565.1 175.3 1567C169.7 1568.8 164 1567 157.3 1562.5C150.6 1558 142.3 1548.2 134.8 1540C127.3 1531.8 119.9 1521.3 112.4 1513C104.9 1504.8 97.4 1495.1 89.9 1490.6C82.4 1486.1 72.6 1490.4 67.4 1486.1C62.2 1481.8 57.8 1472.6 58.9 1464.7Z" opacity=".35"/></g>
</g>
<rect x="253" y="1144.4" width="10" height="56.2" fill="#ecc153"/>
<rect x="253" y="1202.8" width="10" height="56.2" fill="#26408b"/>
<circle cx="271.9" cy="1153.8" r="4.2" fill="#3a86c2"/>
<text x="279.6" y="1158.6" font-size="13.5" class="n1">control</text>
<circle cx="271.9" cy="1171.8" r="4.2" fill="#e2581d"/>
<text x="279.6" y="1176.6" font-size="13.5" class="n1">T/N</text>
<circle cx="271.9" cy="1190.2" r="4.2" fill="#3aa356"/>
<text x="279.6" y="1195" font-size="13.5" class="n1">T/N+aPDL1</text>
<circle cx="271.9" cy="1209.1" r="4.2" fill="#7b6db8"/>
<text x="279.6" y="1213.9" font-size="13.5" class="n1">control</text>
<circle cx="271.9" cy="1227.5" r="4.2" fill="#636363"/>
<text x="279.6" y="1232.3" font-size="13.5" class="n1">T/N</text>
<circle cx="271.9" cy="1246" r="4.2" fill="#d9d9d9"/>
<text x="279.6" y="1250.8" font-size="13.5" class="n1">T/N+aPDL1</text>
<g transform="translate(349.6 -235.2)">
<g fill="#1c4e90" stroke="#1c4e90" stroke-width="2" stroke-linejoin="round" filter="url(#s1)"><use href="#tmain" opacity=".64"/><use href="#tlobe" opacity=".66"/><use href="#tgap" opacity=".45"/></g>
<g fill="#ecc14f" stroke="#ecc14f" stroke-width="2" stroke-linejoin="round" filter="url(#s3)" clip-path="url(#ctm)"><use href="#tband" opacity=".40"/><use href="#tstrip" opacity=".70"/><path d="M192.7 1452C197.9 1463.2 201.4 1477.1 201.8 1488.7C202.3 1500.3 199.8 1512.7 195.4 1521.6C191 1530.5 183.3 1538.2 175.2 1542C167 1545.8 156.2 1546.7 146.5 1544.4C136.9 1542.1 125.8 1536 117.2 1528.2C108.6 1520.4 100.2 1508.8 94.9 1497.6C89.7 1486.4 86.3 1472.6 85.8 1461C85.4 1449.4 87.8 1436.9 92.2 1428C96.7 1419.1 104.3 1411.4 112.5 1407.6C120.6 1403.8 131.5 1402.9 141.1 1405.2C150.8 1407.5 161.9 1413.7 170.5 1421.5C179.1 1429.3 187.5 1440.8 192.7 1452Z" opacity=".44"/><path d="M201.2 1545.3C201.9 1548.1 201.2 1551.5 199.3 1554.6C197.4 1557.6 193.8 1561 189.8 1563.5C185.7 1566 180.2 1568.4 175.1 1569.8C170.1 1571.1 164.1 1571.8 159.4 1571.7C154.6 1571.5 149.8 1570.3 146.7 1568.7C143.5 1567 141.1 1564.3 140.4 1561.6C139.7 1558.9 140.4 1555.4 142.3 1552.4C144.2 1549.4 147.8 1546 151.8 1543.5C155.8 1540.9 161.4 1538.6 166.4 1537.2C171.5 1535.8 177.5 1535.1 182.2 1535.3C187 1535.5 191.8 1536.6 194.9 1538.3C198.1 1540 200.4 1542.6 201.2 1545.3Z" opacity=".40"/></g>
</g>
<circle cx="581.1" cy="1153.8" r="5.2" fill="#ecc14f"/>
<text x="591.9" y="1159.6" font-size="16.6" class="n1">classical</text>
<circle cx="581.1" cy="1177.2" r="5.2" fill="#1c4e90"/>
<text x="591.9" y="1183" font-size="16.6" class="n1">mesenchymal</text>
<g fill="#45085b" stroke="#45085b" stroke-width="2" stroke-linejoin="round" filter="url(#s1)"><use href="#tmain" opacity=".64"/><use href="#tlobe" opacity=".64"/><use href="#tgap" opacity=".48"/><use href="#tstrip" opacity=".50"/></g>
<g fill="#375a8c" stroke="#375a8c" stroke-width="2" stroke-linejoin="round" filter="url(#s3)" clip-path="url(#ctm)"><use href="#tband" opacity=".40"/><use href="#tstrip" opacity=".50"/><path d="M182 1469.2C185.7 1475.7 188.5 1483.9 189.3 1490.9C190.1 1498 189.2 1505.7 186.9 1511.3C184.5 1517 180.1 1522.2 175.3 1525C170.4 1527.8 163.8 1529 157.7 1528.2C151.6 1527.4 144.4 1524.3 138.8 1520.1C133.1 1515.9 127.4 1509.4 123.6 1502.9C119.9 1496.4 117.1 1488.2 116.3 1481.2C115.5 1474.2 116.4 1466.5 118.8 1460.8C121.1 1455.1 125.5 1450 130.3 1447.1C135.2 1444.3 141.9 1443.1 147.9 1443.9C154 1444.7 161.2 1447.8 166.9 1452C172.5 1456.2 178.3 1462.7 182 1469.2Z" opacity=".36"/></g>
<g fill="#29ad80" stroke="#29ad80" stroke-width="2" stroke-linejoin="round" filter="url(#s4)"><path d="M72.1 1476.5C72.5 1477.7 72.8 1479.2 72.8 1480.4C72.8 1481.6 72.5 1482.9 72.1 1483.8C71.6 1484.6 70.9 1485.3 70.1 1485.6C69.3 1485.9 68.3 1485.8 67.4 1485.4C66.5 1485.1 65.5 1484.3 64.7 1483.4C64 1482.4 63.2 1481.1 62.8 1479.9C62.3 1478.7 62 1477.2 62 1476C62 1474.8 62.3 1473.5 62.8 1472.6C63.2 1471.8 64 1471.1 64.7 1470.8C65.5 1470.5 66.5 1470.6 67.4 1471C68.3 1471.3 69.3 1472.1 70.1 1473C70.9 1474 71.6 1475.3 72.1 1476.5Z" opacity=".56"/></g>
<text x="133" y="1359.2" font-size="14.6" text-anchor="middle" class="n1">Cdh1</text>
<rect x="252.1" y="1364.7" width="7.7" height="215.7" fill="url(#gV)" stroke="#000" stroke-width="0.8"/>
<text x="266.3" y="1400.4" font-size="14.6" class="n1">2.5</text>
<text x="266.3" y="1437.5" font-size="14.6" class="n1">2.0</text>
<text x="266.3" y="1474.6" font-size="14.6" class="n1">1.5</text>
<text x="266.3" y="1511.7" font-size="14.6" class="n1">1.0</text>
<text x="266.3" y="1548.8" font-size="14.6" class="n1">0.5</text>
<text x="266.3" y="1585.8" font-size="14.6" class="n1">0.0</text>
<path d="M259.8 1395.2h3.2M259.8 1432.3h3.2M259.8 1469.4h3.2M259.8 1506.5h3.2M259.8 1543.6h3.2M259.8 1580.6h3.2" stroke="#000" stroke-width="1" fill="none"/>
<g transform="translate(348.3 0)">
<g fill="#450c5e" stroke="#450c5e" stroke-width="2" stroke-linejoin="round" filter="url(#s1)"><use href="#tmain" opacity=".64"/><use href="#tlobe" opacity=".64"/><use href="#tgap" opacity=".48"/><use href="#tstrip" opacity=".50"/></g>
<g fill="#375a8c" stroke="#375a8c" stroke-width="2" stroke-linejoin="round" filter="url(#s2)"><use href="#tmain" opacity=".42"/><use href="#tlobe" opacity=".36"/></g>
<g fill="#26848d" stroke="#26848d" stroke-width="2" stroke-linejoin="round" filter="url(#s3)" clip-path="url(#ctm)"><use href="#tband" opacity=".20"/><path d="M188.6 1453.9C193.4 1464.1 196.5 1476.7 196.9 1487.3C197.2 1497.8 195 1509.2 190.9 1517.3C186.8 1525.4 179.8 1532.4 172.3 1535.9C164.8 1539.4 154.9 1540.3 146.1 1538.2C137.2 1536.1 127.1 1530.6 119.3 1523.5C111.4 1516.4 103.8 1505.9 99 1495.7C94.3 1485.5 91.1 1472.9 90.8 1462.4C90.4 1451.8 92.7 1440.5 96.7 1432.4C100.8 1424.3 107.9 1417.2 115.3 1413.7C122.8 1410.2 132.7 1409.4 141.5 1411.5C150.4 1413.5 160.5 1419.1 168.4 1426.2C176.2 1433.3 183.9 1443.8 188.6 1453.9Z" opacity=".40"/><path d="M87.5 1435.9C87.1 1438.2 86.2 1440.6 85.1 1442.4C84.1 1444.2 82.5 1445.8 81.1 1446.7C79.6 1447.5 77.8 1447.9 76.3 1447.7C74.8 1447.4 73.3 1446.4 72.2 1445.1C71.1 1443.8 70.2 1441.7 69.8 1439.7C69.4 1437.6 69.4 1435 69.8 1432.8C70.2 1430.6 71.1 1428.2 72.2 1426.4C73.2 1424.6 74.8 1423 76.3 1422.1C77.7 1421.2 79.5 1420.8 81 1421.1C82.5 1421.4 84 1422.3 85.1 1423.7C86.2 1425 87.1 1427 87.5 1429.1C87.9 1431.1 87.9 1433.7 87.5 1435.9Z" opacity=".40"/></g>
<g fill="#36b678" stroke="#36b678" stroke-width="2" stroke-linejoin="round" filter="url(#s4)" clip-path="url(#ctm)"><use href="#tstrip" opacity=".60"/><path d="M104.7 1501.5C104.1 1502.2 102.9 1502.6 101.5 1502.5C100.1 1502.4 98.2 1501.8 96.4 1500.9C94.6 1500 92.5 1498.6 90.8 1497.1C89 1495.7 87.3 1493.8 86.1 1492.2C84.9 1490.6 84 1488.8 83.6 1487.5C83.3 1486.1 83.5 1484.9 84.1 1484.1C84.7 1483.4 85.9 1483.1 87.2 1483.2C88.6 1483.3 90.6 1483.9 92.3 1484.7C94.1 1485.6 96.3 1487.1 98 1488.5C99.7 1489.9 101.5 1491.8 102.7 1493.4C103.9 1495 104.8 1496.8 105.1 1498.2C105.5 1499.5 105.3 1500.8 104.7 1501.5Z" opacity=".42"/></g>
</g>
<text x="480.9" y="1359.2" font-size="14.6" text-anchor="middle" class="n1">Krt18</text>
<rect x="600" y="1364.7" width="7.7" height="215.7" fill="url(#gV)" stroke="#000" stroke-width="0.8"/>
<text x="614.2" y="1409.4" font-size="14.6" class="n1">4</text>
<text x="614.2" y="1453.6" font-size="14.6" class="n1">3</text>
<text x="614.2" y="1497.9" font-size="14.6" class="n1">2</text>
<text x="614.2" y="1542" font-size="14.6" class="n1">1</text>
<text x="614.2" y="1586" font-size="14.6" class="n1">0</text>
<path d="M607.7 1404.2h3.2M607.7 1448.4h3.2M607.7 1492.7h3.2M607.7 1536.8h3.2M607.7 1580.8h3.2" stroke="#000" stroke-width="1" fill="none"/>
<g transform="translate(0 248.4)">
<g fill="#450c5e" stroke="#450c5e" stroke-width="2" stroke-linejoin="round" filter="url(#s1)"><use href="#tmain" opacity=".64"/><use href="#tlobe" opacity=".64"/><use href="#tgap" opacity=".48"/><use href="#tstrip" opacity=".50"/></g>
<g fill="#355f8d" stroke="#355f8d" stroke-width="2" stroke-linejoin="round" filter="url(#s2)"><use href="#tmain" opacity=".42"/><use href="#tlobe" opacity=".45"/></g>
<g fill="#238c8c" stroke="#238c8c" stroke-width="2" stroke-linejoin="round" filter="url(#s3)" clip-path="url(#ctm)"><use href="#tlobe" opacity=".50"/><path d="M183.4 1416.7C186.6 1425.5 187.8 1436.4 186.5 1445.5C185.2 1454.6 181.2 1464.3 175.8 1471.3C170.3 1478.2 162.1 1484.2 154 1487.2C146 1490.1 135.8 1490.8 127.2 1488.9C118.6 1487.1 109.2 1482.2 102.4 1476.1C95.6 1469.9 89.5 1460.9 86.3 1452.1C83.1 1443.3 81.9 1432.4 83.2 1423.3C84.4 1414.2 88.5 1404.5 93.9 1397.5C99.3 1390.6 107.5 1384.5 115.6 1381.6C123.7 1378.6 133.9 1378 142.5 1379.8C151.1 1381.7 160.5 1386.5 167.3 1392.7C174.1 1398.8 180.2 1407.9 183.4 1416.7Z" opacity=".44"/></g>
<g fill="#44bf70" stroke="#44bf70" stroke-width="2" stroke-linejoin="round" filter="url(#s4)" clip-path="url(#ctm)"><path d="M67.4 1436.6C67.4 1439.6 66.6 1443 65.3 1445.6C64 1448.2 61.8 1450.7 59.6 1452.2C57.3 1453.7 54.3 1454.6 51.7 1454.6C49.1 1454.6 46.1 1453.7 43.8 1452.2C41.5 1450.7 39.4 1448.2 38.1 1445.6C36.8 1443 36 1439.6 36 1436.6C36 1433.6 36.8 1430.2 38.1 1427.6C39.4 1425 41.5 1422.6 43.8 1421.1C46.1 1419.6 49.1 1418.7 51.7 1418.7C54.3 1418.7 57.3 1419.6 59.6 1421.1C61.8 1422.6 64 1425 65.3 1427.6C66.6 1430.2 67.4 1433.6 67.4 1436.6Z" opacity=".40"/><path d="M168.5 1425.4C168.5 1431 166.8 1437.4 164 1442.2C161.2 1447.1 156.6 1451.8 151.7 1454.6C146.8 1457.4 140.4 1459.1 134.8 1459.1C129.2 1459.1 122.8 1457.4 118 1454.6C113.1 1451.8 108.4 1447.1 105.6 1442.2C102.8 1437.4 101.1 1431 101.1 1425.4C101.1 1419.8 102.8 1413.4 105.6 1408.5C108.4 1403.7 113.1 1399 118 1396.2C122.8 1393.4 129.2 1391.7 134.8 1391.7C140.4 1391.7 146.8 1393.4 151.7 1396.2C156.6 1399 161.2 1403.7 164 1408.5C166.8 1413.4 168.5 1419.8 168.5 1425.4Z" opacity=".33"/></g>
<g fill="#450c5e" stroke="#450c5e" stroke-width="2" stroke-linejoin="round" filter="url(#s1)" clip-path="url(#ctm)"><use href="#tstrip" opacity=".60"/><path d="M196.2 1519.8C198.5 1523.7 199.1 1529.2 197.8 1534.5C196.5 1539.7 192.9 1546 188.4 1551.2C183.9 1556.4 177.3 1561.9 170.8 1565.6C164.3 1569.3 156.3 1572.4 149.5 1573.7C142.8 1575 135.5 1574.9 130.3 1573.4C125.1 1571.9 120.6 1568.6 118.4 1564.7C116.1 1560.8 115.6 1555.3 116.9 1550C118.2 1544.8 121.7 1538.4 126.2 1533.3C130.7 1528.1 137.3 1522.6 143.8 1518.9C150.3 1515.1 158.3 1512.1 165.1 1510.8C171.8 1509.5 179.1 1509.6 184.3 1511.1C189.5 1512.6 194 1515.9 196.2 1519.8Z" opacity=".45"/><path d="M233.7 1486.1C233.7 1494.7 232.7 1504.4 231 1511.9C229.3 1519.4 226.5 1526.5 223.6 1530.8C220.7 1535.1 216.9 1537.8 213.5 1537.8C210.1 1537.8 206.3 1535.1 203.4 1530.8C200.5 1526.5 197.7 1519.4 196 1511.9C194.3 1504.4 193.3 1494.7 193.3 1486.1C193.3 1477.5 194.3 1467.7 196 1460.2C197.7 1452.8 200.5 1445.6 203.4 1441.3C206.3 1437 210.1 1434.4 213.5 1434.4C216.9 1434.4 220.7 1437 223.6 1441.3C226.5 1445.6 229.3 1452.8 231 1460.2C232.7 1467.7 233.7 1477.5 233.7 1486.1Z" opacity=".45"/></g>
</g>
<text x="131.7" y="1607.3" font-size="14.6" text-anchor="middle" class="n1">Cdh2</text>
<rect x="250.8" y="1614" width="7.7" height="214.8" fill="url(#gV)" stroke="#000" stroke-width="0.8"/>
<text x="265" y="1638.5" font-size="14.6" class="n1">2.0</text>
<text x="265" y="1687.6" font-size="14.6" class="n1">1.5</text>
<text x="265" y="1736.7" font-size="14.6" class="n1">1.0</text>
<text x="265" y="1785.8" font-size="14.6" class="n1">0.5</text>
<text x="265" y="1834.9" font-size="14.6" class="n1">0.0</text>
<path d="M258.5 1633.3h3.2M258.5 1682.4h3.2M258.5 1731.5h3.2M258.5 1780.6h3.2M258.5 1829.7h3.2" stroke="#000" stroke-width="1" fill="none"/>
<g transform="translate(348.8 246.3)">
<g fill="#36b678" stroke="#36b678" stroke-width="2" stroke-linejoin="round" filter="url(#s1)"><use href="#tmain" opacity=".64"/><use href="#tlobe" opacity=".64"/><use href="#tgap" opacity=".48"/><use href="#tstrip" opacity=".50"/></g>
<g fill="#21918c" stroke="#21918c" stroke-width="2" stroke-linejoin="round" filter="url(#s2)" clip-path="url(#ctm)"><use href="#tmain" opacity=".42"/><path d="M238.2 1486.1C238.2 1495.8 237.3 1506.8 235.8 1515.3C234.3 1523.7 231.8 1531.8 229.2 1536.7C226.6 1541.5 223.2 1544.5 220.2 1544.5C217.2 1544.5 213.8 1541.5 211.2 1536.7C208.6 1531.8 206.2 1523.7 204.7 1515.3C203.2 1506.8 202.2 1495.8 202.2 1486.1C202.2 1476.3 203.2 1465.3 204.7 1456.9C206.2 1448.4 208.6 1440.3 211.2 1435.5C213.8 1430.6 217.2 1427.6 220.2 1427.6C223.2 1427.6 226.6 1430.6 229.2 1435.5C231.8 1440.3 234.3 1448.4 235.8 1456.9C237.3 1465.3 238.2 1476.3 238.2 1486.1Z" opacity=".30"/><path d="M193.7 1548C194.5 1550.1 194 1553 192.4 1555.7C190.7 1558.3 187.6 1561.5 184 1564C180.4 1566.5 175.5 1569 170.9 1570.6C166.3 1572.3 160.9 1573.6 156.6 1573.9C152.2 1574.3 147.8 1574 144.8 1573C141.9 1572 139.6 1570.1 138.8 1568C138.1 1565.9 138.6 1563 140.2 1560.3C141.8 1557.6 145 1554.5 148.6 1552C152.2 1549.5 157.1 1547 161.7 1545.3C166.3 1543.6 171.7 1542.4 176 1542C180.4 1541.6 184.8 1542 187.8 1543C190.7 1544 193 1545.9 193.7 1548Z" opacity=".30"/></g>
<g fill="#9bd83c" stroke="#9bd83c" stroke-width="2" stroke-linejoin="round" filter="url(#s3)" clip-path="url(#ctm)"><use href="#tlobe" opacity=".60"/><path d="M190 1433.9C193.8 1444.5 195.6 1457.4 194.7 1468.1C193.8 1478.7 190 1490.1 184.6 1498C179.2 1505.9 170.8 1512.6 162.4 1515.7C153.9 1518.8 143.2 1519.1 134 1516.4C124.7 1513.8 114.5 1507.6 107 1500C99.4 1492.4 92.5 1481.4 88.6 1470.8C84.8 1460.2 83 1447.3 83.9 1436.7C84.8 1426 88.6 1414.7 94 1406.7C99.4 1398.8 107.8 1392.1 116.3 1389C124.7 1385.9 135.5 1385.7 144.7 1388.3C153.9 1390.9 164.1 1397.1 171.7 1404.7C179.2 1412.3 186.2 1423.4 190 1433.9Z" opacity=".42"/></g>
<g fill="#32668d" stroke="#32668d" stroke-width="2" stroke-linejoin="round" filter="url(#s4)" clip-path="url(#ctm)"><path d="M234.8 1497.3C234.8 1504.8 234.3 1513.3 233.5 1519.8C232.6 1526.3 231.2 1532.5 229.8 1536.2C228.3 1540 226.4 1542.2 224.7 1542.2C223 1542.2 221.1 1540 219.7 1536.2C218.2 1532.5 216.8 1526.3 216 1519.8C215.1 1513.3 214.6 1504.8 214.6 1497.3C214.6 1489.8 215.1 1481.3 216 1474.8C216.8 1468.3 218.2 1462.1 219.7 1458.4C221.1 1454.6 223 1452.4 224.7 1452.4C226.4 1452.4 228.3 1454.6 229.8 1458.4C231.2 1462.1 232.6 1468.3 233.5 1474.8C234.3 1481.3 234.8 1489.8 234.8 1497.3Z" opacity=".40"/><path d="M190.6 1560.4C190.8 1561.5 189.8 1563 188 1564.3C186.1 1565.6 182.9 1567.1 179.5 1568.3C176.1 1569.5 171.5 1570.6 167.5 1571.4C163.4 1572.1 158.7 1572.5 155.1 1572.6C151.5 1572.7 148 1572.4 145.8 1571.8C143.6 1571.2 142.1 1570.1 141.9 1569C141.8 1567.9 142.8 1566.4 144.6 1565.1C146.5 1563.8 149.7 1562.3 153.1 1561.1C156.5 1559.9 161.1 1558.8 165.1 1558.1C169.2 1557.4 173.8 1556.9 177.5 1556.8C181.1 1556.8 184.6 1557.1 186.8 1557.7C189 1558.3 190.4 1559.3 190.6 1560.4Z" opacity=".42"/><path d="M105.6 1416.4C105.6 1417.9 105 1419.6 104.1 1420.9C103.2 1422.2 101.6 1423.4 100 1424.2C98.4 1424.9 96.3 1425.4 94.4 1425.4C92.5 1425.4 90.4 1424.9 88.8 1424.2C87.1 1423.4 85.6 1422.2 84.7 1420.9C83.7 1419.6 83.1 1417.9 83.1 1416.4C83.1 1414.9 83.7 1413.2 84.7 1411.9C85.6 1410.6 87.1 1409.4 88.8 1408.6C90.4 1407.9 92.5 1407.4 94.4 1407.4C96.3 1407.4 98.4 1407.9 100 1408.6C101.6 1409.4 103.2 1410.6 104.1 1411.9C105 1413.2 105.6 1414.9 105.6 1416.4Z" opacity=".50"/></g>
<g fill="#472a79" stroke="#472a79" stroke-width="2" stroke-linejoin="round" filter="url(#s1)" clip-path="url(#ctm)"><use href="#tstrip" opacity=".62"/><path d="M179.7 1565.8C179.8 1566.5 179.2 1567.3 178.1 1568C177 1568.6 175.2 1569.4 173.3 1569.9C171.4 1570.4 168.9 1570.8 166.6 1571C164.4 1571.2 161.8 1571.2 159.9 1571C157.9 1570.9 156 1570.5 154.8 1570C153.7 1569.5 152.9 1568.8 152.9 1568.1C152.8 1567.5 153.4 1566.6 154.5 1566C155.6 1565.3 157.4 1564.6 159.3 1564.1C161.2 1563.6 163.7 1563.1 165.9 1562.9C168.2 1562.7 170.7 1562.7 172.7 1562.9C174.7 1563.1 176.6 1563.5 177.7 1563.9C178.9 1564.4 179.7 1565.1 179.7 1565.8Z" opacity=".45"/></g>
</g>
<text x="481.8" y="1605" font-size="14.6" text-anchor="middle" class="n1">Vim</text>
<rect x="600.9" y="1610.8" width="7.7" height="215.2" fill="url(#gV)" stroke="#000" stroke-width="0.8"/>
<text x="615.1" y="1644.8" font-size="14.6" class="n1">5</text>
<text x="615.1" y="1682.1" font-size="14.6" class="n1">4</text>
<text x="615.1" y="1719.4" font-size="14.6" class="n1">3</text>
<text x="615.1" y="1757.1" font-size="14.6" class="n1">2</text>
<text x="615.1" y="1794.4" font-size="14.6" class="n1">1</text>
<text x="615.1" y="1831.7" font-size="14.6" class="n1">0</text>
<path d="M608.6 1639.6h3.2M608.6 1676.9h3.2M608.6 1714.2h3.2M608.6 1751.9h3.2M608.6 1789.2h3.2M608.6 1826.5h3.2" stroke="#000" stroke-width="1" fill="none"/>
<rect x="275.1" y="1876.9" width="84.2" height="35.6" fill="#fde725" stroke="#8a8a8a" stroke-width="1"/>
<rect x="359.4" y="1876.9" width="84.2" height="35.6" fill="#fde725" stroke="#8a8a8a" stroke-width="1"/>
<rect x="443.6" y="1876.9" width="84.2" height="35.6" fill="#462e7a" stroke="#8a8a8a" stroke-width="1"/>
<rect x="527.9" y="1876.9" width="84.2" height="35.6" fill="#440154" stroke="#8a8a8a" stroke-width="1"/>
<rect x="275.1" y="1912.5" width="84.2" height="35.6" fill="#d0e126" stroke="#8a8a8a" stroke-width="1"/>
<rect x="359.4" y="1912.5" width="84.2" height="35.6" fill="#b0dc2f" stroke="#8a8a8a" stroke-width="1"/>
<rect x="443.6" y="1912.5" width="84.2" height="35.6" fill="#440154" stroke="#8a8a8a" stroke-width="1"/>
<rect x="527.9" y="1912.5" width="84.2" height="35.6" fill="#471a6b" stroke="#8a8a8a" stroke-width="1"/>
<rect x="275.1" y="1948" width="84.2" height="35.6" fill="#d0e126" stroke="#8a8a8a" stroke-width="1"/>
<rect x="359.4" y="1948" width="84.2" height="35.6" fill="#cae126" stroke="#8a8a8a" stroke-width="1"/>
<rect x="443.6" y="1948" width="84.2" height="35.6" fill="#44347e" stroke="#8a8a8a" stroke-width="1"/>
<rect x="527.9" y="1948" width="84.2" height="35.6" fill="#461264" stroke="#8a8a8a" stroke-width="1"/>
<rect x="275.1" y="1983.6" width="84.2" height="35.6" fill="#450c5e" stroke="#8a8a8a" stroke-width="1"/>
<rect x="359.4" y="1983.6" width="84.2" height="35.6" fill="#461668" stroke="#8a8a8a" stroke-width="1"/>
<rect x="443.6" y="1983.6" width="84.2" height="35.6" fill="#2c738e" stroke="#8a8a8a" stroke-width="1"/>
<rect x="527.9" y="1983.6" width="84.2" height="35.6" fill="#fde725" stroke="#8a8a8a" stroke-width="1"/>
<rect x="275.1" y="2019.2" width="84.2" height="35.6" fill="#440154" stroke="#8a8a8a" stroke-width="1"/>
<rect x="359.4" y="2019.2" width="84.2" height="35.6" fill="#414487" stroke="#8a8a8a" stroke-width="1"/>
<rect x="443.6" y="2019.2" width="84.2" height="35.6" fill="#33b47a" stroke="#8a8a8a" stroke-width="1"/>
<rect x="527.9" y="2019.2" width="84.2" height="35.6" fill="#d0e126" stroke="#8a8a8a" stroke-width="1"/>
<rect x="275.1" y="2054.8" width="84.2" height="35.6" fill="#450c5e" stroke="#8a8a8a" stroke-width="1"/>
<rect x="359.4" y="2054.8" width="84.2" height="35.6" fill="#440457" stroke="#8a8a8a" stroke-width="1"/>
<rect x="443.6" y="2054.8" width="84.2" height="35.6" fill="#fde725" stroke="#8a8a8a" stroke-width="1"/>
<rect x="527.9" y="2054.8" width="84.2" height="35.6" fill="#36b678" stroke="#8a8a8a" stroke-width="1"/>
<rect x="275.1" y="1876.9" width="337" height="213.4" fill="none" stroke="#000" stroke-width="1.4"/>
<rect x="248.1" y="1876.9" width="19.3" height="104.2" fill="#ecc153"/>
<rect x="248.1" y="1984.7" width="19.3" height="105.6" fill="#26408b"/>
<text x="234.8" y="1906.2" font-size="25.9" text-anchor="end">control</text>
<text x="234.8" y="1941.8" font-size="25.9" text-anchor="end">T/N</text>
<text x="234.8" y="1977.3" font-size="25.9" text-anchor="end">T/N+aPDL1</text>
<text x="234.8" y="2012.9" font-size="25.9" text-anchor="end">control</text>
<text x="234.8" y="2048.5" font-size="25.9" text-anchor="end">T/N</text>
<text x="234.8" y="2084.1" font-size="25.9" text-anchor="end">T/N+aPDL1</text>
<path d="M317.2 2090.3L317.2 2099.5" stroke="#000" stroke-width="1.4"/>
<text transform="translate(326.2 2111.5) rotate(-90)" font-size="29.7" text-anchor="end">Cdh1</text>
<path d="M401.5 2090.3L401.5 2099.5" stroke="#000" stroke-width="1.4"/>
<text transform="translate(410.5 2111.5) rotate(-90)" font-size="29.7" text-anchor="end">Krt18</text>
<path d="M485.7 2090.3L485.7 2099.5" stroke="#000" stroke-width="1.4"/>
<text transform="translate(494.7 2111.5) rotate(-90)" font-size="29.7" text-anchor="end">Cdh2</text>
<path d="M570 2090.3L570 2099.5" stroke="#000" stroke-width="1.4"/>
<text transform="translate(579 2111.5) rotate(-90)" font-size="29.7" text-anchor="end">Vim</text>
<text x="495.7" y="2237.5" font-size="30.1" text-anchor="middle">Mean expression</text>
<text x="495.7" y="2270.3" font-size="30.1" text-anchor="middle">in group</text>
<defs><linearGradient id="gVh" x1="0" y1="0" x2="1" y2="0"><stop offset="0%" stop-color="#440154"/><stop offset="10%" stop-color="#482475"/><stop offset="20%" stop-color="#414487"/><stop offset="30%" stop-color="#355f8d"/><stop offset="40%" stop-color="#2a788e"/><stop offset="50%" stop-color="#21918c"/><stop offset="60%" stop-color="#22a884"/><stop offset="70%" stop-color="#44bf70"/><stop offset="80%" stop-color="#7ad151"/><stop offset="90%" stop-color="#bddf26"/><stop offset="100%" stop-color="#fde725"/></linearGradient></defs>
<rect x="394.6" y="2287" width="202.3" height="15.7" fill="url(#gVh)" stroke="#000" stroke-width="1"/>
<path d="M394.6 2302.7L394.6 2306.5" stroke="#000" stroke-width="1"/>
<text x="394.6" y="2343" font-size="29.7" text-anchor="middle">0.0</text>
<path d="M495.7 2302.7L495.7 2306.5" stroke="#000" stroke-width="1"/>
<text x="495.7" y="2343" font-size="29.7" text-anchor="middle">0.5</text>
<path d="M596.9 2302.7L596.9 2306.5" stroke="#000" stroke-width="1"/>
<text x="596.9" y="2343" font-size="29.7" text-anchor="middle">1.0</text>
<text x="659" y="1587.5" font-size="38">d</text>
<g shape-rendering="crispEdges"><rect x="772.1" y="1570.9" width="30.6" height="14.9" fill="#053061"/><rect x="802.4" y="1570.9" width="30.6" height="14.9" fill="#053061"/><rect x="832.6" y="1570.9" width="30.6" height="14.9" fill="#053061"/><rect x="862.9" y="1570.9" width="30.6" height="14.9" fill="#92c5de"/><rect x="893.2" y="1570.9" width="30.6" height="14.9" fill="#053061"/><rect x="923.4" y="1570.9" width="30.6" height="14.9" fill="#67001f"/><rect x="772.1" y="1585.5" width="30.6" height="14.9" fill="#fae9df"/><rect x="802.4" y="1585.5" width="30.6" height="14.9" fill="#fbe3d5"/><rect x="832.6" y="1585.5" width="30.6" height="14.9" fill="#fae9df"/><rect x="862.9" y="1585.5" width="30.6" height="14.9" fill="#d1e5f0"/><rect x="893.2" y="1585.5" width="30.6" height="14.9" fill="#dceaf2"/><rect x="923.4" y="1585.5" width="30.6" height="14.9" fill="#d6604d"/><rect x="772.1" y="1600" width="30.6" height="14.9" fill="#92c5de"/><rect x="802.4" y="1600" width="30.6" height="14.9" fill="#92c5de"/><rect x="832.6" y="1600" width="30.6" height="14.9" fill="#92c5de"/><rect x="862.9" y="1600" width="30.6" height="14.9" fill="#bedbeb"/><rect x="893.2" y="1600" width="30.6" height="14.9" fill="#a5cfe3"/><rect x="923.4" y="1600" width="30.6" height="14.9" fill="#9c1127"/><rect x="772.1" y="1614.6" width="30.6" height="14.9" fill="#92c5de"/><rect x="802.4" y="1614.6" width="30.6" height="14.9" fill="#92c5de"/><rect x="832.6" y="1614.6" width="30.6" height="14.9" fill="#92c5de"/><rect x="862.9" y="1614.6" width="30.6" height="14.9" fill="#bedbeb"/><rect x="893.2" y="1614.6" width="30.6" height="14.9" fill="#a5cfe3"/><rect x="923.4" y="1614.6" width="30.6" height="14.9" fill="#8c0c25"/><rect x="772.1" y="1629.2" width="30.6" height="14.9" fill="#d1e5f0"/><rect x="802.4" y="1629.2" width="30.6" height="14.9" fill="#d1e5f0"/><rect x="832.6" y="1629.2" width="30.6" height="14.9" fill="#d1e5f0"/><rect x="862.9" y="1629.2" width="30.6" height="14.9" fill="#d1e5f0"/><rect x="893.2" y="1629.2" width="30.6" height="14.9" fill="#d1e5f0"/><rect x="923.4" y="1629.2" width="30.6" height="14.9" fill="#bd2e35"/><rect x="772.1" y="1643.7" width="30.6" height="14.9" fill="#053061"/><rect x="802.4" y="1643.7" width="30.6" height="14.9" fill="#053061"/><rect x="832.6" y="1643.7" width="30.6" height="14.9" fill="#053061"/><rect x="862.9" y="1643.7" width="30.6" height="14.9" fill="#92c5de"/><rect x="893.2" y="1643.7" width="30.6" height="14.9" fill="#1b5b9d"/><rect x="923.4" y="1643.7" width="30.6" height="14.9" fill="#67001f"/><rect x="772.1" y="1658.3" width="30.6" height="14.9" fill="#2b74b3"/><rect x="802.4" y="1658.3" width="30.6" height="14.9" fill="#3c8abe"/><rect x="832.6" y="1658.3" width="30.6" height="14.9" fill="#2b74b3"/><rect x="862.9" y="1658.3" width="30.6" height="14.9" fill="#92c5de"/><rect x="893.2" y="1658.3" width="30.6" height="14.9" fill="#82bbd9"/><rect x="923.4" y="1658.3" width="30.6" height="14.9" fill="#67001f"/><rect x="772.1" y="1672.9" width="30.6" height="14.9" fill="#1b5b9d"/><rect x="802.4" y="1672.9" width="30.6" height="14.9" fill="#2166ac"/><rect x="832.6" y="1672.9" width="30.6" height="14.9" fill="#1b5b9d"/><rect x="862.9" y="1672.9" width="30.6" height="14.9" fill="#92c5de"/><rect x="893.2" y="1672.9" width="30.6" height="14.9" fill="#327cb8"/><rect x="923.4" y="1672.9" width="30.6" height="14.9" fill="#67001f"/><rect x="772.1" y="1687.4" width="30.6" height="14.9" fill="#f7f7f7"/><rect x="802.4" y="1687.4" width="30.6" height="14.9" fill="#f7f7f7"/><rect x="832.6" y="1687.4" width="30.6" height="14.9" fill="#f7f7f7"/><rect x="862.9" y="1687.4" width="30.6" height="14.9" fill="#e4eef4"/><rect x="893.2" y="1687.4" width="30.6" height="14.9" fill="#e4eef4"/><rect x="923.4" y="1687.4" width="30.6" height="14.9" fill="#cf5246"/><rect x="772.1" y="1702" width="30.6" height="14.9" fill="#f8c0a4"/><rect x="802.4" y="1702" width="30.6" height="14.9" fill="#fbd0b9"/><rect x="832.6" y="1702" width="30.6" height="14.9" fill="#fbe3d5"/><rect x="862.9" y="1702" width="30.6" height="14.9" fill="#d1e5f0"/><rect x="893.2" y="1702" width="30.6" height="14.9" fill="#dceaf2"/><rect x="923.4" y="1702" width="30.6" height="14.9" fill="#d6604d"/><rect x="772.1" y="1716.5" width="30.6" height="14.9" fill="#d9e9f1"/><rect x="802.4" y="1716.5" width="30.6" height="14.9" fill="#dceaf2"/><rect x="832.6" y="1716.5" width="30.6" height="14.9" fill="#dceaf2"/><rect x="862.9" y="1716.5" width="30.6" height="14.9" fill="#d1e5f0"/><rect x="893.2" y="1716.5" width="30.6" height="14.9" fill="#d1e5f0"/><rect x="923.4" y="1716.5" width="30.6" height="14.9" fill="#c43c3c"/><rect x="772.1" y="1731.1" width="30.6" height="14.9" fill="#053061"/><rect x="802.4" y="1731.1" width="30.6" height="14.9" fill="#053061"/><rect x="832.6" y="1731.1" width="30.6" height="14.9" fill="#053061"/><rect x="862.9" y="1731.1" width="30.6" height="14.9" fill="#a5cfe3"/><rect x="893.2" y="1731.1" width="30.6" height="14.9" fill="#63a7ce"/><rect x="923.4" y="1731.1" width="30.6" height="14.9" fill="#67001f"/><rect x="772.1" y="1745.7" width="30.6" height="14.9" fill="#053061"/><rect x="802.4" y="1745.7" width="30.6" height="14.9" fill="#053061"/><rect x="832.6" y="1745.7" width="30.6" height="14.9" fill="#053061"/><rect x="862.9" y="1745.7" width="30.6" height="14.9" fill="#b2d5e7"/><rect x="893.2" y="1745.7" width="30.6" height="14.9" fill="#2166ac"/><rect x="923.4" y="1745.7" width="30.6" height="14.9" fill="#67001f"/><rect x="772.1" y="1760.2" width="30.6" height="14.9" fill="#d9e9f1"/><rect x="802.4" y="1760.2" width="30.6" height="14.9" fill="#d1e5f0"/><rect x="832.6" y="1760.2" width="30.6" height="14.9" fill="#e4eef4"/><rect x="862.9" y="1760.2" width="30.6" height="14.9" fill="#92c5de"/><rect x="893.2" y="1760.2" width="30.6" height="14.9" fill="#92c5de"/><rect x="923.4" y="1760.2" width="30.6" height="14.9" fill="#b2182b"/><rect x="772.1" y="1774.8" width="30.6" height="14.9" fill="#e4eef4"/><rect x="802.4" y="1774.8" width="30.6" height="14.9" fill="#ecf2f5"/><rect x="832.6" y="1774.8" width="30.6" height="14.9" fill="#ecf2f5"/><rect x="862.9" y="1774.8" width="30.6" height="14.9" fill="#dceaf2"/><rect x="893.2" y="1774.8" width="30.6" height="14.9" fill="#dceaf2"/><rect x="923.4" y="1774.8" width="30.6" height="14.9" fill="#cb4a43"/><rect x="772.1" y="1789.4" width="30.6" height="14.9" fill="#92c5de"/><rect x="802.4" y="1789.4" width="30.6" height="14.9" fill="#82bbd9"/><rect x="832.6" y="1789.4" width="30.6" height="14.9" fill="#82bbd9"/><rect x="862.9" y="1789.4" width="30.6" height="14.9" fill="#a5cfe3"/><rect x="893.2" y="1789.4" width="30.6" height="14.9" fill="#d9e9f1"/><rect x="923.4" y="1789.4" width="30.6" height="14.9" fill="#a31329"/><rect x="772.1" y="1803.9" width="30.6" height="14.9" fill="#ecf2f5"/><rect x="802.4" y="1803.9" width="30.6" height="14.9" fill="#f7f7f7"/><rect x="832.6" y="1803.9" width="30.6" height="14.9" fill="#f7f7f7"/><rect x="862.9" y="1803.9" width="30.6" height="14.9" fill="#d1e5f0"/><rect x="893.2" y="1803.9" width="30.6" height="14.9" fill="#d9e9f1"/><rect x="923.4" y="1803.9" width="30.6" height="14.9" fill="#c43c3c"/><rect x="772.1" y="1818.5" width="30.6" height="14.9" fill="#fae9df"/><rect x="802.4" y="1818.5" width="30.6" height="14.9" fill="#fae9df"/><rect x="832.6" y="1818.5" width="30.6" height="14.9" fill="#f9efe9"/><rect x="862.9" y="1818.5" width="30.6" height="14.9" fill="#e4eef4"/><rect x="893.2" y="1818.5" width="30.6" height="14.9" fill="#f9efe9"/><rect x="923.4" y="1818.5" width="30.6" height="14.9" fill="#d6604d"/><rect x="772.1" y="1833.1" width="30.6" height="14.9" fill="#6aacd0"/><rect x="802.4" y="1833.1" width="30.6" height="14.9" fill="#82bbd9"/><rect x="832.6" y="1833.1" width="30.6" height="14.9" fill="#7ab6d6"/><rect x="862.9" y="1833.1" width="30.6" height="14.9" fill="#b2d5e7"/><rect x="893.2" y="1833.1" width="30.6" height="14.9" fill="#9fcbe2"/><rect x="923.4" y="1833.1" width="30.6" height="14.9" fill="#760521"/><rect x="772.1" y="1847.6" width="30.6" height="14.9" fill="#f6b090"/><rect x="802.4" y="1847.6" width="30.6" height="14.9" fill="#fddbc7"/><rect x="832.6" y="1847.6" width="30.6" height="14.9" fill="#fddbc7"/><rect x="862.9" y="1847.6" width="30.6" height="14.9" fill="#fae9df"/><rect x="893.2" y="1847.6" width="30.6" height="14.9" fill="#fce1d1"/><rect x="923.4" y="1847.6" width="30.6" height="14.9" fill="#e58268"/><rect x="772.1" y="1862.2" width="30.6" height="14.9" fill="#d1e5f0"/><rect x="802.4" y="1862.2" width="30.6" height="14.9" fill="#d1e5f0"/><rect x="832.6" y="1862.2" width="30.6" height="14.9" fill="#d1e5f0"/><rect x="862.9" y="1862.2" width="30.6" height="14.9" fill="#d9e9f1"/><rect x="893.2" y="1862.2" width="30.6" height="14.9" fill="#e4eef4"/><rect x="923.4" y="1862.2" width="30.6" height="14.9" fill="#c03539"/><rect x="772.1" y="1876.8" width="30.6" height="14.9" fill="#fbe3d5"/><rect x="802.4" y="1876.8" width="30.6" height="14.9" fill="#f7f7f7"/><rect x="832.6" y="1876.8" width="30.6" height="14.9" fill="#f7f7f7"/><rect x="862.9" y="1876.8" width="30.6" height="14.9" fill="#e4eef4"/><rect x="893.2" y="1876.8" width="30.6" height="14.9" fill="#ecf2f5"/><rect x="923.4" y="1876.8" width="30.6" height="14.9" fill="#cf5246"/><rect x="772.1" y="1891.3" width="30.6" height="14.9" fill="#a5cfe3"/><rect x="802.4" y="1891.3" width="30.6" height="14.9" fill="#a5cfe3"/><rect x="832.6" y="1891.3" width="30.6" height="14.9" fill="#a5cfe3"/><rect x="862.9" y="1891.3" width="30.6" height="14.9" fill="#d1e5f0"/><rect x="893.2" y="1891.3" width="30.6" height="14.9" fill="#d1e5f0"/><rect x="923.4" y="1891.3" width="30.6" height="14.9" fill="#a31329"/><rect x="772.1" y="1905.9" width="30.6" height="14.9" fill="#dceaf2"/><rect x="802.4" y="1905.9" width="30.6" height="14.9" fill="#dceaf2"/><rect x="832.6" y="1905.9" width="30.6" height="14.9" fill="#e4eef4"/><rect x="862.9" y="1905.9" width="30.6" height="14.9" fill="#d9e9f1"/><rect x="893.2" y="1905.9" width="30.6" height="14.9" fill="#e0ecf3"/><rect x="923.4" y="1905.9" width="30.6" height="14.9" fill="#c43c3c"/><rect x="772.1" y="1920.5" width="30.6" height="14.9" fill="#fae9df"/><rect x="802.4" y="1920.5" width="30.6" height="14.9" fill="#fbe3d5"/><rect x="832.6" y="1920.5" width="30.6" height="14.9" fill="#f9efe9"/><rect x="862.9" y="1920.5" width="30.6" height="14.9" fill="#ecf2f5"/><rect x="893.2" y="1920.5" width="30.6" height="14.9" fill="#fae9df"/><rect x="923.4" y="1920.5" width="30.6" height="14.9" fill="#d2594a"/><rect x="772.1" y="1935" width="30.6" height="14.9" fill="#e4eef4"/><rect x="802.4" y="1935" width="30.6" height="14.9" fill="#e8f0f4"/><rect x="832.6" y="1935" width="30.6" height="14.9" fill="#e8f0f4"/><rect x="862.9" y="1935" width="30.6" height="14.9" fill="#dceaf2"/><rect x="893.2" y="1935" width="30.6" height="14.9" fill="#ecf2f5"/><rect x="923.4" y="1935" width="30.6" height="14.9" fill="#c8433f"/><rect x="772.1" y="1949.6" width="30.6" height="14.9" fill="#d1e5f0"/><rect x="802.4" y="1949.6" width="30.6" height="14.9" fill="#d1e5f0"/><rect x="832.6" y="1949.6" width="30.6" height="14.9" fill="#d1e5f0"/><rect x="862.9" y="1949.6" width="30.6" height="14.9" fill="#c4dfec"/><rect x="893.2" y="1949.6" width="30.6" height="14.9" fill="#d9e9f1"/><rect x="923.4" y="1949.6" width="30.6" height="14.9" fill="#bd2e35"/><rect x="772.1" y="1964.1" width="30.6" height="14.9" fill="#f6b090"/><rect x="802.4" y="1964.1" width="30.6" height="14.9" fill="#f4a582"/><rect x="832.6" y="1964.1" width="30.6" height="14.9" fill="#f6b090"/><rect x="862.9" y="1964.1" width="30.6" height="14.9" fill="#dceaf2"/><rect x="893.2" y="1964.1" width="30.6" height="14.9" fill="#ecf2f5"/><rect x="923.4" y="1964.1" width="30.6" height="14.9" fill="#e27c62"/><rect x="772.1" y="1978.7" width="30.6" height="14.9" fill="#2f78b5"/><rect x="802.4" y="1978.7" width="30.6" height="14.9" fill="#3581ba"/><rect x="832.6" y="1978.7" width="30.6" height="14.9" fill="#2166ac"/><rect x="862.9" y="1978.7" width="30.6" height="14.9" fill="#d9e9f1"/><rect x="893.2" y="1978.7" width="30.6" height="14.9" fill="#d9e9f1"/><rect x="923.4" y="1978.7" width="30.6" height="14.9" fill="#760521"/><rect x="772.1" y="1993.3" width="30.6" height="14.9" fill="#fddbc7"/><rect x="802.4" y="1993.3" width="30.6" height="14.9" fill="#fddbc7"/><rect x="832.6" y="1993.3" width="30.6" height="14.9" fill="#fddbc7"/><rect x="862.9" y="1993.3" width="30.6" height="14.9" fill="#dceaf2"/><rect x="893.2" y="1993.3" width="30.6" height="14.9" fill="#e4eef4"/><rect x="923.4" y="1993.3" width="30.6" height="14.9" fill="#d6604d"/><rect x="772.1" y="2007.8" width="30.6" height="14.9" fill="#fbd0b9"/><rect x="802.4" y="2007.8" width="30.6" height="14.9" fill="#fddbc7"/><rect x="832.6" y="2007.8" width="30.6" height="14.9" fill="#fddbc7"/><rect x="862.9" y="2007.8" width="30.6" height="14.9" fill="#fae9df"/><rect x="893.2" y="2007.8" width="30.6" height="14.9" fill="#fbe3d5"/><rect x="923.4" y="2007.8" width="30.6" height="14.9" fill="#df755d"/><rect x="772.1" y="2022.4" width="30.6" height="14.9" fill="#6aacd0"/><rect x="802.4" y="2022.4" width="30.6" height="14.9" fill="#a5cfe3"/><rect x="832.6" y="2022.4" width="30.6" height="14.9" fill="#82bbd9"/><rect x="862.9" y="2022.4" width="30.6" height="14.9" fill="#c4dfec"/><rect x="893.2" y="2022.4" width="30.6" height="14.9" fill="#d9e9f1"/><rect x="923.4" y="2022.4" width="30.6" height="14.9" fill="#a31329"/><rect x="772.1" y="2037" width="30.6" height="14.9" fill="#b2d5e7"/><rect x="802.4" y="2037" width="30.6" height="14.9" fill="#d1e5f0"/><rect x="832.6" y="2037" width="30.6" height="14.9" fill="#bedbeb"/><rect x="862.9" y="2037" width="30.6" height="14.9" fill="#d9e9f1"/><rect x="893.2" y="2037" width="30.6" height="14.9" fill="#dceaf2"/><rect x="923.4" y="2037" width="30.6" height="14.9" fill="#b2182b"/><rect x="772.1" y="2051.5" width="30.6" height="14.9" fill="#053061"/><rect x="802.4" y="2051.5" width="30.6" height="14.9" fill="#0b3b70"/><rect x="832.6" y="2051.5" width="30.6" height="14.9" fill="#053061"/><rect x="862.9" y="2051.5" width="30.6" height="14.9" fill="#92c5de"/><rect x="893.2" y="2051.5" width="30.6" height="14.9" fill="#f7f7f7"/><rect x="923.4" y="2051.5" width="30.6" height="14.9" fill="#67001f"/><rect x="772.1" y="2066.1" width="30.6" height="14.9" fill="#327cb8"/><rect x="802.4" y="2066.1" width="30.6" height="14.9" fill="#327cb8"/><rect x="832.6" y="2066.1" width="30.6" height="14.9" fill="#327cb8"/><rect x="862.9" y="2066.1" width="30.6" height="14.9" fill="#3986bc"/><rect x="893.2" y="2066.1" width="30.6" height="14.9" fill="#3986bc"/><rect x="923.4" y="2066.1" width="30.6" height="14.9" fill="#67001f"/><rect x="772.1" y="2080.7" width="30.6" height="14.9" fill="#d9e9f1"/><rect x="802.4" y="2080.7" width="30.6" height="14.9" fill="#d9e9f1"/><rect x="832.6" y="2080.7" width="30.6" height="14.9" fill="#d9e9f1"/><rect x="862.9" y="2080.7" width="30.6" height="14.9" fill="#d1e5f0"/><rect x="893.2" y="2080.7" width="30.6" height="14.9" fill="#d1e5f0"/><rect x="923.4" y="2080.7" width="30.6" height="14.9" fill="#c03539"/><rect x="772.1" y="2095.2" width="30.6" height="14.9" fill="#fbe3d5"/><rect x="802.4" y="2095.2" width="30.6" height="14.9" fill="#fbe3d5"/><rect x="832.6" y="2095.2" width="30.6" height="14.9" fill="#fae9df"/><rect x="862.9" y="2095.2" width="30.6" height="14.9" fill="#ecf2f5"/><rect x="893.2" y="2095.2" width="30.6" height="14.9" fill="#f9efe9"/><rect x="923.4" y="2095.2" width="30.6" height="14.9" fill="#d2594a"/><rect x="772.1" y="2109.8" width="30.6" height="14.9" fill="#fddbc7"/><rect x="802.4" y="2109.8" width="30.6" height="14.9" fill="#fcdecc"/><rect x="832.6" y="2109.8" width="30.6" height="14.9" fill="#fcdecc"/><rect x="862.9" y="2109.8" width="30.6" height="14.9" fill="#dceaf2"/><rect x="893.2" y="2109.8" width="30.6" height="14.9" fill="#d9e9f1"/><rect x="923.4" y="2109.8" width="30.6" height="14.9" fill="#cf5246"/><rect x="772.1" y="2124.4" width="30.6" height="14.9" fill="#b2d5e7"/><rect x="802.4" y="2124.4" width="30.6" height="14.9" fill="#b2d5e7"/><rect x="832.6" y="2124.4" width="30.6" height="14.9" fill="#b2d5e7"/><rect x="862.9" y="2124.4" width="30.6" height="14.9" fill="#ecf2f5"/><rect x="893.2" y="2124.4" width="30.6" height="14.9" fill="#bedbeb"/><rect x="923.4" y="2124.4" width="30.6" height="14.9" fill="#a31329"/><rect x="772.1" y="2138.9" width="30.6" height="14.9" fill="#fbe3d5"/><rect x="802.4" y="2138.9" width="30.6" height="14.9" fill="#fbe3d5"/><rect x="832.6" y="2138.9" width="30.6" height="14.9" fill="#fbe3d5"/><rect x="862.9" y="2138.9" width="30.6" height="14.9" fill="#f9efe9"/><rect x="893.2" y="2138.9" width="30.6" height="14.9" fill="#fbe3d5"/><rect x="923.4" y="2138.9" width="30.6" height="14.9" fill="#d96752"/><rect x="772.1" y="2153.5" width="30.6" height="14.9" fill="#4393c3"/><rect x="802.4" y="2153.5" width="30.6" height="14.9" fill="#539dc8"/><rect x="832.6" y="2153.5" width="30.6" height="14.9" fill="#4b98c6"/><rect x="862.9" y="2153.5" width="30.6" height="14.9" fill="#d1e5f0"/><rect x="893.2" y="2153.5" width="30.6" height="14.9" fill="#6aacd0"/><rect x="923.4" y="2153.5" width="30.6" height="14.9" fill="#67001f"/><rect x="772.1" y="2168.1" width="30.6" height="14.9" fill="#e4eef4"/><rect x="802.4" y="2168.1" width="30.6" height="14.9" fill="#f9efe9"/><rect x="832.6" y="2168.1" width="30.6" height="14.9" fill="#ecf2f5"/><rect x="862.9" y="2168.1" width="30.6" height="14.9" fill="#d9e9f1"/><rect x="893.2" y="2168.1" width="30.6" height="14.9" fill="#d1e5f0"/><rect x="923.4" y="2168.1" width="30.6" height="14.9" fill="#c8433f"/><rect x="772.1" y="2182.6" width="30.6" height="14.9" fill="#fbe3d5"/><rect x="802.4" y="2182.6" width="30.6" height="14.9" fill="#fbe3d5"/><rect x="832.6" y="2182.6" width="30.6" height="14.9" fill="#fbe3d5"/><rect x="862.9" y="2182.6" width="30.6" height="14.9" fill="#fae9df"/><rect x="893.2" y="2182.6" width="30.6" height="14.9" fill="#fbe3d5"/><rect x="923.4" y="2182.6" width="30.6" height="14.9" fill="#dc6e58"/><rect x="772.1" y="2197.2" width="30.6" height="14.9" fill="#fae9df"/><rect x="802.4" y="2197.2" width="30.6" height="14.9" fill="#f9ece4"/><rect x="832.6" y="2197.2" width="30.6" height="14.9" fill="#fbe6da"/><rect x="862.9" y="2197.2" width="30.6" height="14.9" fill="#fae9df"/><rect x="893.2" y="2197.2" width="30.6" height="14.9" fill="#fbe3d5"/><rect x="923.4" y="2197.2" width="30.6" height="14.9" fill="#d6604d"/><rect x="772.1" y="2211.7" width="30.6" height="14.9" fill="#f6b090"/><rect x="802.4" y="2211.7" width="30.6" height="14.9" fill="#f8c0a4"/><rect x="832.6" y="2211.7" width="30.6" height="14.9" fill="#fddbc7"/><rect x="862.9" y="2211.7" width="30.6" height="14.9" fill="#b2d5e7"/><rect x="893.2" y="2211.7" width="30.6" height="14.9" fill="#bedbeb"/><rect x="923.4" y="2211.7" width="30.6" height="14.9" fill="#cf5246"/><rect x="772.1" y="2226.3" width="30.6" height="14.9" fill="#dceaf2"/><rect x="802.4" y="2226.3" width="30.6" height="14.9" fill="#e0ecf3"/><rect x="832.6" y="2226.3" width="30.6" height="14.9" fill="#e8f0f4"/><rect x="862.9" y="2226.3" width="30.6" height="14.9" fill="#eff3f6"/><rect x="893.2" y="2226.3" width="30.6" height="14.9" fill="#f7f7f7"/><rect x="923.4" y="2226.3" width="30.6" height="14.9" fill="#cb4a43"/><rect x="772.1" y="2240.9" width="30.6" height="14.9" fill="#f9efe9"/><rect x="802.4" y="2240.9" width="30.6" height="14.9" fill="#f8f1ed"/><rect x="832.6" y="2240.9" width="30.6" height="14.9" fill="#f9efe9"/><rect x="862.9" y="2240.9" width="30.6" height="14.9" fill="#f9efe9"/><rect x="893.2" y="2240.9" width="30.6" height="14.9" fill="#fae9df"/><rect x="923.4" y="2240.9" width="30.6" height="14.9" fill="#d6604d"/><rect x="772.1" y="2255.4" width="30.6" height="14.9" fill="#053061"/><rect x="802.4" y="2255.4" width="30.6" height="14.9" fill="#053061"/><rect x="832.6" y="2255.4" width="30.6" height="14.9" fill="#053061"/><rect x="862.9" y="2255.4" width="30.6" height="14.9" fill="#f6b090"/><rect x="893.2" y="2255.4" width="30.6" height="14.9" fill="#cf5246"/><rect x="923.4" y="2255.4" width="30.6" height="14.9" fill="#67001f"/><rect x="772.1" y="2270" width="30.6" height="14.9" fill="#fce1d1"/><rect x="802.4" y="2270" width="30.6" height="14.9" fill="#fce1d1"/><rect x="832.6" y="2270" width="30.6" height="14.9" fill="#fce1d1"/><rect x="862.9" y="2270" width="30.6" height="14.9" fill="#f9ece4"/><rect x="893.2" y="2270" width="30.6" height="14.9" fill="#fce1d1"/><rect x="923.4" y="2270" width="30.6" height="14.9" fill="#dc6e58"/><rect x="772.1" y="2284.6" width="30.6" height="14.9" fill="#fce1d1"/><rect x="802.4" y="2284.6" width="30.6" height="14.9" fill="#fddbc7"/><rect x="832.6" y="2284.6" width="30.6" height="14.9" fill="#fbd0b9"/><rect x="862.9" y="2284.6" width="30.6" height="14.9" fill="#d1e5f0"/><rect x="893.2" y="2284.6" width="30.6" height="14.9" fill="#e4eef4"/><rect x="923.4" y="2284.6" width="30.6" height="14.9" fill="#d6604d"/><rect x="772.1" y="2299.1" width="30.6" height="14.9" fill="#f9efe9"/><rect x="802.4" y="2299.1" width="30.6" height="14.9" fill="#fae9df"/><rect x="832.6" y="2299.1" width="30.6" height="14.9" fill="#f9ece4"/><rect x="862.9" y="2299.1" width="30.6" height="14.9" fill="#eff3f6"/><rect x="893.2" y="2299.1" width="30.6" height="14.9" fill="#fce1d1"/><rect x="923.4" y="2299.1" width="30.6" height="14.9" fill="#d96752"/><rect x="772.1" y="2313.7" width="30.6" height="14.9" fill="#fddbc7"/><rect x="802.4" y="2313.7" width="30.6" height="14.9" fill="#f8bb9e"/><rect x="832.6" y="2313.7" width="30.6" height="14.9" fill="#fbd0b9"/><rect x="862.9" y="2313.7" width="30.6" height="14.9" fill="#fae9df"/><rect x="893.2" y="2313.7" width="30.6" height="14.9" fill="#fae9df"/><rect x="923.4" y="2313.7" width="30.6" height="14.9" fill="#dc6e58"/><rect x="772.1" y="2328.3" width="30.6" height="14.9" fill="#ee9777"/><rect x="802.4" y="2328.3" width="30.6" height="14.9" fill="#f8c0a4"/><rect x="832.6" y="2328.3" width="30.6" height="14.9" fill="#f8c0a4"/><rect x="862.9" y="2328.3" width="30.6" height="14.9" fill="#eff3f6"/><rect x="893.2" y="2328.3" width="30.6" height="14.9" fill="#eff3f6"/><rect x="923.4" y="2328.3" width="30.6" height="14.9" fill="#dc6e58"/><rect x="772.1" y="2342.8" width="30.6" height="14.9" fill="#fce1d1"/><rect x="802.4" y="2342.8" width="30.6" height="14.9" fill="#fddbc7"/><rect x="832.6" y="2342.8" width="30.6" height="14.9" fill="#f9efe9"/><rect x="862.9" y="2342.8" width="30.6" height="14.9" fill="#f9ece4"/><rect x="893.2" y="2342.8" width="30.6" height="14.9" fill="#fbe6da"/><rect x="923.4" y="2342.8" width="30.6" height="14.9" fill="#d6604d"/><rect x="772.1" y="2357.4" width="30.6" height="14.9" fill="#fddbc7"/><rect x="802.4" y="2357.4" width="30.6" height="14.9" fill="#facbb2"/><rect x="832.6" y="2357.4" width="30.6" height="14.9" fill="#f3f5f6"/><rect x="862.9" y="2357.4" width="30.6" height="14.9" fill="#dceaf2"/><rect x="893.2" y="2357.4" width="30.6" height="14.9" fill="#d9e9f1"/><rect x="923.4" y="2357.4" width="30.6" height="14.9" fill="#cf5246"/><rect x="772.1" y="2372" width="30.6" height="14.9" fill="#9fcbe2"/><rect x="802.4" y="2372" width="30.6" height="14.9" fill="#bedbeb"/><rect x="832.6" y="2372" width="30.6" height="14.9" fill="#a5cfe3"/><rect x="862.9" y="2372" width="30.6" height="14.9" fill="#d1e5f0"/><rect x="893.2" y="2372" width="30.6" height="14.9" fill="#d1e5f0"/><rect x="923.4" y="2372" width="30.6" height="14.9" fill="#b2182b"/><rect x="772.1" y="2386.5" width="30.6" height="14.9" fill="#f8c0a4"/><rect x="802.4" y="2386.5" width="30.6" height="14.9" fill="#fbd0b9"/><rect x="832.6" y="2386.5" width="30.6" height="14.9" fill="#f9efe9"/><rect x="862.9" y="2386.5" width="30.6" height="14.9" fill="#d1e5f0"/><rect x="893.2" y="2386.5" width="30.6" height="14.9" fill="#dceaf2"/><rect x="923.4" y="2386.5" width="30.6" height="14.9" fill="#d6604d"/><rect x="772.1" y="2401.1" width="30.6" height="14.9" fill="#fbd0b9"/><rect x="802.4" y="2401.1" width="30.6" height="14.9" fill="#fbd0b9"/><rect x="832.6" y="2401.1" width="30.6" height="14.9" fill="#fddbc7"/><rect x="862.9" y="2401.1" width="30.6" height="14.9" fill="#d1e5f0"/><rect x="893.2" y="2401.1" width="30.6" height="14.9" fill="#d1e5f0"/><rect x="923.4" y="2401.1" width="30.6" height="14.9" fill="#d2594a"/><rect x="772.1" y="2415.7" width="30.6" height="14.9" fill="#fcd6c0"/><rect x="802.4" y="2415.7" width="30.6" height="14.9" fill="#fcd6c0"/><rect x="832.6" y="2415.7" width="30.6" height="14.9" fill="#fcdecc"/><rect x="862.9" y="2415.7" width="30.6" height="14.9" fill="#d5e7f1"/><rect x="893.2" y="2415.7" width="30.6" height="14.9" fill="#d5e7f1"/><rect x="923.4" y="2415.7" width="30.6" height="14.9" fill="#d6604d"/><rect x="772.1" y="2430.2" width="30.6" height="14.9" fill="#f9efe9"/><rect x="802.4" y="2430.2" width="30.6" height="14.9" fill="#f9efe9"/><rect x="832.6" y="2430.2" width="30.6" height="14.9" fill="#f9efe9"/><rect x="862.9" y="2430.2" width="30.6" height="14.9" fill="#fae9df"/><rect x="893.2" y="2430.2" width="30.6" height="14.9" fill="#fae9df"/><rect x="923.4" y="2430.2" width="30.6" height="14.9" fill="#d96752"/><rect x="772.1" y="2444.8" width="30.6" height="14.9" fill="#3c8abe"/><rect x="802.4" y="2444.8" width="30.6" height="14.9" fill="#539dc8"/><rect x="832.6" y="2444.8" width="30.6" height="14.9" fill="#4393c3"/><rect x="862.9" y="2444.8" width="30.6" height="14.9" fill="#d9e9f1"/><rect x="893.2" y="2444.8" width="30.6" height="14.9" fill="#c4dfec"/><rect x="923.4" y="2444.8" width="30.6" height="14.9" fill="#760521"/><rect x="772.1" y="2459.3" width="30.6" height="14.9" fill="#bedbeb"/><rect x="802.4" y="2459.3" width="30.6" height="14.9" fill="#d1e5f0"/><rect x="832.6" y="2459.3" width="30.6" height="14.9" fill="#bedbeb"/><rect x="862.9" y="2459.3" width="30.6" height="14.9" fill="#e4eef4"/><rect x="893.2" y="2459.3" width="30.6" height="14.9" fill="#e0ecf3"/><rect x="923.4" y="2459.3" width="30.6" height="14.9" fill="#b2182b"/><rect x="772.1" y="2473.9" width="30.6" height="14.9" fill="#5ba2cb"/><rect x="802.4" y="2473.9" width="30.6" height="14.9" fill="#5ba2cb"/><rect x="832.6" y="2473.9" width="30.6" height="14.9" fill="#5ba2cb"/><rect x="862.9" y="2473.9" width="30.6" height="14.9" fill="#e0ecf3"/><rect x="893.2" y="2473.9" width="30.6" height="14.9" fill="#c4dfec"/><rect x="923.4" y="2473.9" width="30.6" height="14.9" fill="#850a24"/><rect x="772.1" y="2488.5" width="30.6" height="14.9" fill="#f7b597"/><rect x="802.4" y="2488.5" width="30.6" height="14.9" fill="#fddbc7"/><rect x="832.6" y="2488.5" width="30.6" height="14.9" fill="#f8bb9e"/><rect x="862.9" y="2488.5" width="30.6" height="14.9" fill="#fae9df"/><rect x="893.2" y="2488.5" width="30.6" height="14.9" fill="#fce1d1"/><rect x="923.4" y="2488.5" width="30.6" height="14.9" fill="#df755d"/><rect x="772.1" y="2503" width="30.6" height="14.9" fill="#fcdecc"/><rect x="802.4" y="2503" width="30.6" height="14.9" fill="#facbb2"/><rect x="832.6" y="2503" width="30.6" height="14.9" fill="#fbd0b9"/><rect x="862.9" y="2503" width="30.6" height="14.9" fill="#fbe6da"/><rect x="893.2" y="2503" width="30.6" height="14.9" fill="#fcdecc"/><rect x="923.4" y="2503" width="30.6" height="14.9" fill="#e27c62"/><rect x="772.1" y="2517.6" width="30.6" height="14.9" fill="#195696"/><rect x="802.4" y="2517.6" width="30.6" height="14.9" fill="#0b3b70"/><rect x="832.6" y="2517.6" width="30.6" height="14.9" fill="#10467f"/><rect x="862.9" y="2517.6" width="30.6" height="14.9" fill="#f7f7f7"/><rect x="893.2" y="2517.6" width="30.6" height="14.9" fill="#d1e5f0"/><rect x="923.4" y="2517.6" width="30.6" height="14.9" fill="#67001f"/><rect x="772.1" y="2532.2" width="30.6" height="14.9" fill="#3986bc"/><rect x="802.4" y="2532.2" width="30.6" height="14.9" fill="#3986bc"/><rect x="832.6" y="2532.2" width="30.6" height="14.9" fill="#2166ac"/><rect x="862.9" y="2532.2" width="30.6" height="14.9" fill="#d9e9f1"/><rect x="893.2" y="2532.2" width="30.6" height="14.9" fill="#e0ecf3"/><rect x="923.4" y="2532.2" width="30.6" height="14.9" fill="#760521"/><rect x="772.1" y="2546.7" width="30.6" height="14.9" fill="#fcdecc"/><rect x="802.4" y="2546.7" width="30.6" height="14.9" fill="#fcdecc"/><rect x="832.6" y="2546.7" width="30.6" height="14.9" fill="#f6b090"/><rect x="862.9" y="2546.7" width="30.6" height="14.9" fill="#fce1d1"/><rect x="893.2" y="2546.7" width="30.6" height="14.9" fill="#fcdecc"/><rect x="923.4" y="2546.7" width="30.6" height="14.9" fill="#dc6e58"/></g>
<path d="M772.1 1585.5H953.7M772.1 1600H953.7M772.1 1614.6H953.7M772.1 1629.2H953.7M772.1 1643.7H953.7M772.1 1658.3H953.7M772.1 1672.9H953.7M772.1 1687.4H953.7M772.1 1702H953.7M772.1 1716.5H953.7M772.1 1731.1H953.7M772.1 1745.7H953.7M772.1 1760.2H953.7M772.1 1774.8H953.7M772.1 1789.4H953.7M772.1 1803.9H953.7M772.1 1818.5H953.7M772.1 1833.1H953.7M772.1 1847.6H953.7M772.1 1862.2H953.7M772.1 1876.8H953.7M772.1 1891.3H953.7M772.1 1905.9H953.7M772.1 1920.5H953.7M772.1 1935H953.7M772.1 1949.6H953.7M772.1 1964.1H953.7M772.1 1978.7H953.7M772.1 1993.3H953.7M772.1 2007.8H953.7M772.1 2022.4H953.7M772.1 2037H953.7M772.1 2051.5H953.7M772.1 2066.1H953.7M772.1 2080.7H953.7M772.1 2095.2H953.7M772.1 2109.8H953.7M772.1 2124.4H953.7M772.1 2138.9H953.7M772.1 2153.5H953.7M772.1 2168.1H953.7M772.1 2182.6H953.7M772.1 2197.2H953.7M772.1 2211.7H953.7M772.1 2226.3H953.7M772.1 2240.9H953.7M772.1 2255.4H953.7M772.1 2270H953.7M772.1 2284.6H953.7M772.1 2299.1H953.7M772.1 2313.7H953.7M772.1 2328.3H953.7M772.1 2342.8H953.7M772.1 2357.4H953.7M772.1 2372H953.7M772.1 2386.5H953.7M772.1 2401.1H953.7M772.1 2415.7H953.7M772.1 2430.2H953.7M772.1 2444.8H953.7M772.1 2459.3H953.7M772.1 2473.9H953.7M772.1 2488.5H953.7M772.1 2503H953.7M772.1 2517.6H953.7M772.1 2532.2H953.7M772.1 2546.7H953.7M802.4 1570.9V2561.3M832.6 1570.9V2561.3M862.9 1570.9V2561.3M893.2 1570.9V2561.3M923.4 1570.9V2561.3" stroke="#555" stroke-width=".6" fill="none" opacity=".8"/>
<rect x="772.1" y="1570.9" width="181.6" height="990.4" fill="none" stroke="#444" stroke-width="0.9"/>
<g class="n3" font-size="11.3" text-anchor="end">
<text x="762.8" y="1582.2">H2-D1</text>
<text x="762.8" y="1596.7">Irf1</text>
<text x="762.8" y="1611.3">Gbp6</text>
<text x="762.8" y="1625.9">Cxcl9</text>
<text x="762.8" y="1640.4">Herc6</text>
<text x="762.8" y="1655">Psmb8</text>
<text x="762.8" y="1669.6">Zbp1</text>
<text x="762.8" y="1684.1">Psmb9</text>
<text x="762.8" y="1698.7">H2-Eb1</text>
<text x="762.8" y="1713.3">Irf2</text>
<text x="762.8" y="1727.8">Cd74</text>
<text x="762.8" y="1742.4">Bst2</text>
<text x="762.8" y="1757">B2m</text>
<text x="762.8" y="1771.5">Lgals3bp</text>
<text x="762.8" y="1786.1">Stat2</text>
<text x="762.8" y="1800.7">Tnfaip2</text>
<text x="762.8" y="1815.2">Cfb</text>
<text x="762.8" y="1829.8">Nlrc5</text>
<text x="762.8" y="1844.3">Ifi44</text>
<text x="762.8" y="1858.9">Irf8</text>
<text x="762.8" y="1873.5">Usp18</text>
<text x="762.8" y="1888">H2-DMb1</text>
<text x="762.8" y="1902.6">Tap1</text>
<text x="762.8" y="1917.2">Ddx58</text>
<text x="762.8" y="1931.7">Ptgs2</text>
<text x="762.8" y="1946.3">Rtp4</text>
<text x="762.8" y="1960.9">Rnf213</text>
<text x="762.8" y="1975.4">Socs3</text>
<text x="762.8" y="1990">Psme2</text>
<text x="762.8" y="2004.6">Trim25</text>
<text x="762.8" y="2019.1">Il15</text>
<text x="762.8" y="2033.7">Isg15</text>
<text x="762.8" y="2048.3">Ifit3</text>
<text x="762.8" y="2062.8">Ly6e</text>
<text x="762.8" y="2077.4">H2-Q7</text>
<text x="762.8" y="2091.9">Cmtr1</text>
<text x="762.8" y="2106.5">Znfx1</text>
<text x="762.8" y="2121.1">Samd9l</text>
<text x="762.8" y="2135.6">Gbp4</text>
<text x="762.8" y="2150.2">Oas2</text>
<text x="762.8" y="2164.8">Stat1</text>
<text x="762.8" y="2179.3">Parp14</text>
<text x="762.8" y="2193.9">Rsad2</text>
<text x="762.8" y="2208.5">Cd274</text>
<text x="762.8" y="2223">Btg1</text>
<text x="762.8" y="2237.6">Ccl7</text>
<text x="762.8" y="2252.2">Ddx60</text>
<text x="762.8" y="2266.7">Ifitm3</text>
<text x="762.8" y="2281.3">Trim21</text>
<text x="762.8" y="2295.9">Nfkb1</text>
<text x="762.8" y="2310.4">Ripk2</text>
<text x="762.8" y="2325">Tnfaip3</text>
<text x="762.8" y="2339.5">Peli1</text>
<text x="762.8" y="2354.1">Socs1</text>
<text x="762.8" y="2368.7">Nfkbia</text>
<text x="762.8" y="2383.2">Ccl2</text>
<text x="762.8" y="2397.8">Pnp</text>
<text x="762.8" y="2412.4">Arid5b</text>
<text x="762.8" y="2426.9">Stat3</text>
<text x="762.8" y="2441.5">Batf2</text>
<text x="762.8" y="2456.1">Tapbp</text>
<text x="762.8" y="2470.6">Ifi35</text>
<text x="762.8" y="2485.2">Xaf1</text>
<text x="762.8" y="2499.8">Rnf31</text>
<text x="762.8" y="2514.3">Il15ra</text>
<text x="762.8" y="2528.9">Psme1</text>
<text x="762.8" y="2543.5">Psmb10</text>
<text x="762.8" y="2558">Trim14</text>
</g>
<path d="M766.7 1578.2H772.1M766.7 1592.7H772.1M766.7 1607.3H772.1M766.7 1621.9H772.1M766.7 1636.4H772.1M766.7 1651H772.1M766.7 1665.6H772.1M766.7 1680.1H772.1M766.7 1694.7H772.1M766.7 1709.3H772.1M766.7 1723.8H772.1M766.7 1738.4H772.1M766.7 1753H772.1M766.7 1767.5H772.1M766.7 1782.1H772.1M766.7 1796.7H772.1M766.7 1811.2H772.1M766.7 1825.8H772.1M766.7 1840.3H772.1M766.7 1854.9H772.1M766.7 1869.5H772.1M766.7 1884H772.1M766.7 1898.6H772.1M766.7 1913.2H772.1M766.7 1927.7H772.1M766.7 1942.3H772.1M766.7 1956.9H772.1M766.7 1971.4H772.1M766.7 1986H772.1M766.7 2000.6H772.1M766.7 2015.1H772.1M766.7 2029.7H772.1M766.7 2044.3H772.1M766.7 2058.8H772.1M766.7 2073.4H772.1M766.7 2087.9H772.1M766.7 2102.5H772.1M766.7 2117.1H772.1M766.7 2131.6H772.1M766.7 2146.2H772.1M766.7 2160.8H772.1M766.7 2175.3H772.1M766.7 2189.9H772.1M766.7 2204.5H772.1M766.7 2219H772.1M766.7 2233.6H772.1M766.7 2248.2H772.1M766.7 2262.7H772.1M766.7 2277.3H772.1M766.7 2291.9H772.1M766.7 2306.4H772.1M766.7 2321H772.1M766.7 2335.5H772.1M766.7 2350.1H772.1M766.7 2364.7H772.1M766.7 2379.2H772.1M766.7 2393.8H772.1M766.7 2408.4H772.1M766.7 2422.9H772.1M766.7 2437.5H772.1M766.7 2452.1H772.1M766.7 2466.6H772.1M766.7 2481.2H772.1M766.7 2495.8H772.1M766.7 2510.3H772.1M766.7 2524.9H772.1M766.7 2539.5H772.1M766.7 2554H772.1" stroke="#222" stroke-width=".8" fill="none"/>
<rect x="776.9" y="2569.2" width="84.2" height="16.2" fill="#ecc153"/>
<rect x="863.6" y="2569.2" width="85.4" height="16.2" fill="#26408b"/>
<text transform="translate(788.6 2600) rotate(-45)" font-size="20.1" text-anchor="end">control</text>
<text transform="translate(821.9 2600) rotate(-45)" font-size="20.1" text-anchor="end">T/N</text>
<text transform="translate(855.1 2600) rotate(-45)" font-size="20.1" text-anchor="end">T/N+aPDL1</text>
<text transform="translate(888.4 2600) rotate(-45)" font-size="20.1" text-anchor="end">control</text>
<text transform="translate(921.6 2600) rotate(-45)" font-size="20.1" text-anchor="end">T/N</text>
<text transform="translate(954.9 2600) rotate(-45)" font-size="20.1" text-anchor="end">T/N+aPDL1</text>
<text x="971" y="2508.8" font-size="19.4">mean Z-score</text>
<defs><linearGradient id="gZ" x1="0" y1="0" x2="1" y2="0"><stop offset="0%" stop-color="#0b3c73"/><stop offset="16.7%" stop-color="#2f79b5"/><stop offset="33.3%" stop-color="#71b0d3"/><stop offset="50%" stop-color="#c7e0ed"/><stop offset="66.7%" stop-color="#f7f6f6"/><stop offset="77.8%" stop-color="#fbccb4"/><stop offset="88.9%" stop-color="#e17860"/><stop offset="94.4%" stop-color="#c13639"/><stop offset="100%" stop-color="#67001f"/></linearGradient></defs>
<rect x="970.5" y="2517.8" width="118.9" height="15.3" fill="url(#gZ)"/>
<path d="M984 2533.1L984 2537.5" stroke="#555" stroke-width="0.9"/>
<text x="984.6" y="2556.4" font-size="19.4" text-anchor="middle">−0.5</text>
<path d="M1049.9 2533.1L1049.9 2537.5" stroke="#555" stroke-width="0.9"/>
<text x="1049.8" y="2556.4" font-size="19.4" text-anchor="middle">0.0</text>
<path d="M1089.2 2533.1L1089.2 2537.5" stroke="#555" stroke-width="0.9"/>
<text x="1099.7" y="2556.4" font-size="19.4" text-anchor="middle">0.3</text>
<text x="999" y="1587.5" font-size="38">e</text>
<text x="1053.5" y="1588.8" font-size="26">Reactome - G1-S DNA damage checkpoints</text>
<path d="M1049.4 1606.6L1752.6 1606.6" stroke="#000" stroke-width="1.6"/>
<path d="M1063.2 1908.6L1063.2 1866L1063.7 1882L1065.2 1891L1068.9 1896L1086.1 1898.5L1114.9 1900.3L1172.3 1903L1221.1 1905.3L1222.5 1905.4L1222.5 1908.6L1333.1 1908.6L1333.1 1906.8L1366.1 1907.2L1366.1 1908.6Z" fill="#bcbcbc"/>
<rect x="1063.2" y="1807" width="114.3" height="10.9" fill="#ee5154"/>
<rect x="1177.5" y="1807" width="54.6" height="10.9" fill="#f66c7f"/>
<rect x="1232" y="1807" width="60.9" height="10.9" fill="#f68580"/>
<rect x="1292.9" y="1807" width="73.2" height="10.9" fill="#f9b5de"/>
<path d="M1065.5 1763.1V1807M1077 1763.1V1807M1078.1 1763.1V1807M1081.8 1763.1V1807M1084.7 1763.1V1807M1094.8 1763.1V1807M1098.2 1763.1V1807M1104.2 1763.1V1807M1137 1763.1V1807M1171.4 1763.1V1807M1175.2 1763.1V1807M1183.2 1763.1V1807M1194.7 1763.1V1807M1208.8 1763.1V1807M1250.7 1763.1V1807M1252.7 1763.1V1807M1254.1 1763.1V1807M1263.6 1763.1V1807M1299.2 1763.1V1807M1302.1 1763.1V1807M1321 1763.1V1807M1323.9 1763.1V1807M1352 1763.1V1807" stroke="#1a1a1a" stroke-width=".9" fill="none"/>
<path d="M1063.2 1626.1H1381.3V1908.6H1063.2ZM1063.2 1762.5H1381.3M1063.2 1807H1381.3M1063.2 1818H1381.3" stroke="#8e8e8e" stroke-width=".8" fill="none"/>
<path d="M1063.2 1686.4L1065.5 1664.9L1077 1674.4L1079 1656.3L1081.8 1657.2L1084.7 1642.5L1093.3 1649.1L1098.2 1635.3L1103.9 1639.9L1105.7 1633.3L1136.4 1656.3L1137.8 1651.4L1170.8 1675L1175.2 1669.2L1182.3 1672.7L1183.8 1669.8L1193.8 1677.3L1195.3 1673.5L1208.2 1682.7L1209.6 1679.3L1249.8 1709.4L1254.1 1697.1L1262.7 1703.7L1264.2 1700.2L1298.6 1725.2L1302.9 1722.9L1320.2 1736.7L1324.5 1733.8L1350.3 1753.1L1352.6 1751.9L1364.7 1762.5" stroke="#3fdc3f" stroke-width="1.1" fill="none" stroke-linejoin="round"/>
<g class="ns" font-size="8.6" fill="#444" text-anchor="end">
<text x="1058.3" y="1634.3">0.6</text>
<text x="1058.3" y="1655.8">0.5</text>
<text x="1058.3" y="1678">0.4</text>
<text x="1058.3" y="1700.1">0.3</text>
<text x="1058.3" y="1721.6">0.2</text>
<text x="1058.3" y="1743.4">0.1</text>
<text x="1058.3" y="1765.5">0.0</text>
</g>
<g class="ns" font-size="7" fill="#222" text-anchor="end">
<text x="1059.3" y="1823.5">20</text>
<text x="1059.3" y="1845.7">15</text>
<text x="1059.3" y="1867.8">10</text>
<text x="1059.3" y="1889.9">5</text>
<text x="1059.3" y="1911.7">0</text>
</g>
<g class="ns" font-size="7.4" fill="#222" text-anchor="middle">
<text x="1063.2" y="1919.5">0</text>
<text x="1103.9" y="1919.5">500</text>
<text x="1145.6" y="1919.5">1,000</text>
<text x="1187.2" y="1919.5">1,500</text>
<text x="1228.9" y="1919.5">2,000</text>
<text x="1269.9" y="1919.5">2,500</text>
<text x="1311.5" y="1919.5">3,000</text>
<text x="1353.2" y="1919.5">3,500</text>
</g>
<path d="M1063.2 1631.3h-2M1063.2 1652.8h-2M1063.2 1675h-2M1063.2 1697.1h-2M1063.2 1718.6h-2M1063.2 1740.4h-2M1063.2 1762.5h-2M1063.2 1821h-2M1063.2 1843.2h-2M1063.2 1865.3h-2M1063.2 1887.4h-2M1063.2 1909.2h-2M1063.2 1908.6v2M1103.9 1908.6v2M1145.6 1908.6v2M1187.2 1908.6v2M1228.9 1908.6v2M1269.9 1908.6v2M1311.5 1908.6v2M1353.2 1908.6v2" stroke="#8e8e8e" stroke-width=".7" fill="none"/>
<text x="1218.2" y="1930.8" font-size="8.8" text-anchor="middle" fill="#222">Rank in Ordered Dataset</text>
<text transform="translate(1033.9 1694.2) rotate(-90)" font-size="9.5" text-anchor="middle" fill="#555">Enrichment score (ES)</text>
<text transform="translate(1035.1 1856.3) rotate(-90)" font-size="9.2" text-anchor="middle" fill="#b0b0b0">Ranked list metric</text>
<text transform="translate(1045.4 1856.3) rotate(-90)" font-size="9.2" text-anchor="middle" fill="#b0b0b0">(PreRanked)</text>
<text x="1374.7" y="1646.8" font-size="16.4" text-anchor="end" fill="#222">NES=1.99</text>
<text x="1374.7" y="1666.3" font-size="16.4" text-anchor="end" fill="#222">FDR q-value=0.011</text>
<text x="1065.5" y="1832.3" font-size="13" fill="#e8434c">Classical T/N</text>
<text x="1228.9" y="1904" font-size="13" fill="#4545c8">Classical control</text>
<rect x="1071.8" y="1947.1" width="297.2" height="8.1" fill="#ecc153"/>
<text x="1220.2" y="1988.2" font-size="26.4" text-anchor="middle">Classical</text>
<path d="M1448 1904.5L1448 1841.7L1448.8 1852L1450.2 1856L1457.4 1864.7L1471.8 1871.3L1500.5 1877.6L1543.6 1882.8L1601 1886.8L1658.4 1890L1715.9 1892.6L1744 1893.4L1744 1904.5Z" fill="#bcbcbc"/>
<rect x="1448" y="1804.7" width="23.8" height="10.9" fill="#dc3335"/>
<rect x="1471.8" y="1804.7" width="89" height="10.9" fill="#ee5154"/>
<rect x="1560.8" y="1804.7" width="50.2" height="10.9" fill="#f66c7f"/>
<rect x="1611" y="1804.7" width="56" height="10.9" fill="#f68580"/>
<rect x="1667" y="1804.7" width="77" height="10.9" fill="#f9b5de"/>
<path d="M1458.9 1761.7V1804.7M1460 1761.7V1804.7M1461.2 1761.7V1804.7M1463.7 1761.7V1804.7M1465.5 1761.7V1804.7M1475.2 1761.7V1804.7M1477.5 1761.7V1804.7M1479.8 1761.7V1804.7M1481.8 1761.7V1804.7M1484.7 1761.7V1804.7M1486.7 1761.7V1804.7M1489 1761.7V1804.7M1502.5 1761.7V1804.7M1523.5 1761.7V1804.7M1528.4 1761.7V1804.7M1529.8 1761.7V1804.7M1541.3 1761.7V1804.7M1551.6 1761.7V1804.7M1561.7 1761.7V1804.7M1582.9 1761.7V1804.7M1589.5 1761.7V1804.7M1590.9 1761.7V1804.7M1591.8 1761.7V1804.7M1622.5 1761.7V1804.7M1624.5 1761.7V1804.7M1626.8 1761.7V1804.7M1628.9 1761.7V1804.7M1635.5 1761.7V1804.7M1636.9 1761.7V1804.7M1639.8 1761.7V1804.7M1681.4 1761.7V1804.7M1709.3 1761.7V1804.7" stroke="#1a1a1a" stroke-width=".9" fill="none"/>
<rect x="1470.1" y="1761.7" width="4" height="43" fill="#111"/>
<rect x="1648.7" y="1761.7" width="1.1" height="43" fill="#111"/>
<path d="M1448 1629H1759.5V1904.5H1448ZM1448 1761.1H1759.5M1448 1804.7H1759.5M1448 1815.7H1759.5M1448 1745.3H1759.5" stroke="#8e8e8e" stroke-width=".8" fill="none"/>
<path d="M1448 1745.3L1458.9 1754.8L1461.7 1703.7L1463.7 1705.1L1465.5 1696.5L1470.3 1700.2L1473.2 1665.8L1475.2 1666.9L1477.5 1652.6L1479.8 1654.3L1481.8 1645.7L1484.7 1648.5L1486.7 1641.1L1488.4 1642.8L1490.4 1634.8L1501.9 1645.7L1503.4 1639.1L1523.5 1657.2L1530.6 1642.5L1540.7 1650.5L1542.1 1646.2L1551.6 1654.3L1552.8 1649.1L1560.8 1654.9L1562.2 1651.4L1582.3 1669.2L1583.8 1664.9L1589.5 1669.8L1592.4 1661.2L1621.1 1687.9L1624.5 1676.4L1629.7 1669.8L1635.5 1675L1636.9 1670.6L1639.8 1672.7L1641.2 1669.2L1649.2 1677.3L1650.7 1669.8L1680.8 1696.5L1682 1693.6L1708.7 1715.7L1710.1 1713.7L1744 1744.4" stroke="#3fdc3f" stroke-width="1.1" fill="none" stroke-linejoin="round"/>
<g class="ns" font-size="8.6" fill="#444" text-anchor="end">
<text x="1443.1" y="1644.4">0.4</text>
<text x="1443.1" y="1670.2">0.3</text>
<text x="1443.1" y="1696.3">0.2</text>
<text x="1443.1" y="1722.5">0.1</text>
<text x="1443.1" y="1748.3">0.0</text>
</g>
<g class="ns" font-size="7" fill="#222" text-anchor="end">
<text x="1444.1" y="1823.5">10</text>
<text x="1444.1" y="1840.4">8</text>
<text x="1444.1" y="1857.1">6</text>
<text x="1444.1" y="1873.8">4</text>
<text x="1444.1" y="1890.7">2</text>
<text x="1444.1" y="1907.5">0</text>
</g>
<g class="ns" font-size="7.4" fill="#222" text-anchor="middle">
<text x="1448" y="1915">0</text>
<text x="1487.6" y="1915">500</text>
<text x="1527.8" y="1915">1,000</text>
<text x="1567.4" y="1915">1,500</text>
<text x="1607.6" y="1915">2,000</text>
<text x="1647.5" y="1915">2,500</text>
<text x="1688" y="1915">3,000</text>
<text x="1727.9" y="1915">3,500</text>
</g>
<path d="M1448 1641.4h-2M1448 1667.2h-2M1448 1693.3h-2M1448 1719.5h-2M1448 1745.3h-2M1448 1821h-2M1448 1837.9h-2M1448 1854.6h-2M1448 1871.3h-2M1448 1888.2h-2M1448 1905h-2M1448 1904.5v2M1487.6 1904.5v2M1527.8 1904.5v2M1567.4 1904.5v2M1607.6 1904.5v2M1647.5 1904.5v2M1688 1904.5v2M1727.9 1904.5v2" stroke="#8e8e8e" stroke-width=".7" fill="none"/>
<text x="1599.6" y="1926.3" font-size="8.8" text-anchor="middle" fill="#222">Rank in Ordered Dataset</text>
<text transform="translate(1417.2 1694.8) rotate(-90)" font-size="9.5" text-anchor="middle" fill="#555">Enrichment score (ES)</text>
<text transform="translate(1418.4 1853.1) rotate(-90)" font-size="9.2" text-anchor="middle" fill="#b0b0b0">Ranked list metric</text>
<text transform="translate(1428.7 1853.1) rotate(-90)" font-size="9.2" text-anchor="middle" fill="#b0b0b0">(PreRanked)</text>
<text x="1752.6" y="1644.8" font-size="16.4" text-anchor="end" fill="#222">NES=1.87</text>
<text x="1752.6" y="1664.3" font-size="16.4" text-anchor="end" fill="#222">FDR q-value=0.027</text>
<text x="1450.3" y="1830" font-size="13" fill="#e8434c">Mesenchymal T/N</text>
<text x="1753.2" y="1881.1" font-size="13" text-anchor="end" fill="#4545c8">Mesenchymal control</text>
<rect x="1454" y="1947.1" width="296.9" height="8.1" fill="#26408b"/>
<text x="1602.4" y="1988.2" font-size="26" text-anchor="middle">Mesenchymal</text>
<defs><filter id="nuA" x="0" y="0" width="100%" height="100%" color-interpolation-filters="sRGB"><feTurbulence type="fractalNoise" baseFrequency="0.25 0.25" numOctaves="2" seed="4" result="n"/><feColorMatrix in="n" type="matrix" values="0 0 0 0 0 0 0 0 0 0 0 0 0 0 0 0 0 0 7 -3.50" result="m"/><feGaussianBlur in="m" stdDeviation="0.7" result="mb"/><feComposite in="SourceGraphic" in2="mb" operator="in"/></filter><filter id="nuB" x="0" y="0" width="100%" height="100%" color-interpolation-filters="sRGB"><feTurbulence type="fractalNoise" baseFrequency="0.11 0.3" numOctaves="2" seed="9" result="n"/><feColorMatrix in="n" type="matrix" values="0 0 0 0 0 0 0 0 0 0 0 0 0 0 0 0 0 0 7 -3.78" result="m"/><feGaussianBlur in="m" stdDeviation="0.6" result="mb"/><feComposite in="SourceGraphic" in2="mb" operator="in"/></filter><filter id="nuC" x="0" y="0" width="100%" height="100%" color-interpolation-filters="sRGB"><feTurbulence type="fractalNoise" baseFrequency="0.14 0.3" numOctaves="2" seed="17" result="n"/><feColorMatrix in="n" type="matrix" values="0 0 0 0 0 0 0 0 0 0 0 0 0 0 0 0 0 0 7 -3.71" result="m"/><feGaussianBlur in="m" stdDeviation="0.6" result="mb"/><feComposite in="SourceGraphic" in2="mb" operator="in"/></filter><filter id="nuD" x="0" y="0" width="100%" height="100%" color-interpolation-filters="sRGB"><feTurbulence type="fractalNoise" baseFrequency="0.035 0.035" numOctaves="1" seed="21" result="n"/><feColorMatrix in="n" type="matrix" values="0 0 0 0 0 0 0 0 0 0 0 0 0 0 0 0 0 0 5 -2.50" result="m"/><feGaussianBlur in="m" stdDeviation="3" result="mb"/><feComposite in="SourceGraphic" in2="mb" operator="in"/></filter><filter id="fsoft" x="-5%" y="-5%" width="110%" height="110%"><feGaussianBlur stdDeviation=".6"/></filter></defs>
<text x="1011" y="2057" font-size="38">f</text>
<text x="1174.8" y="2047.5" font-size="25.8" text-anchor="middle">Control</text>
<text x="1351.7" y="2047.5" font-size="25.8" text-anchor="middle">T/N</text>
<path d="M1104.6 2060L1252.2 2060" stroke="#000" stroke-width="1.3"/>
<path d="M1283.1 2060.5L1430.1 2060.5" stroke="#000" stroke-width="1.3"/>
<clipPath id="cf1"><rect x="1099.2" y="2073.1" width="168.6" height="169.6"/></clipPath>
<g clip-path="url(#cf1)"><rect x="1099.2" y="2073.1" width="168.6" height="169.6" fill="#ebeaf4"/><g transform="rotate(30 1183.5 2157.9)"><rect x="1057" y="2030.7" width="252.9" height="254.4" fill="#f7f1ee" opacity="0.9" filter="url(#nuD)"/></g><g transform="rotate(0 1183.5 2157.9)"><rect x="1057" y="2030.7" width="252.9" height="254.4" fill="#959ed2" opacity="0.9" filter="url(#nuA)"/></g><g filter="url(#fsoft)"><circle cx="1108.5" cy="2157.9" r="2" fill="#3a2a22"/><circle cx="1113" cy="2159.6" r="1.6" fill="#6b3d1f"/><circle cx="1147.8" cy="2144.4" r="2.9" fill="#6d5a78"/><circle cx="1144.4" cy="2148.9" r="2.4" fill="#75607a"/><circle cx="1183.8" cy="2145.5" r="2.3" fill="#8f5a33"/><circle cx="1179.3" cy="2171.9" r="2.6" fill="#6b3d1f"/><circle cx="1160.2" cy="2200.6" r="2.3" fill="#8f5a33"/><circle cx="1210.7" cy="2191" r="2" fill="#8f5a33"/><circle cx="1184.9" cy="2131.5" r="1.6" fill="#b98a6a"/><circle cx="1132.1" cy="2157.9" r="1.6" fill="#b98a6a"/><circle cx="1184.9" cy="2162.4" r="1.6" fill="#b98a6a"/><circle cx="1213" cy="2165.8" r="3.6" fill="#6f7fcf"/><circle cx="1175.3" cy="2182" r="2.9" fill="#7d88cc"/><circle cx="1122" cy="2157.9" r="2.3" fill="#5f7ad0"/></g></g>
<rect x="1099.2" y="2073.1" width="168.6" height="169.6" fill="none" stroke="#1c1c1c" stroke-width="1.5"/>
<clipPath id="cf2"><rect x="1278.5" y="2074.2" width="169.4" height="169.1"/></clipPath>
<g clip-path="url(#cf2)"><rect x="1278.5" y="2074.2" width="169.4" height="169.1" fill="#f1ecf1"/><g transform="rotate(70 1363.2 2158.8)"><rect x="1236.2" y="2031.9" width="254.1" height="253.6" fill="#f3dcd8" opacity="0.8" filter="url(#nuD)"/></g><g transform="rotate(65 1363.2 2158.8)"><rect x="1236.2" y="2031.9" width="254.1" height="253.6" fill="#b0aed0" opacity="0.85" filter="url(#nuC)"/></g><g filter="url(#fsoft)"><circle cx="1394.8" cy="2083.7" r="2.3" fill="#3a2a22"/><circle cx="1420.1" cy="2088.2" r="2.9" fill="#8f5a33"/><circle cx="1424.6" cy="2095" r="2.6" fill="#8f5a33"/><circle cx="1367.3" cy="2123.1" r="2.6" fill="#6b3d1f"/><circle cx="1362.8" cy="2130.9" r="2.9" fill="#6b3d1f"/><circle cx="1304.3" cy="2149.5" r="2.9" fill="#6b3d1f"/><circle cx="1293.1" cy="2146.7" r="2.3" fill="#3a2a22"/><circle cx="1285.2" cy="2148.9" r="2.3" fill="#8f5a33"/><circle cx="1374" cy="2173.6" r="2.9" fill="#6b3d1f"/><circle cx="1383" cy="2178.7" r="2.6" fill="#8f5a33"/><circle cx="1341.4" cy="2172.5" r="2.6" fill="#8f5a33"/><circle cx="1336.9" cy="2192.7" r="2.6" fill="#6b3d1f"/><circle cx="1410" cy="2188.8" r="2.6" fill="#6b3d1f"/><circle cx="1406.6" cy="2195" r="2.9" fill="#6b3d1f"/><circle cx="1402.1" cy="2200.6" r="2.9" fill="#8f5a33"/><circle cx="1423.4" cy="2164.6" r="2.3" fill="#b98a6a"/><circle cx="1435.8" cy="2170.2" r="2.6" fill="#8f5a33"/><circle cx="1431.3" cy="2205.6" r="2.3" fill="#6b3d1f"/><circle cx="1433.6" cy="2208.4" r="2" fill="#3a2a22"/><circle cx="1416.7" cy="2217.4" r="1.6" fill="#3a2a22"/><circle cx="1377.4" cy="2215.2" r="2.6" fill="#8f5a33"/><circle cx="1360.5" cy="2229.8" r="2.3" fill="#6b3d1f"/><circle cx="1349.3" cy="2236" r="2.3" fill="#8f5a33"/><circle cx="1327.9" cy="2170.2" r="1.6" fill="#6b3d1f"/><circle cx="1443.7" cy="2238.8" r="2.3" fill="#6b3d1f"/><circle cx="1370.6" cy="2192.7" r="2" fill="#8f5a33"/><circle cx="1359.4" cy="2204.5" r="1.6" fill="#b98a6a"/><circle cx="1343.7" cy="2164.6" r="2" fill="#b98a6a"/><circle cx="1434.7" cy="2130.9" r="2" fill="#b98a6a"/><circle cx="1410" cy="2117.4" r="2" fill="#b98a6a"/><circle cx="1334.7" cy="2187.1" r="2" fill="#b98a6a"/></g></g>
<rect x="1278.5" y="2074.2" width="169.4" height="169.1" fill="none" stroke="#1c1c1c" stroke-width="1.5"/>
<clipPath id="cf3"><rect x="1100.4" y="2251.8" width="169.3" height="169.7"/></clipPath>
<g clip-path="url(#cf3)"><rect x="1100.4" y="2251.8" width="169.3" height="169.7" fill="#f5f4f8"/><g transform="rotate(-22 1185.1 2336.7)"><rect x="1058.1" y="2209.4" width="254" height="254.5" fill="#abb0d6" opacity="0.85" filter="url(#nuB)"/></g><g filter="url(#fsoft)"><circle cx="1128.7" cy="2322.4" r="1.6" fill="#6b3d1f"/><circle cx="1111.9" cy="2323.5" r="1.3" fill="#8f5a33"/><circle cx="1139.9" cy="2335.9" r="1.3" fill="#8f5a33"/><circle cx="1132.1" cy="2347.7" r="1.3" fill="#8f5a33"/><circle cx="1184.9" cy="2326.3" r="1.1" fill="#6b3d1f"/><circle cx="1172.5" cy="2325.8" r="1" fill="#6b3d1f"/><circle cx="1144.4" cy="2390.9" r="1.3" fill="#8f5a33"/><circle cx="1164.7" cy="2253.9" r="2" fill="#b98a6a"/><circle cx="1109.6" cy="2329.1" r="1" fill="#b98a6a"/><circle cx="1114.1" cy="2334.8" r="1" fill="#8f5a33"/><circle cx="1131" cy="2354.4" r="1.1" fill="#8f5a33"/><circle cx="1215.2" cy="2361.2" r="1.1" fill="#444"/><circle cx="1182.6" cy="2384.2" r="2" fill="#5b62b5"/><circle cx="1126.5" cy="2403.3" r="1.3" fill="#555"/><circle cx="1152.3" cy="2294.9" r="1" fill="#444"/><circle cx="1173.7" cy="2308.4" r="1.1" fill="#555"/></g></g>
<rect x="1100.4" y="2251.8" width="169.3" height="169.7" fill="none" stroke="#1c1c1c" stroke-width="1.5"/>
<clipPath id="cf4"><rect x="1278.5" y="2251.8" width="169.4" height="169.5"/></clipPath>
<g clip-path="url(#cf4)"><rect x="1278.5" y="2251.8" width="169.4" height="169.5" fill="#f3f1f6"/><g transform="rotate(40 1363.2 2336.6)"><rect x="1236.2" y="2209.4" width="254.1" height="254.2" fill="#abafd4" opacity="0.85" filter="url(#nuC)"/></g><g filter="url(#fsoft)"><circle cx="1303.8" cy="2273" r="2" fill="#6b3d1f"/><circle cx="1290.9" cy="2279.7" r="1.6" fill="#555"/><circle cx="1335.8" cy="2288.7" r="2.3" fill="#3a2a22"/><circle cx="1340.3" cy="2285.9" r="2" fill="#6b3d1f"/><circle cx="1345.9" cy="2289.8" r="2" fill="#8f5a33"/><circle cx="1352.7" cy="2290.9" r="2.3" fill="#6b3d1f"/><circle cx="1357.1" cy="2293.2" r="2.3" fill="#6b3d1f"/><circle cx="1362.8" cy="2285.9" r="2" fill="#3a2a22"/><circle cx="1369.5" cy="2287" r="1.6" fill="#3a2a22"/><circle cx="1375.1" cy="2285.3" r="2" fill="#3a2a22"/><circle cx="1378.5" cy="2277.5" r="1.6" fill="#3a2a22"/><circle cx="1388.6" cy="2275.2" r="2.3" fill="#8f5a33"/><circle cx="1395.3" cy="2260.6" r="2.3" fill="#6b3d1f"/><circle cx="1398.7" cy="2260.6" r="2" fill="#3a2a22"/><circle cx="1397.6" cy="2271.3" r="2" fill="#6b3d1f"/><circle cx="1405.5" cy="2271.8" r="2.3" fill="#8f5a33"/><circle cx="1427.9" cy="2270.2" r="2.3" fill="#6b3d1f"/><circle cx="1431.3" cy="2273" r="2" fill="#3a2a22"/><circle cx="1351.5" cy="2266.2" r="2" fill="#6b3d1f"/><circle cx="1356" cy="2266.8" r="2" fill="#6b3d1f"/><circle cx="1372.9" cy="2303.9" r="2.3" fill="#3a2a22"/><circle cx="1389.7" cy="2301.6" r="2.3" fill="#6b3d1f"/><circle cx="1371.8" cy="2310.6" r="2.3" fill="#8f5a33"/><circle cx="1366.1" cy="2313.4" r="2" fill="#6b3d1f"/><circle cx="1367.3" cy="2317.9" r="2" fill="#3a2a22"/><circle cx="1357.1" cy="2314" r="1.6" fill="#3a2a22"/><circle cx="1338" cy="2306.1" r="1.6" fill="#3a2a22"/><circle cx="1341.4" cy="2307.2" r="1.3" fill="#6b3d1f"/><circle cx="1442.5" cy="2296.6" r="2.6" fill="#6b3d1f"/><circle cx="1444.8" cy="2299.9" r="2.3" fill="#8f5a33"/><circle cx="1442.5" cy="2284.8" r="1.6" fill="#3a2a22"/><circle cx="1298.2" cy="2332" r="2" fill="#6b3d1f"/><circle cx="1301" cy="2333.1" r="1.6" fill="#8f5a33"/><circle cx="1320.1" cy="2332.5" r="1.6" fill="#6b3d1f"/><circle cx="1324.6" cy="2329.1" r="1.6" fill="#8f5a33"/><circle cx="1326.8" cy="2330.3" r="1.3" fill="#6b3d1f"/><circle cx="1316.7" cy="2395.4" r="1.6" fill="#b5622f"/><circle cx="1329.1" cy="2390.9" r="1" fill="#6b3d1f"/><circle cx="1393.7" cy="2284.2" r="1.6" fill="#8f5a33"/><circle cx="1406.6" cy="2292.1" r="1.3" fill="#3a2a22"/></g></g>
<rect x="1278.5" y="2251.8" width="169.4" height="169.5" fill="none" stroke="#1c1c1c" stroke-width="1.5"/>
<path d="M1209.6 2230L1251.7 2230" stroke="#000" stroke-width="1.5"/>
<path d="M1395.9 2230L1437.5 2230" stroke="#000" stroke-width="1.5"/>
<path d="M1209.6 2408.4L1251.7 2408.4" stroke="#000" stroke-width="1.5"/>
<path d="M1395.9 2408.4L1437.5 2408.4" stroke="#000" stroke-width="1.5"/>
<text transform="translate(1063.5 2158) rotate(-90)" font-size="27.4" text-anchor="middle">Classical</text>
<rect x="1077.4" y="2089.3" width="7.8" height="137.3" fill="#ecc153"/>
<text transform="translate(1064 2335.2) rotate(-90)" font-size="26" text-anchor="middle">Mesenchymal</text>
<rect x="1077.4" y="2267.5" width="7.8" height="137.9" fill="#26408b"/>
<path d="M1459.4 2091.2L1459.4 2408.5" stroke="#000" stroke-width="1.1"/>
<text transform="translate(1470.5 2249.5) rotate(90)" font-size="25.5" text-anchor="middle">γH2AX</text>
<text x="1532" y="2056.6" font-size="38">g</text>
<text x="1748" y="2034.6" font-size="26">p=0.008</text>
<path d="M1754.3 2121.3V2049.3H1836.3V2075.7" fill="none" stroke="#000" stroke-width="1.3"/>
<path d="M1731.9 2154.2C1731.8 2155.7 1730.8 2159.1 1731.4 2162.8C1732 2166.4 1734.2 2171.5 1735.3 2176.2C1736.4 2180.9 1737.3 2184.8 1738 2190.9C1738.6 2197 1739.5 2206.3 1739.2 2212.8C1738.9 2219.3 1737.7 2224.6 1736.3 2229.9C1734.8 2235.2 1731.8 2240.7 1730.4 2244.6C1729 2248.4 1728.2 2250.9 1728 2253.1C1727.7 2255.3 1728.8 2257.2 1728.9 2258L1779.7 2258C1779.9 2257.2 1780.9 2255.3 1780.7 2253.1C1780.4 2250.9 1779.6 2248.4 1778.3 2244.6C1776.9 2240.7 1773.9 2235.2 1772.4 2229.9C1770.9 2224.6 1769.8 2219.3 1769.5 2212.8C1769.2 2206.3 1770 2197 1770.7 2190.9C1771.3 2184.8 1772.3 2180.9 1773.4 2176.2C1774.5 2171.5 1776.7 2166.4 1777.3 2162.8C1777.8 2159.1 1776.9 2155.7 1776.8 2154.2Z" fill="#b3b3b3" stroke="#5a5a5a" stroke-width="1.2" stroke-linejoin="round"/>
<path d="M1731.6 2162.1L1777 2162.1" stroke="#5a5a5a" stroke-width="1"/>
<path d="M1728.2 2252.4L1780.4 2252.4" stroke="#5a5a5a" stroke-width="1"/>
<path d="M1739.2 2212.3L1769.5 2212.3" stroke="#000" stroke-width="1.3"/>
<circle cx="1754.3" cy="2154.7" r="4.1" fill="none" stroke="#000" stroke-width="1.35"/>
<circle cx="1754.3" cy="2165.2" r="4.1" fill="none" stroke="#000" stroke-width="1.35"/>
<circle cx="1754.3" cy="2197.4" r="4.1" fill="none" stroke="#000" stroke-width="1.35"/>
<circle cx="1754.3" cy="2227.5" r="4.1" fill="none" stroke="#000" stroke-width="1.35"/>
<circle cx="1763.6" cy="2250.7" r="4.1" fill="none" stroke="#000" stroke-width="1.35"/>
<circle cx="1745.8" cy="2257.5" r="4.1" fill="none" stroke="#000" stroke-width="1.35"/>
<path d="M1828.3 2096.2C1828.5 2097.3 1828.6 2100.2 1829.5 2103C1830.4 2105.8 1833.1 2109.9 1833.9 2112.8C1834.7 2115.6 1835 2117.6 1834.1 2120.1C1833.3 2122.5 1831.9 2125 1829 2127.4C1826.1 2129.8 1819.9 2132.5 1816.8 2134.7C1813.8 2137 1811.9 2138.8 1810.7 2140.8C1809.6 2142.9 1809.6 2145.1 1810 2146.9C1810.4 2148.8 1812.6 2151 1813.2 2151.8L1859.5 2151.8C1860.1 2151 1862.3 2148.8 1862.7 2146.9C1863.1 2145.1 1863.1 2142.9 1862 2140.8C1860.8 2138.8 1858.9 2137 1855.9 2134.7C1852.8 2132.5 1846.6 2129.8 1843.7 2127.4C1840.8 2125 1839.4 2122.5 1838.5 2120.1C1837.7 2117.6 1838 2115.6 1838.8 2112.8C1839.6 2109.9 1842.2 2105.8 1843.2 2103C1844.1 2100.2 1844.2 2097.3 1844.4 2096.2Z" fill="#f5bcc8" stroke="#d6456e" stroke-width="1.2" stroke-linejoin="round"/>
<path d="M1813.9 2137.2L1858.8 2137.2" stroke="#d6456e" stroke-width="1"/>
<path d="M1811.2 2149.9L1861.5 2149.9" stroke="#d6456e" stroke-width="1"/>
<path d="M1813.2 2138.9L1859.5 2138.9" stroke="#000" stroke-width="1.3"/>
<circle cx="1836.3" cy="2095.7" r="4.1" fill="none" stroke="#000" stroke-width="1.35"/>
<circle cx="1827.1" cy="2139.6" r="4.1" fill="none" stroke="#000" stroke-width="1.35"/>
<circle cx="1845.4" cy="2139.6" r="4.1" fill="none" stroke="#000" stroke-width="1.35"/>
<circle cx="1827.1" cy="2151.8" r="4.1" fill="none" stroke="#000" stroke-width="1.35"/>
<circle cx="1845.4" cy="2149.4" r="4.1" fill="none" stroke="#000" stroke-width="1.35"/>
<text x="1689.4" y="2075.9" font-size="21.7" text-anchor="end">40</text>
<text x="1689.4" y="2132.2" font-size="21.7" text-anchor="end">30</text>
<text x="1689.4" y="2188.5" font-size="21.7" text-anchor="end">20</text>
<text x="1689.4" y="2244.8" font-size="21.7" text-anchor="end">10</text>
<text x="1689.4" y="2301.2" font-size="21.7" text-anchor="end">0</text>
<path d="M1700.6 2068.1V2293.4H1891M1700.6 2068.1h-9M1700.6 2124.4h-9M1700.6 2180.7h-9M1700.6 2237h-9M1700.6 2293.4h-9M1754.3 2293.4v8.5M1836.3 2293.4v8.5" fill="none" stroke="#000" stroke-width="1.5"/>
<text transform="translate(1765.1 2317.7) rotate(-45)" font-size="21.7" text-anchor="end">Control</text>
<text transform="translate(1846.1 2318.9) rotate(-45)" font-size="21.7" text-anchor="end">T/N</text>
<text transform="translate(1616.8 2182) rotate(-90)" font-size="23.6" text-anchor="middle">% γH2AX<tspan dy="-8" font-size="16">+</tspan></text>
<text transform="translate(1646.5 2178) rotate(-90)" font-size="23.6" text-anchor="middle">(of all cells)</text>
<text transform="translate(1550.5 2181.6) rotate(-90)" font-size="27.4" text-anchor="middle">Classical</text>
<rect x="1564" y="2112.3" width="7.6" height="137.6" fill="#ecc153"/>
<text x="1744.3" y="2384.2" font-size="26">p=0.016</text>
<path d="M1750.2 2471.3V2400H1833.2V2412.2" fill="none" stroke="#000" stroke-width="1.3"/>
<path d="M1727 2499.4C1727.2 2500.5 1727 2503 1728.2 2506.2C1729.4 2509.4 1732.4 2513.5 1734.3 2518.4C1736.3 2523.3 1739.4 2531 1739.9 2535.5C1740.5 2540 1738.4 2542.4 1737.5 2545.3C1736.6 2548.1 1734.6 2549.7 1734.3 2552.6C1734.1 2555.4 1734.9 2559.3 1736 2562.4C1737.1 2565.4 1739.8 2568.7 1740.9 2570.9C1742 2573.1 1742.5 2575 1742.9 2575.8L1762.4 2575.8C1762.7 2575 1763.2 2573.1 1764.3 2570.9C1765.5 2568.7 1768.1 2565.4 1769.2 2562.4C1770.3 2559.3 1771.2 2555.4 1770.9 2552.6C1770.7 2549.7 1768.7 2548.1 1767.8 2545.3C1766.8 2542.4 1764.8 2540 1765.3 2535.5C1765.8 2531 1769 2523.3 1770.9 2518.4C1772.9 2513.5 1775.8 2509.4 1777 2506.2C1778.3 2503 1778 2500.5 1778.3 2499.4Z" fill="#b3b3b3" stroke="#5a5a5a" stroke-width="1.2" stroke-linejoin="round"/>
<path d="M1727.5 2501.8L1777.8 2501.8" stroke="#5a5a5a" stroke-width="1"/>
<path d="M1734.3 2553.1L1770.9 2553.1" stroke="#5a5a5a" stroke-width="1"/>
<path d="M1737 2524.8L1768.2 2524.8" stroke="#000" stroke-width="1.3"/>
<circle cx="1735.1" cy="2499.4" r="4.1" fill="none" stroke="#000" stroke-width="1.35"/>
<circle cx="1752.6" cy="2503" r="4.1" fill="none" stroke="#000" stroke-width="1.35"/>
<circle cx="1770.4" cy="2501.3" r="4.1" fill="none" stroke="#000" stroke-width="1.35"/>
<circle cx="1752.6" cy="2519.1" r="4.1" fill="none" stroke="#000" stroke-width="1.35"/>
<circle cx="1752.6" cy="2529.9" r="4.1" fill="none" stroke="#000" stroke-width="1.35"/>
<circle cx="1743.6" cy="2551.4" r="4.1" fill="none" stroke="#000" stroke-width="1.35"/>
<circle cx="1761.7" cy="2553.3" r="4.1" fill="none" stroke="#000" stroke-width="1.35"/>
<circle cx="1752.6" cy="2575.8" r="4.1" fill="none" stroke="#000" stroke-width="1.35"/>
<path d="M1825.8 2428.6C1826.1 2429.7 1826.5 2432.7 1827.6 2435.4C1828.6 2438.2 1831.2 2441.5 1832 2445.2C1832.7 2448.9 1833.2 2453.7 1832 2457.4C1830.7 2461.1 1827.1 2463.9 1824.6 2467.2C1822.1 2470.4 1818.2 2473.7 1816.8 2476.9C1815.4 2480.2 1817.2 2483.4 1816.1 2486.7C1814.9 2489.9 1811.4 2493.6 1810 2496.4C1808.6 2499.3 1807.1 2501.3 1807.5 2503.8C1807.9 2506.2 1810 2508.5 1812.4 2511.1C1814.9 2513.7 1820.6 2517.8 1822.2 2519.1L1846.6 2519.1C1848.2 2517.8 1853.9 2513.7 1856.4 2511.1C1858.8 2508.5 1860.8 2506.2 1861.2 2503.8C1861.6 2501.3 1860.2 2499.3 1858.8 2496.4C1857.4 2493.6 1853.8 2489.9 1852.7 2486.7C1851.6 2483.4 1853.4 2480.2 1852 2476.9C1850.5 2473.7 1846.7 2470.4 1844.2 2467.2C1841.6 2463.9 1838.1 2461.1 1836.8 2457.4C1835.6 2453.7 1836.1 2448.9 1836.8 2445.2C1837.6 2441.5 1840.2 2438.2 1841.2 2435.4C1842.2 2432.7 1842.6 2429.7 1842.9 2428.6Z" fill="#f5bcc8" stroke="#d6456e" stroke-width="1.2" stroke-linejoin="round"/>
<path d="M1816.8 2477.4L1852 2477.4" stroke="#d6456e" stroke-width="1"/>
<path d="M1808 2505L1860.8 2505" stroke="#d6456e" stroke-width="1"/>
<path d="M1809.5 2498.9L1859.3 2498.9" stroke="#000" stroke-width="1.3"/>
<circle cx="1834.4" cy="2428.6" r="4.1" fill="none" stroke="#000" stroke-width="1.35"/>
<circle cx="1825.1" cy="2477.7" r="4.1" fill="none" stroke="#000" stroke-width="1.35"/>
<circle cx="1843.2" cy="2481.1" r="4.1" fill="none" stroke="#000" stroke-width="1.35"/>
<circle cx="1816.6" cy="2498.9" r="4.1" fill="none" stroke="#000" stroke-width="1.35"/>
<circle cx="1852.2" cy="2502.6" r="4.1" fill="none" stroke="#000" stroke-width="1.35"/>
<circle cx="1834.4" cy="2505" r="4.1" fill="none" stroke="#000" stroke-width="1.35"/>
<circle cx="1834.4" cy="2519.1" r="4.1" fill="none" stroke="#000" stroke-width="1.35"/>
<text x="1687.7" y="2423.2" font-size="21.7" text-anchor="end">40</text>
<text x="1687.7" y="2479.4" font-size="21.7" text-anchor="end">30</text>
<text x="1687.7" y="2535.5" font-size="21.7" text-anchor="end">20</text>
<text x="1687.7" y="2591.6" font-size="21.7" text-anchor="end">10</text>
<text x="1687.7" y="2647.8" font-size="21.7" text-anchor="end">0</text>
<path d="M1698.9 2415.4V2640H1891M1698.9 2415.4h-9M1698.9 2471.6h-9M1698.9 2527.7h-9M1698.9 2583.8h-9M1698.9 2640h-9M1752.6 2640v8.5M1834.4 2640v8.5" fill="none" stroke="#000" stroke-width="1.5"/>
<text transform="translate(1763.2 2664.5) rotate(-45)" font-size="21.7" text-anchor="end">Control</text>
<text transform="translate(1844.4 2666) rotate(-45)" font-size="21.7" text-anchor="end">T/N</text>
<text transform="translate(1616.8 2529) rotate(-90)" font-size="23.6" text-anchor="middle">% γH2AX<tspan dy="-8" font-size="16">+</tspan></text>
<text transform="translate(1646.5 2525) rotate(-90)" font-size="23.6" text-anchor="middle">(of all cells)</text>
<text transform="translate(1550.5 2522.6) rotate(-90)" font-size="26" text-anchor="middle">Mesenchymal</text>
<rect x="1564" y="2453.7" width="7.6" height="137.9" fill="#26408b"/>
</svg>
</body></html>
